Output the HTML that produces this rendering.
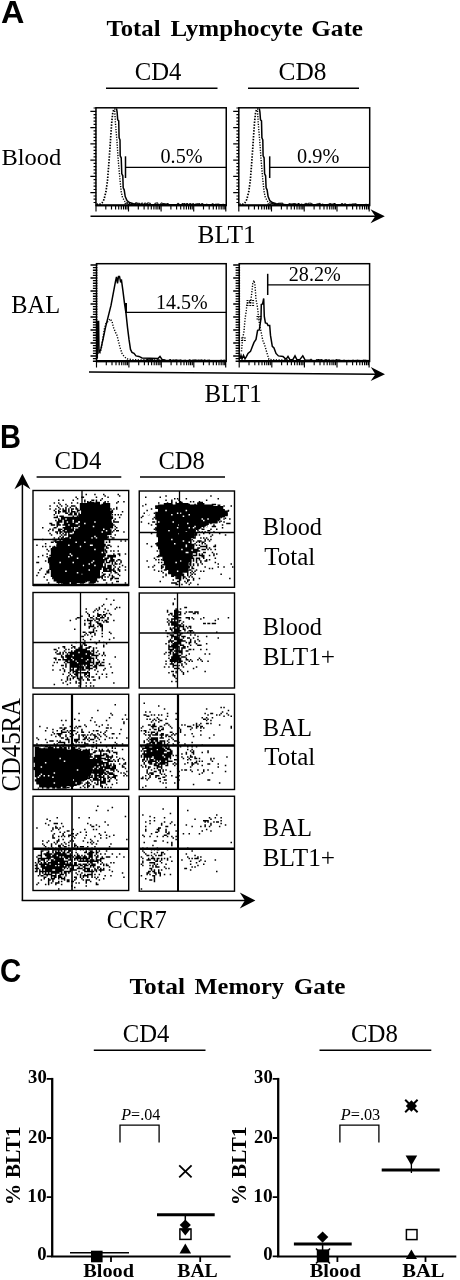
<!DOCTYPE html>
<html lang="en"><head><meta charset="utf-8"><title>Figure</title>
<style>
html,body{margin:0;padding:0;background:#fff}
svg{display:block;font-family:"Liberation Serif", serif}
svg text{fill:#000;stroke:none}
</style></head><body>
<svg width="460" height="1280" viewBox="0 0 460 1280" fill="none" stroke="#000" stroke-linecap="butt" stroke-linejoin="miter">
<rect x="0" y="0" width="460" height="1280" fill="#fff" stroke="none"/>
<path d="M106 88.3L217.5 88.3" stroke-width="1.6"/>
<path d="M248 88.3L359 88.3" stroke-width="1.6"/>
<rect x="95.95" y="107.8" width="130.3" height="97.7" stroke-width="1.5"/>
<path d="M96.25 108.0h-2.7M96.25 111.3h-5.9M96.25 114.6h-2.7M96.25 117.8h-2.7M96.25 121.1h-2.7M96.25 124.3h-2.7M96.25 127.6h-5.9M96.25 130.8h-2.7M96.25 134.1h-2.7M96.25 137.4h-2.7M96.25 140.6h-2.7M96.25 143.9h-5.9M96.25 147.1h-2.7M96.25 150.4h-2.7M96.25 153.6h-2.7M96.25 156.9h-2.7M96.25 160.2h-5.9M96.25 163.4h-2.7M96.25 166.7h-2.7M96.25 169.9h-2.7M96.25 173.2h-2.7M96.25 176.4h-5.9M96.25 179.7h-2.7M96.25 183.0h-2.7M96.25 186.2h-2.7M96.25 189.5h-2.7M96.25 192.7h-5.9M96.25 196.0h-2.7M96.25 199.2h-2.7M96.25 202.5h-2.7" stroke-width="1.2"/>
<path d="M96.0 205.5v6M105.8 205.5v3.9M111.5 205.5v3.9M115.6 205.5v3.9M118.7 205.5v3.9M121.3 205.5v3.9M123.5 205.5v3.9M125.4 205.5v3.9M127.0 205.5v3.9M128.5 205.5v6M138.3 205.5v3.9M144.1 205.5v3.9M148.1 205.5v3.9M151.3 205.5v3.9M153.9 205.5v3.9M156.1 205.5v3.9M157.9 205.5v3.9M159.6 205.5v3.9M161.1 205.5v6M170.9 205.5v3.9M176.6 205.5v3.9M180.7 205.5v3.9M183.9 205.5v3.9M186.4 205.5v3.9M188.6 205.5v3.9M190.5 205.5v3.9M192.2 205.5v3.9M193.7 205.5v6M203.5 205.5v3.9M209.2 205.5v3.9M213.3 205.5v3.9M216.4 205.5v3.9M219.0 205.5v3.9M221.2 205.5v3.9M223.1 205.5v3.9M224.8 205.5v3.9M225.8 205.5v6" stroke-width="1.15"/>
<path d="M95.95 205.2h130.3" stroke-width="2.1"/>
<rect x="238.8" y="107.8" width="130.9" height="97.7" stroke-width="1.5"/>
<path d="M239.10 108.0h-2.7M239.10 111.3h-5.9M239.10 114.6h-2.7M239.10 117.8h-2.7M239.10 121.1h-2.7M239.10 124.3h-2.7M239.10 127.6h-5.9M239.10 130.8h-2.7M239.10 134.1h-2.7M239.10 137.4h-2.7M239.10 140.6h-2.7M239.10 143.9h-5.9M239.10 147.1h-2.7M239.10 150.4h-2.7M239.10 153.6h-2.7M239.10 156.9h-2.7M239.10 160.2h-5.9M239.10 163.4h-2.7M239.10 166.7h-2.7M239.10 169.9h-2.7M239.10 173.2h-2.7M239.10 176.4h-5.9M239.10 179.7h-2.7M239.10 183.0h-2.7M239.10 186.2h-2.7M239.10 189.5h-2.7M239.10 192.7h-5.9M239.10 196.0h-2.7M239.10 199.2h-2.7M239.10 202.5h-2.7" stroke-width="1.2"/>
<path d="M238.8 205.5v6M248.7 205.5v3.9M254.4 205.5v3.9M258.5 205.5v3.9M261.7 205.5v3.9M264.3 205.5v3.9M266.5 205.5v3.9M268.4 205.5v3.9M270.0 205.5v3.9M271.5 205.5v6M281.4 205.5v3.9M287.1 205.5v3.9M291.2 205.5v3.9M294.4 205.5v3.9M297.0 205.5v3.9M299.2 205.5v3.9M301.1 205.5v3.9M302.8 205.5v3.9M304.2 205.5v6M314.1 205.5v3.9M319.9 205.5v3.9M324.0 205.5v3.9M327.1 205.5v3.9M329.7 205.5v3.9M331.9 205.5v3.9M333.8 205.5v3.9M335.5 205.5v3.9M337.0 205.5v6M346.8 205.5v3.9M352.6 205.5v3.9M356.7 205.5v3.9M359.8 205.5v3.9M362.4 205.5v3.9M364.6 205.5v3.9M366.5 205.5v3.9M368.2 205.5v3.9M369.2 205.5v6" stroke-width="1.15"/>
<path d="M238.8 205.2h130.9" stroke-width="2.1"/>
<rect x="96.5" y="263.7" width="129.7" height="97.7" stroke-width="1.5"/>
<path d="M97.40 265.0h-6.9M97.40 267.6h-4.5M97.40 270.2h-4.5M97.40 272.8h-4.5M97.40 275.4h-4.5M97.40 278.0h-6.9M97.40 280.6h-4.5M97.40 283.2h-4.5M97.40 285.8h-4.5M97.40 288.4h-4.5M97.40 291.0h-6.9M97.40 293.6h-4.5M97.40 296.2h-4.5M97.40 298.8h-4.5M97.40 301.4h-4.5M97.40 304.0h-6.9M97.40 306.6h-4.5M97.40 309.2h-4.5M97.40 311.8h-4.5M97.40 314.4h-4.5M97.40 317.0h-6.9M97.40 319.6h-4.5M97.40 322.2h-4.5M97.40 324.8h-4.5M97.40 327.4h-4.5M97.40 330.0h-6.9M97.40 332.6h-4.5M97.40 335.2h-4.5M97.40 337.8h-4.5M97.40 340.4h-4.5M97.40 343.0h-6.9M97.40 345.6h-4.5M97.40 348.2h-4.5M97.40 350.8h-4.5M97.40 353.4h-4.5M97.40 356.0h-6.9M97.40 358.6h-4.5M97.40 361.2h-4.5" stroke-width="1.35"/>
<path d="M96.5 361.4v6M106.3 361.4v3.9M112.0 361.4v3.9M116.0 361.4v3.9M119.2 361.4v3.9M121.7 361.4v3.9M123.9 361.4v3.9M125.8 361.4v3.9M127.4 361.4v3.9M128.9 361.4v6M138.7 361.4v3.9M144.4 361.4v3.9M148.4 361.4v3.9M151.6 361.4v3.9M154.2 361.4v3.9M156.3 361.4v3.9M158.2 361.4v3.9M159.9 361.4v3.9M161.3 361.4v6M171.1 361.4v3.9M176.8 361.4v3.9M180.9 361.4v3.9M184.0 361.4v3.9M186.6 361.4v3.9M188.8 361.4v3.9M190.6 361.4v3.9M192.3 361.4v3.9M193.8 361.4v6M203.5 361.4v3.9M209.2 361.4v3.9M213.3 361.4v3.9M216.4 361.4v3.9M219.0 361.4v3.9M221.2 361.4v3.9M223.1 361.4v3.9M224.7 361.4v3.9M225.7 361.4v6" stroke-width="1.15"/>
<path d="M96.5 361.09999999999997h129.7" stroke-width="2.1"/>
<rect x="239.2" y="263.7" width="130.4" height="97.7" stroke-width="1.5"/>
<path d="M240.10 265.0h-6.9M240.10 267.6h-4.5M240.10 270.2h-4.5M240.10 272.8h-4.5M240.10 275.4h-4.5M240.10 278.0h-6.9M240.10 280.6h-4.5M240.10 283.2h-4.5M240.10 285.8h-4.5M240.10 288.4h-4.5M240.10 291.0h-6.9M240.10 293.6h-4.5M240.10 296.2h-4.5M240.10 298.8h-4.5M240.10 301.4h-4.5M240.10 304.0h-6.9M240.10 306.6h-4.5M240.10 309.2h-4.5M240.10 311.8h-4.5M240.10 314.4h-4.5M240.10 317.0h-6.9M240.10 319.6h-4.5M240.10 322.2h-4.5M240.10 324.8h-4.5M240.10 327.4h-4.5M240.10 330.0h-6.9M240.10 332.6h-4.5M240.10 335.2h-4.5M240.10 337.8h-4.5M240.10 340.4h-4.5M240.10 343.0h-6.9M240.10 345.6h-4.5M240.10 348.2h-4.5M240.10 350.8h-4.5M240.10 353.4h-4.5M240.10 356.0h-6.9M240.10 358.6h-4.5M240.10 361.2h-4.5" stroke-width="1.35"/>
<path d="M239.2 361.4v6M249.0 361.4v3.9M254.8 361.4v3.9M258.8 361.4v3.9M262.0 361.4v3.9M264.6 361.4v3.9M266.8 361.4v3.9M268.6 361.4v3.9M270.3 361.4v3.9M271.8 361.4v6M281.6 361.4v3.9M287.4 361.4v3.9M291.4 361.4v3.9M294.6 361.4v3.9M297.2 361.4v3.9M299.4 361.4v3.9M301.2 361.4v3.9M302.9 361.4v3.9M304.4 361.4v6M314.2 361.4v3.9M320.0 361.4v3.9M324.0 361.4v3.9M327.2 361.4v3.9M329.8 361.4v3.9M332.0 361.4v3.9M333.8 361.4v3.9M335.5 361.4v3.9M337.0 361.4v6M346.8 361.4v3.9M352.6 361.4v3.9M356.6 361.4v3.9M359.8 361.4v3.9M362.4 361.4v3.9M364.6 361.4v3.9M366.4 361.4v3.9M368.1 361.4v3.9M369.1 361.4v6" stroke-width="1.15"/>
<path d="M239.2 361.09999999999997h130.4" stroke-width="2.1"/>
<path d="M90.5 216.3L376.8 216.3" stroke-width="1.5"/>
<path d="M384.8 216.3L370.5 209.3L375.2 216.3L370.5 223.3Z" fill="#000" stroke="none"/>
<g transform="rotate(0.45 89 371.9)"><path d="M89 371.9L377 371.9" stroke-width="1.5"/>
<path d="M385 371.9L370.7 364.9L375.4 371.9L370.7 378.9Z" fill="#000" stroke="none"/></g>
<path d="M96.5 204.0L99.5 204.5L102.0 203.0L104.0 199.5L106.0 191.5L107.5 180.5L108.7 165.5L109.8 150.5L110.8 135.5L111.8 121.5L112.8 112.5L114.0 109.0L115.5 109.0" stroke-width="1.7" stroke-dasharray="1.5 1.4"/>
<path d="M116.5 108.3L117.1 111.8L117.7 119.8L118.7 120.8L119.1 137.8L120.0 139.8L120.2 155.8L121.2 157.8L121.8 173.8L122.8 175.8L123.2 187.8L124.2 189.8L125.2 196.5L127.0 200.5L129.4 202.5L133.4 203.7L141.4 204.5L165.4 204.7L225.6 205.0" stroke-width="1.5"/>
<path d="M114.7 110.8L115.5 123.8L117.0 141.8L118.2 159.8L119.8 177.8L121.2 191.8L122.5 197.5L125.0 201.5L128.4 203.3L135.4 204.3" stroke-width="1.4" stroke-dasharray="1.2 1.4"/>
<path d="M239.3 204.0L242.3 204.5L244.8 203.0L246.8 199.5L248.8 191.5L250.3 180.5L251.5 165.5L252.6 150.5L253.6 135.5L254.6 121.5L255.6 112.5L256.8 109.0L258.3 109.0" stroke-width="1.7" stroke-dasharray="1.5 1.4"/>
<path d="M259.3 108.3L259.9 111.8L260.5 119.8L261.5 120.8L261.9 137.8L262.8 139.8L263.1 155.8L264.1 157.8L264.6 173.8L265.6 175.8L266.1 187.8L267.1 189.8L268.1 196.5L269.8 200.5L272.3 202.5L276.3 203.7L284.3 204.5L308.3 204.7L368.5 205.0" stroke-width="1.5"/>
<path d="M257.5 110.8L258.3 123.8L259.8 141.8L261.1 159.8L262.6 177.8L264.1 191.8L265.3 197.5L267.8 201.5L271.3 203.3L278.3 204.3" stroke-width="1.4" stroke-dasharray="1.2 1.4"/>
<path d="M125.0 204.5V203.3H126.5V203.2H128.0V204.5H129.4V204.5H130.9V204.5H132.4V204.0H133.9V204.5H135.4V202.8H136.9V203.2H138.4V203.3H139.9V204.5H141.4V203.1H142.9V204.5H144.4V203.1H145.9V203.9H147.4V202.9H148.9V203.2H150.4V204.5H151.9V204.5H153.4V204.5H154.9V203.2H156.4V202.9H157.9V204.5H159.4V204.3H160.9V203.0H162.4V203.5H163.9V203.7H165.4V204.0H166.9V203.6H168.4V204.5H169.9V204.5H171.4V204.5H172.9V204.5H174.4V204.5H175.9V204.5H177.4V203.4H178.9V204.5H180.4V204.5H181.9V203.6H183.4V203.5H184.9V204.2H186.4V203.5H187.9V204.5H189.4V203.6H190.9V204.3H192.4V203.7H193.9V204.5H195.4V203.9H196.9V203.8H198.4V203.6H199.9V204.5H201.4V203.6H202.9V204.4H204.4V204.5H205.9V204.2H207.4V204.5H208.9V204.5H210.4V204.5H211.9V203.8H213.4V204.5H214.9V204.2H216.4V204.1H217.9V204.1H219.4V204.5H220.9V204.5H222.4V204.3H223.9V204.5H225.4" stroke-width="1.0"/>
<path d="M267.8 204.5V203.8H269.3V204.5H270.8V203.3H272.3V203.6H273.8V204.5H275.3V204.5H276.8V204.5H278.3V203.2H279.8V203.2H281.3V203.1H282.8V204.5H284.3V204.4H285.8V204.5H287.3V204.5H288.8V203.7H290.3V203.9H291.8V203.9H293.3V203.5H294.8V203.8H296.3V204.5H297.8V203.5H299.3V204.5H300.8V204.1H302.3V204.5H303.8V204.2H305.3V203.4H306.8V204.0H308.3V203.2H309.8V203.2H311.3V204.0H312.8V204.5H314.3V204.5H315.8V204.2H317.3V203.8H318.8V203.4H320.3V204.5H321.8V204.1H323.3V204.5H324.8V204.5H326.3V204.5H327.8V204.3H329.3V203.6H330.8V204.1H332.3V204.0H333.8V203.5H335.3V204.5H336.8V204.5H338.3V204.5H339.8V204.5H341.3V203.6H342.8V204.5H344.3V203.8H345.8V204.5H347.3V204.5H348.8V204.3H350.3V204.3H351.8V204.0H353.3V203.9H354.8V203.8H356.3V204.5H357.8V204.5H359.3V204.5H360.8V204.5H362.3V204.5H363.8V204.5H365.3V204.3H366.8V204.5H368.3V204.3H369.8" stroke-width="1.0"/>
<path d="M140.9 360.4V360.4H142.4V360.4H143.9V360.1H145.4V360.4H146.9V359.5H148.4V360.2H149.9V359.4H151.4V359.5H152.9V360.4H154.4V360.4H155.9V360.4H157.4V359.7H158.9V360.4H160.4V360.1H161.9V359.9H163.4V359.9H164.9V360.4H166.4V360.3H167.9V360.3H169.4V359.5H170.9V360.4H172.4V359.9H173.9V360.1H175.4V359.8H176.9V360.1H178.4V360.1H179.9V359.9H181.4V360.4H182.9V360.3H184.4V360.1H185.9V360.4H187.4V360.4H188.9V359.8H190.4V360.4H191.9V360.1H193.4V359.9H194.9V359.9H196.4V360.2H197.9V360.0H199.4V360.1H200.9V359.9H202.4V360.4H203.9V359.9H205.4V360.4H206.9V360.2H208.4V360.0H209.9V360.4H211.4V360.4H212.9V360.4H214.4V360.4H215.9V360.4H217.4V360.4H218.9V360.4H220.4V360.1H221.9V360.4H223.4V360.1H224.9V360.4H226.4" stroke-width="1.0"/>
<path d="M308.8 360.4V360.4H310.3V359.3H311.8V360.4H313.3V360.4H314.8V360.4H316.3V359.5H317.8V359.5H319.3V359.6H320.8V359.6H322.3V360.4H323.8V360.1H325.3V359.6H326.8V360.2H328.3V359.8H329.8V360.4H331.3V360.1H332.8V360.1H334.3V360.3H335.8V359.6H337.3V359.8H338.8V359.9H340.3V360.4H341.8V360.4H343.3V360.1H344.8V360.4H346.3V360.4H347.8V360.3H349.3V360.4H350.8V360.4H352.3V360.1H353.8V360.4H355.3V360.3H356.8V360.1H358.3V360.3H359.8V360.4H361.3V360.4H362.8V360.1H364.3V360.1H365.8V360.3H367.3V360.4H368.8" stroke-width="1.0"/>
<path d="M125.5 156.3L125.5 178" stroke-width="1.5"/>
<path d="M125.5 167.3L226.25 167.3" stroke-width="1.3"/>
<path d="M269.7 156.3L269.7 178" stroke-width="1.5"/>
<path d="M269.7 167.3L369.70000000000005 167.3" stroke-width="1.3"/>
<path d="M97.3 358.4L97.6 321.4L98.6 321.4L99 352.4L100 351.4L101 348.4L103 339.4L105.5 327.4L108 317.4L110 309.4L111 305.4L112.5 297.4L114 289.4L115.5 281.4L116.5 276.9L117.5 283.4L118.5 276.4L119.5 276.4L120.5 281.4L121.5 280.4L123 291.4L124.5 303.4L126 313.4L127.5 327.4L129 339.4L130.5 349.4L132 352.4L134 353.4L136 355.9L139 356.4L142 357.9L150 358.2L158 358.6L160 356.4L162 359.4L166 360.4L226.2 360.8" stroke-width="1.5"/>
<path d="M100 353.4L101.5 347.4L103 337.4L104.5 328.4L106 323.4L108 321.4L110 318.9L112 321.4L113.5 327.4L115.5 332.4L117 335.4L118.5 341.4L120 347.4L122 353.4L124 356.4L127 358.9L132 359.6L140 359.9L160 359.9" stroke-width="1.4" stroke-dasharray="1.2 1.5"/>
<path d="M126 303L126 313" stroke-width="2"/>
<path d="M126 312.4L226.25 312.4" stroke-width="1.3"/>
<path d="M240 358.9L241 355.4L242 358.9L243.5 355.4L245 358.9L246.5 356.4L248 353.4L250.5 351.4L252 347.4L254 342.4L256 339.4L257.6 330.4L259.3 329.9L261 318.4L261.3 304.4L262.6 303.9L263.7 298.4L264.3 316.4L265.4 322.9L267 323.4L268 325.4L269.7 325.4L270.5 335.4L272.3 346.4L274 347.9L276 353.4L278.4 355.9L283 356.4L286 359.4L288 356.4L290 359.9L293 359.4L295 355.9L297 359.9L300 359.4L302.8 355.9L305 359.9L312 360.4L369.7 360.8" stroke-width="1.5"/>
<path d="M241.5 351.4L242.5 339.4L244 331.4L245 319.4L246.3 310.4L247 303.4L249 301.4L250.5 303.4L251.5 295.4L252.8 283.4L254 280.4L255 285.4L256 299.4L257.2 305.4L258.4 315.4L259.6 325.4L261 331.4L262.8 340.4L264.5 344.4L266.5 351.4L268.9 359.4L275 359.9L290 359.9" stroke-width="1.4" stroke-dasharray="1.2 1.5"/>
<path d="M246.5 300.5h8M246.5 303h8M246.5 305.5h8M256.5 316.5h5M256.5 319h5M241 338h5M241 340.5h5" stroke-width="1.2" stroke-dasharray="2 0.8"/>
<path d="M267.7 273.8L267.7 295" stroke-width="1.5"/>
<path d="M267.7 284.9L369.70000000000005 284.9" stroke-width="1.3"/>
<path d="M36.6 477L121.3 477" stroke-width="1.6"/>
<path d="M140 477L225 477" stroke-width="1.6"/>
<path d="M22.4 900.4L22.4 481.7" stroke-width="1.5"/>
<path d="M22.4 473.7L14.399999999999999 489.3L22.4 484.2L30.4 489.3Z" fill="#000" stroke="none"/>
<path d="M21.65 900.4L247.4 900.4" stroke-width="1.5"/>
<path d="M255.4 900.4L239.8 892.4L244.9 900.4L239.8 908.4Z" fill="#000" stroke="none"/>
<path d="M79.8 503.1H84.1V503.1H85.5V503.1H87.0V501.7H88.5V501.7H91.3V501.7H94.2V503.1H95.7V501.7H100.0V504.6H103.0V503.1H107.3V503.1H108.8V503.1H108.8V503.1H110.2V508.9H110.2V510.4H113.1V511.8H113.1V513.3H111.6V516.2H113.1V519.1H111.6V522.0H111.6V523.4H113.1V527.8H110.2V529.2H111.6V532.1H111.6V533.6H111.6V535.0H107.3V539.4H104.4V540.9H104.4V543.8H105.8V545.2H105.8V546.6H104.4V549.5H104.4V552.4H105.8V555.4H104.4V556.8H103.0V559.7H104.4V562.6H104.4V562.6H103.0V566.9H101.5V568.4H101.5V569.9H100.0V574.2H100.0V574.2H100.0V578.5H97.1V578.5H97.1V581.4H95.7V582.9H92.8V582.9H89.9V584.4H89.9V581.4H85.5V582.9H82.6V582.9H81.2V582.9H76.8V582.9H76.8V582.9H76.8V584.4H72.5V584.4H71.0V581.4H69.6V584.4H66.7V584.4H62.4V582.9H59.4V582.9H56.5V581.4H55.1V581.4H53.6V578.5H52.2V577.1H50.8V575.6H49.3V575.6H50.8V569.9H49.3V568.4H49.3V565.5H50.8V565.5H49.3V562.6H47.9V558.2H49.3V556.8H50.8V553.9H47.9V553.9H50.8V548.1H52.2V546.6H53.6V546.6H56.5V543.8H56.5V540.9H58.0V540.9H62.4V539.4H63.8V537.9H68.1V539.4H71.0V537.9H72.5V536.5H72.5V533.6H74.0V530.7H75.4V529.2H76.8V529.2H79.8V524.9H79.8V524.9H79.8V520.5H78.3V517.6H78.3V514.8H79.8V514.8H81.2V511.8H81.2V510.4H79.8V507.5Z" fill="#000" stroke="none"/>
<path d="M110.2 511.8h1.5M95.7 508.9h1.5M103.0 536.5h1.5M87.0 536.5h1.5M105.8 519.1h1.5M76.8 535.0h1.5M95.7 514.8h1.5M100.0 524.9h1.5M111.6 510.4h1.5M107.3 536.5h1.5M110.2 519.1h1.5M88.5 530.7h1.5M97.1 522.0h1.5M110.2 517.6h1.5M72.5 517.6h1.5M76.8 529.2h1.5M98.6 514.8h1.5M95.7 529.2h1.5M97.1 533.6h1.5M95.7 530.7h1.5M110.2 536.5h1.5M89.9 529.2h1.5M76.8 510.4h1.5M76.8 532.1h1.5M84.1 520.5h1.5M94.2 520.5h1.5M89.9 523.4h1.5M114.5 522.0h1.5M101.5 530.7h1.5M94.2 508.9h1.5M89.9 532.1h1.5M79.8 514.8h1.5M105.8 529.2h1.5M97.1 508.9h1.5M105.8 514.8h1.5M87.0 513.3h1.5M81.2 520.5h1.5M84.1 524.9h1.5M72.5 524.9h1.5M89.9 501.7h1.5M103.0 517.6h1.5M74.0 511.8h1.5M98.6 516.2h1.5M104.4 527.8h1.5M103.0 524.9h1.5M108.8 527.8h1.5M100.0 500.2h1.5M104.4 533.6h1.5M92.8 516.2h1.5M116.0 503.1h1.5M100.0 545.2h1.5M87.0 527.8h1.5M114.5 519.1h1.5M87.0 520.5h1.5M98.6 529.2h1.5M95.7 519.1h1.5M85.5 517.6h1.5M104.4 522.0h1.5M123.2 532.1h1.5M103.0 494.4h1.5M101.5 526.4h1.5M113.1 524.9h1.5M95.7 526.4h1.5M76.8 530.7h1.5M98.6 513.3h1.5M108.8 539.4h1.5M82.6 514.8h1.5M98.6 523.4h1.5M91.3 511.8h1.5M117.5 530.7h1.5M84.1 507.5h1.5M113.1 530.7h1.5M114.5 529.2h1.5M87.0 523.4h1.5M74.0 513.3h1.5M88.5 519.1h1.5M103.0 523.4h1.5M92.8 529.2h1.5M97.1 513.3h1.5M89.9 520.5h1.5M94.2 522.0h1.5M95.7 523.4h1.5M100.0 532.1h1.5M100.0 519.1h1.5M100.0 511.8h1.5M76.8 522.0h1.5M85.5 494.4h1.5M85.5 536.5h1.5M92.8 507.5h1.5M88.5 526.4h1.5M101.5 523.4h1.5M110.2 527.8h1.5M105.8 510.4h1.5M94.2 527.8h1.5M92.8 532.1h1.5M94.2 546.6h1.5M108.8 519.1h1.5M97.1 546.6h1.5M105.8 520.5h1.5M84.1 523.4h1.5M104.4 520.5h1.5M104.4 526.4h1.5M98.6 522.0h1.5M85.5 514.8h1.5M95.7 506.1h1.5M91.3 500.2h1.5M101.5 520.5h1.5M94.2 507.5h1.5M114.5 526.4h1.5M107.3 511.8h1.5M94.2 503.1h1.5M104.4 530.7h1.5M76.8 520.5h1.5M103.0 503.1h1.5M78.3 510.4h1.5M89.9 507.5h1.5M103.0 527.8h1.5M111.6 532.1h1.5M82.6 516.2h1.5M85.5 510.4h1.5M95.7 520.5h1.5M101.5 504.6h1.5M94.2 517.6h1.5M95.7 513.3h1.5M94.2 494.4h1.5M85.5 522.0h1.5M81.2 523.4h1.5M97.1 507.5h1.5M92.8 517.6h1.5M100.0 527.8h1.5M95.7 511.8h1.5M88.5 507.5h1.5M92.8 513.3h1.5M85.5 520.5h1.5M91.3 522.0h1.5M101.5 516.2h1.5M118.9 517.6h1.5M107.3 522.0h1.5M107.3 497.3h1.5M88.5 523.4h1.5M101.5 543.8h1.5M98.6 533.6h1.5M103.0 530.7h1.5M101.5 519.1h1.5M101.5 510.4h1.5M107.3 510.4h1.5M98.6 542.3h1.5M107.3 520.5h1.5M101.5 527.8h1.5M88.5 537.9h1.5M113.1 520.5h1.5M110.2 513.3h1.5M103.0 516.2h1.5M88.5 527.8h1.5M108.8 520.5h1.5M91.3 543.8h1.5M78.3 539.4h1.5M110.2 508.9h1.5M81.2 504.6h1.5M107.3 516.2h1.5M95.7 517.6h1.5M94.2 510.4h1.5M87.0 522.0h1.5M91.3 536.5h1.5M91.3 513.3h1.5M87.0 517.6h1.5M98.6 526.4h1.5M101.5 542.3h1.5M88.5 520.5h1.5M123.2 501.7h1.5M97.1 524.9h1.5M94.2 524.9h1.5M97.1 529.2h1.5M76.8 511.8h1.5M95.7 510.4h1.5M85.5 527.8h1.5M89.9 527.8h1.5M100.0 516.2h1.5M95.7 527.8h1.5M114.5 514.8h1.5M97.1 519.1h1.5M111.6 523.4h1.5M104.4 514.8h1.5M78.3 535.0h1.5M104.4 503.1h1.5M103.0 519.1h1.5M81.2 519.1h1.5M111.6 514.8h1.5M85.5 507.5h1.5M98.6 543.8h1.5M91.3 514.8h1.5M85.5 508.9h1.5M82.6 519.1h1.5M89.9 524.9h1.5M104.4 513.3h1.5M97.1 527.8h1.5M111.6 517.6h1.5M84.1 501.7h1.5M92.8 514.8h1.5M104.4 519.1h1.5M98.6 537.9h1.5M88.5 545.2h1.5M97.1 530.7h1.5M84.1 500.2h1.5M101.5 529.2h1.5M103.0 546.6h1.5M105.8 524.9h1.5M113.1 508.9h1.5M104.4 517.6h1.5M105.8 542.3h1.5M95.7 522.0h1.5M94.2 530.7h1.5M84.1 535.0h1.5M107.3 524.9h1.5M79.8 536.5h1.5M100.0 529.2h1.5M98.6 519.1h1.5M81.2 530.7h1.5M100.0 522.0h1.5M95.7 500.2h1.5M91.3 527.8h1.5M108.8 517.6h1.5M94.2 536.5h1.5M92.8 527.8h1.5M113.1 522.0h1.5M108.8 513.3h1.5M98.6 520.5h1.5M97.1 532.1h1.5M120.3 514.8h1.5M89.9 526.4h1.5M85.5 526.4h1.5M101.5 517.6h1.5M101.5 506.1h1.5M103.0 506.1h1.5M88.5 514.8h1.5M91.3 529.2h1.5M97.1 517.6h1.5M101.5 536.5h1.5M95.7 524.9h1.5M108.8 523.4h1.5M82.6 545.2h1.5M117.5 501.7h1.5M105.8 527.8h1.5M92.8 510.4h1.5M95.7 501.7h1.5M100.0 513.3h1.5M107.3 537.9h1.5M88.5 516.2h1.5M71.0 539.4h1.5M101.5 507.5h1.5M100.0 520.5h1.5M78.3 523.4h1.5M107.3 501.7h1.5M104.4 523.4h1.5M104.4 516.2h1.5M103.0 513.3h1.5M94.2 537.9h1.5M84.1 513.3h1.5M98.6 530.7h1.5M100.0 526.4h1.5M95.7 535.0h1.5M100.0 508.9h1.5M100.0 523.4h1.5M85.5 529.2h1.5M88.5 524.9h1.5M87.0 543.8h1.5M91.3 533.6h1.5M118.9 495.9h1.5M91.3 526.4h1.5M117.5 522.0h1.5M79.8 529.2h1.5M78.3 532.1h1.5M89.9 522.0h1.5M108.8 522.0h1.5M82.6 504.6h1.5M107.3 527.8h1.5M88.5 529.2h1.5M74.0 517.6h1.5M104.4 495.9h1.5M97.1 526.4h1.5M121.8 511.8h1.5M92.8 522.0h1.5M107.3 513.3h1.5M97.1 514.8h1.5M79.8 532.1h1.5M92.8 500.2h1.5M108.8 524.9h1.5M85.5 513.3h1.5M89.9 514.8h1.5M84.1 527.8h1.5M82.6 527.8h1.5M85.5 524.9h1.5M110.2 523.4h1.5M88.5 522.0h1.5M97.1 503.1h1.5M103.0 529.2h1.5M92.8 520.5h1.5M117.5 494.4h1.5M105.8 548.1h1.5M71.0 522.0h1.5M101.5 498.8h1.5M104.4 524.9h1.5M74.0 520.5h1.5M101.5 522.0h1.5M108.8 540.9h1.5M87.0 501.7h1.5M104.4 536.5h1.5M89.9 513.3h1.5M104.4 511.8h1.5M120.3 540.9h1.5M88.5 513.3h1.5M85.5 533.6h1.5M76.8 498.8h1.5M82.6 513.3h1.5M75.4 519.1h1.5M94.2 519.1h1.5M103.0 526.4h1.5M89.9 517.6h1.5M111.6 537.9h1.5M107.3 529.2h1.5M108.8 508.9h1.5M110.2 522.0h1.5M89.9 511.8h1.5M95.7 542.3h1.5M111.6 527.8h1.5M100.0 533.6h1.5M116.0 527.8h1.5M98.6 506.1h1.5M116.0 522.0h1.5M87.0 535.0h1.5M89.9 503.1h1.5M94.2 513.3h1.5M98.6 508.9h1.5M94.2 535.0h1.5M95.7 497.3h1.5M103.0 514.8h1.5M97.1 542.3h1.5M81.2 497.3h1.5M76.8 524.9h1.5M81.2 527.8h1.5M88.5 517.6h1.5M98.6 535.0h1.5M116.0 530.7h1.5M97.1 523.4h1.5M114.5 535.0h1.5M92.8 524.9h1.5M91.3 507.5h1.5M91.3 506.1h1.5M108.8 526.4h1.5M104.4 501.7h1.5M116.0 508.9h1.5M85.5 566.9h1.5M79.8 564.0h1.5M94.2 543.8h1.5M56.5 545.2h1.5M68.1 555.4h1.5M82.6 565.5h1.5M76.8 553.9h1.5M69.6 572.8h1.5M89.9 562.6h1.5M72.5 580.0h1.5M68.1 569.9h1.5M95.7 558.2h1.5M89.9 548.1h1.5M92.8 564.0h1.5M52.2 569.9h1.5M62.4 577.1h1.5M66.7 559.7h1.5M81.2 558.2h1.5M81.2 555.4h1.5M88.5 562.6h1.5M95.7 562.6h1.5M47.9 562.6h1.5M84.1 574.2h1.5M59.4 580.0h1.5M74.0 569.9h1.5M71.0 548.1h1.5M94.2 572.8h1.5M101.5 572.8h1.5M68.1 542.3h1.5M66.7 553.9h1.5M63.8 568.4h1.5M82.6 558.2h1.5M79.8 559.7h1.5M79.8 571.3h1.5M92.8 553.9h1.5M52.2 578.5h1.5M78.3 575.6h1.5M50.8 558.2h1.5M76.8 545.2h1.5M68.1 571.3h1.5M94.2 581.4h1.5M63.8 545.2h1.5M85.5 572.8h1.5M79.8 546.6h1.5M89.9 571.3h1.5M85.5 556.8h1.5M81.2 571.3h1.5M68.1 539.4h1.5M82.6 568.4h1.5M76.8 572.8h1.5M68.1 561.1h1.5M72.5 568.4h1.5M103.0 559.7h1.5M110.2 580.0h1.5M89.9 568.4h1.5M105.8 559.7h1.5M75.4 549.5h1.5M84.1 578.5h1.5M74.0 564.0h1.5M53.6 574.2h1.5M65.2 552.4h1.5M91.3 574.2h1.5M55.1 572.8h1.5M91.3 555.4h1.5M53.6 552.4h1.5M66.7 565.5h1.5M71.0 537.9h1.5M81.2 543.8h1.5M91.3 548.1h1.5M68.1 577.1h1.5M91.3 569.9h1.5M82.6 543.8h1.5M60.9 568.4h1.5M65.2 553.9h1.5M60.9 537.9h1.5M87.0 578.5h1.5M79.8 551.0h1.5M97.1 565.5h1.5M91.3 580.0h1.5M95.7 556.8h1.5M94.2 571.3h1.5M52.2 556.8h1.5M53.6 561.1h1.5M85.5 549.5h1.5M43.5 577.1h1.5M82.6 580.0h1.5M55.1 574.2h1.5M74.0 565.5h1.5M74.0 574.2h1.5M94.2 562.6h1.5M55.1 571.3h1.5M69.6 569.9h1.5M81.2 581.4h1.5M82.6 582.9h1.5M68.1 566.9h1.5M95.7 577.1h1.5M85.5 546.6h1.5M56.5 565.5h1.5M63.8 575.6h1.5M89.9 542.3h1.5M63.8 564.0h1.5M69.6 559.7h1.5M84.1 552.4h1.5M84.1 553.9h1.5M68.1 568.4h1.5M68.1 565.5h1.5M103.0 562.6h1.5M74.0 571.3h1.5M71.0 575.6h1.5M56.5 569.9h1.5M68.1 552.4h1.5M105.8 552.4h1.5M104.4 569.9h1.5M100.0 551.0h1.5M95.7 580.0h1.5M75.4 561.1h1.5M116.0 564.0h1.5M69.6 553.9h1.5M84.1 565.5h1.5M79.8 582.9h1.5M71.0 568.4h1.5M100.0 549.5h1.5M55.1 549.5h1.5M60.9 539.4h1.5M84.1 539.4h1.5M85.5 580.0h1.5M46.4 571.3h1.5M65.2 558.2h1.5M78.3 568.4h1.5M71.0 562.6h1.5M68.1 564.0h1.5M58.0 562.6h1.5M46.4 556.8h1.5M107.3 562.6h1.5M60.9 542.3h1.5M65.2 571.3h1.5M82.6 561.1h1.5M62.4 549.5h1.5M98.6 565.5h1.5M62.4 536.5h1.5M58.0 561.1h1.5M72.5 545.2h1.5M60.9 582.9h1.5M65.2 572.8h1.5M49.3 558.2h1.5M81.2 574.2h1.5M59.4 569.9h1.5M82.6 552.4h1.5M84.1 551.0h1.5M63.8 561.1h1.5M60.9 543.8h1.5M69.6 571.3h1.5M71.0 577.1h1.5M58.0 546.6h1.5M101.5 566.9h1.5M92.8 552.4h1.5M89.9 565.5h1.5M87.0 562.6h1.5M95.7 553.9h1.5M95.7 552.4h1.5M60.9 551.0h1.5M69.6 546.6h1.5M72.5 553.9h1.5M68.1 551.0h1.5M78.3 556.8h1.5M78.3 565.5h1.5M82.6 535.0h1.5M89.9 543.8h1.5M71.0 574.2h1.5M69.6 574.2h1.5M53.6 540.9h1.5M97.1 566.9h1.5M84.1 564.0h1.5M84.1 548.1h1.5M92.8 555.4h1.5M92.8 562.6h1.5M44.9 546.6h1.5M95.7 559.7h1.5M71.0 565.5h1.5M69.6 555.4h1.5M78.3 564.0h1.5M101.5 562.6h1.5M104.4 574.2h1.5M75.4 553.9h1.5M103.0 568.4h1.5M69.6 539.4h1.5M76.8 556.8h1.5M59.4 548.1h1.5M40.6 568.4h1.5M76.8 559.7h1.5M100.0 564.0h1.5M79.8 558.2h1.5M66.7 580.0h1.5M92.8 582.9h1.5M62.4 574.2h1.5M55.1 568.4h1.5M94.2 578.5h1.5M62.4 575.6h1.5M56.5 575.6h1.5M103.0 555.4h1.5M117.5 574.2h1.5M68.1 540.9h1.5M66.7 575.6h1.5M107.3 558.2h1.5M65.2 555.4h1.5M46.4 572.8h1.5M59.4 574.2h1.5M49.3 546.6h1.5M81.2 552.4h1.5M58.0 569.9h1.5M89.9 539.4h1.5M105.8 568.4h1.5M88.5 539.4h1.5M94.2 545.2h1.5M62.4 537.9h1.5M72.5 565.5h1.5M49.3 555.4h1.5M85.5 581.4h1.5M87.0 558.2h1.5M58.0 551.0h1.5M66.7 564.0h1.5M76.8 581.4h1.5M81.2 549.5h1.5M78.3 553.9h1.5M46.4 549.5h1.5M91.3 552.4h1.5M56.5 564.0h1.5M81.2 569.9h1.5M63.8 574.2h1.5M60.9 569.9h1.5M79.8 565.5h1.5M92.8 561.1h1.5M79.8 555.4h1.5M74.0 561.1h1.5M124.7 569.9h1.5M89.9 551.0h1.5M79.8 549.5h1.5M94.2 533.6h1.5M76.8 565.5h1.5M79.8 569.9h1.5M81.2 564.0h1.5M46.4 553.9h1.5M39.1 569.9h1.5M81.2 559.7h1.5M63.8 555.4h1.5M105.8 582.9h1.5M75.4 577.1h1.5M52.2 539.4h1.5M69.6 551.0h1.5M124.7 553.9h1.5M105.8 546.6h1.5M49.3 533.6h1.5M85.5 564.0h1.5M78.3 533.6h1.5M71.0 552.4h1.5M55.1 551.0h1.5M88.5 568.4h1.5M76.8 568.4h1.5M66.7 562.6h1.5M75.4 559.7h1.5M113.1 568.4h1.5M100.0 543.8h1.5M88.5 572.8h1.5M107.3 577.1h1.5M62.4 565.5h1.5M71.0 556.8h1.5M72.5 546.6h1.5M97.1 581.4h1.5M75.4 574.2h1.5M84.1 569.9h1.5M85.5 574.2h1.5M108.8 571.3h1.5M71.0 555.4h1.5M76.8 569.9h1.5M113.1 561.1h1.5M75.4 552.4h1.5M79.8 561.1h1.5M78.3 562.6h1.5M87.0 549.5h1.5M88.5 580.0h1.5M74.0 553.9h1.5M82.6 564.0h1.5M62.4 552.4h1.5M75.4 569.9h1.5M58.0 549.5h1.5M78.3 566.9h1.5M75.4 558.2h1.5M94.2 542.3h1.5M74.0 562.6h1.5M85.5 555.4h1.5M88.5 582.9h1.5M71.0 566.9h1.5M59.4 566.9h1.5M95.7 575.6h1.5M66.7 578.5h1.5M58.0 575.6h1.5M107.3 571.3h1.5M94.2 558.2h1.5M88.5 559.7h1.5M79.8 566.9h1.5M84.1 562.6h1.5M98.6 564.0h1.5M59.4 555.4h1.5M75.4 556.8h1.5M94.2 548.1h1.5M75.4 568.4h1.5M69.6 565.5h1.5M50.8 549.5h1.5M89.9 574.2h1.5M76.8 555.4h1.5M63.8 569.9h1.5M46.4 580.0h1.5M78.3 572.8h1.5M36.2 575.6h1.5M88.5 536.5h1.5M89.9 540.9h1.5M95.7 566.9h1.5M113.1 555.4h1.5M76.8 574.2h1.5M71.0 561.1h1.5M59.4 568.4h1.5M85.5 562.6h1.5M104.4 558.2h1.5M98.6 555.4h1.5M71.0 553.9h1.5M42.0 555.4h1.5M59.4 559.7h1.5M89.9 559.7h1.5M69.6 578.5h1.5M92.8 572.8h1.5M75.4 575.6h1.5M82.6 566.9h1.5M72.5 574.2h1.5M94.2 569.9h1.5M88.5 548.1h1.5M56.5 553.9h1.5M84.1 580.0h1.5M58.0 565.5h1.5M63.8 553.9h1.5M72.5 569.9h1.5M79.8 575.6h1.5M60.9 572.8h1.5M91.3 562.6h1.5M84.1 555.4h1.5M59.4 556.8h1.5M69.6 581.4h1.5M88.5 552.4h1.5M91.3 566.9h1.5M103.0 556.8h1.5M85.5 571.3h1.5M53.6 546.6h1.5M75.4 542.3h1.5M78.3 548.1h1.5M84.1 558.2h1.5M78.3 561.1h1.5M36.2 562.6h1.5M62.4 556.8h1.5M84.1 537.9h1.5M59.4 565.5h1.5M60.9 571.3h1.5M66.7 568.4h1.5M59.4 562.6h1.5M82.6 571.3h1.5M71.0 559.7h1.5M89.9 556.8h1.5M87.0 559.7h1.5M44.9 574.2h1.5M82.6 562.6h1.5M101.5 552.4h1.5M58.0 559.7h1.5M71.0 551.0h1.5M68.1 549.5h1.5M47.9 551.0h1.5M56.5 568.4h1.5M91.3 561.1h1.5M47.9 558.2h1.5M84.1 571.3h1.5M69.6 561.1h1.5M95.7 551.0h1.5M89.9 553.9h1.5M81.2 568.4h1.5M74.0 559.7h1.5M53.6 572.8h1.5M68.1 578.5h1.5M72.5 555.4h1.5M56.5 562.6h1.5M75.4 578.5h1.5M84.1 566.9h1.5M55.1 548.1h1.5M79.8 562.6h1.5M78.3 551.0h1.5M74.0 551.0h1.5M82.6 569.9h1.5M104.4 577.1h1.5M63.8 556.8h1.5M108.8 569.9h1.5M42.0 546.6h1.5M44.9 543.8h1.5M37.7 562.6h1.5M78.3 574.2h1.5M49.3 564.0h1.5M60.9 559.7h1.5M72.5 564.0h1.5M98.6 577.1h1.5M69.6 552.4h1.5M91.3 577.1h1.5M87.0 566.9h1.5M81.2 556.8h1.5M47.9 569.9h1.5M60.9 577.1h1.5M47.9 582.9h1.5M65.2 561.1h1.5M69.6 564.0h1.5M74.0 552.4h1.5M94.2 552.4h1.5M69.6 568.4h1.5M68.1 556.8h1.5M56.5 561.1h1.5M74.0 582.9h1.5M63.8 558.2h1.5M91.3 582.9h1.5M92.8 571.3h1.5M75.4 566.9h1.5M94.2 575.6h1.5M100.0 546.6h1.5M85.5 569.9h1.5M100.0 565.5h1.5M56.5 571.3h1.5M85.5 552.4h1.5M69.6 556.8h1.5M103.0 580.0h1.5M74.0 543.8h1.5M81.2 562.6h1.5M72.5 572.8h1.5M89.9 564.0h1.5M55.1 569.9h1.5M76.8 562.6h1.5M75.4 565.5h1.5M89.9 549.5h1.5M88.5 564.0h1.5M98.6 575.6h1.5M76.8 539.4h1.5M92.8 558.2h1.5M98.6 553.9h1.5M75.4 539.4h1.5M100.0 568.4h1.5M84.1 559.7h1.5M76.8 558.2h1.5M100.0 558.2h1.5M65.2 559.7h1.5M91.3 565.5h1.5M74.0 568.4h1.5M71.0 545.2h1.5M78.3 571.3h1.5M59.4 561.1h1.5M91.3 558.2h1.5M62.4 581.4h1.5M50.8 555.4h1.5M88.5 577.1h1.5M62.4 553.9h1.5M79.8 539.4h1.5M87.0 568.4h1.5M88.5 565.5h1.5M103.0 561.1h1.5M98.6 571.3h1.5M97.1 559.7h1.5M91.3 571.3h1.5M97.1 553.9h1.5M50.8 542.3h1.5M104.4 565.5h1.5M85.5 577.1h1.5M97.1 539.4h1.5M89.9 545.2h1.5M63.8 572.8h1.5M56.5 578.5h1.5M56.5 555.4h1.5M87.0 545.2h1.5M108.8 545.2h1.5M74.0 555.4h1.5M37.7 572.8h1.5M76.8 561.1h1.5M60.9 561.1h1.5M68.1 572.8h1.5M62.4 542.3h1.5M85.5 558.2h1.5M111.6 556.8h1.5M105.8 537.9h1.5M98.6 558.2h1.5M66.7 546.6h1.5M58.0 582.9h1.5M87.0 564.0h1.5M69.6 549.5h1.5M97.1 571.3h1.5M62.4 572.8h1.5M101.5 577.1h1.5M76.8 566.9h1.5M79.8 577.1h1.5M71.0 564.0h1.5M47.9 571.3h1.5M53.6 555.4h1.5M101.5 575.6h1.5M69.6 566.9h1.5M97.1 558.2h1.5M78.3 555.4h1.5M78.3 558.2h1.5M72.5 549.5h1.5M94.2 551.0h1.5M91.3 551.0h1.5M104.4 549.5h1.5M89.9 578.5h1.5M62.4 578.5h1.5M63.8 542.3h1.5M88.5 569.9h1.5M74.0 533.6h1.5M71.0 558.2h1.5M104.4 580.0h1.5M82.6 574.2h1.5M85.5 575.6h1.5M71.0 580.0h1.5M66.7 542.3h1.5M44.9 561.1h1.5M89.9 582.9h1.5M68.1 562.6h1.5M92.8 549.5h1.5M89.9 566.9h1.5M72.5 559.7h1.5M65.2 569.9h1.5M98.6 562.6h1.5M75.4 564.0h1.5M74.0 575.6h1.5M37.7 556.8h1.5M81.2 561.1h1.5M52.2 553.9h1.5M95.7 546.6h1.5M85.5 537.9h1.5M100.0 555.4h1.5M68.1 581.4h1.5M75.4 548.1h1.5M60.9 558.2h1.5M62.4 564.0h1.5M76.8 571.3h1.5M72.5 566.9h1.5M108.8 562.6h1.5M60.9 565.5h1.5M72.5 571.3h1.5M74.0 546.6h1.5M89.9 558.2h1.5M85.5 565.5h1.5M36.2 545.2h1.5M59.4 578.5h1.5M47.9 572.8h1.5M94.2 568.4h1.5M87.0 556.8h1.5M76.8 564.0h1.5M52.2 548.1h1.5M72.5 530.7h1.5M84.1 575.6h1.5M65.2 580.0h1.5M66.7 552.4h1.5M92.8 566.9h1.5M98.6 566.9h1.5M68.1 574.2h1.5M105.8 561.1h1.5M108.8 565.5h1.5M117.5 559.7h1.5M111.6 564.0h1.5M101.5 553.9h1.5M108.8 568.4h1.5M111.6 569.9h1.5M110.2 561.1h1.5M101.5 561.1h1.5M100.0 559.7h1.5M104.4 559.7h1.5M110.2 556.8h1.5M107.3 548.1h1.5M113.1 537.9h1.5M104.4 566.9h1.5M94.2 561.1h1.5M110.2 565.5h1.5M100.0 566.9h1.5M111.6 555.4h1.5M114.5 564.0h1.5M113.1 565.5h1.5M117.5 569.9h1.5M105.8 562.6h1.5M116.0 561.1h1.5M113.1 569.9h1.5M108.8 542.3h1.5M110.2 566.9h1.5M110.2 558.2h1.5M118.9 564.0h1.5M105.8 558.2h1.5M113.1 553.9h1.5M118.9 575.6h1.5M118.9 571.3h1.5M118.9 569.9h1.5M97.1 577.1h1.5M118.9 559.7h1.5M110.2 572.8h1.5M108.8 575.6h1.5M110.2 571.3h1.5M110.2 551.0h1.5M111.6 577.1h1.5M117.5 581.4h1.5M113.1 559.7h1.5M110.2 546.6h1.5M108.8 574.2h1.5M116.0 578.5h1.5M97.1 555.4h1.5M101.5 578.5h1.5M124.7 540.9h1.5M124.7 582.9h1.5M124.7 566.9h1.5M108.8 561.1h1.5M107.3 545.2h1.5M111.6 582.9h1.5M107.3 566.9h1.5M116.0 572.8h1.5M114.5 572.8h1.5M114.5 578.5h1.5M117.5 578.5h1.5M107.3 565.5h1.5M118.9 553.9h1.5M110.2 568.4h1.5M117.5 568.4h1.5M103.0 571.3h1.5M105.8 551.0h1.5M103.0 537.9h1.5M117.5 553.9h1.5M104.4 571.3h1.5M107.3 568.4h1.5M97.1 551.0h1.5M110.2 578.5h1.5M105.8 569.9h1.5M117.5 551.0h1.5M111.6 562.6h1.5M107.3 556.8h1.5M104.4 555.4h1.5M121.8 565.5h1.5M114.5 555.4h1.5M91.3 546.6h1.5M111.6 578.5h1.5M110.2 555.4h1.5M108.8 555.4h1.5M100.0 562.6h1.5M101.5 564.0h1.5M110.2 569.9h1.5M111.6 558.2h1.5M116.0 581.4h1.5M117.5 546.6h1.5M100.0 577.1h1.5M111.6 559.7h1.5M113.1 571.3h1.5M114.5 571.3h1.5M107.3 555.4h1.5M110.2 559.7h1.5M104.4 564.0h1.5M105.8 571.3h1.5M108.8 566.9h1.5M113.1 577.1h1.5M114.5 566.9h1.5M108.8 556.8h1.5M111.6 561.1h1.5M101.5 549.5h1.5M111.6 575.6h1.5M113.1 551.0h1.5M104.4 568.4h1.5M113.1 556.8h1.5M103.0 574.2h1.5M114.5 562.6h1.5M120.3 562.6h1.5M103.0 575.6h1.5M118.9 555.4h1.5M118.9 566.9h1.5M103.0 566.9h1.5M114.5 556.8h1.5M95.7 568.4h1.5M103.0 569.9h1.5M97.1 564.0h1.5M104.4 551.0h1.5M63.8 511.8h1.5M69.6 507.5h1.5M72.5 527.8h1.5M71.0 524.9h1.5M68.1 510.4h1.5M79.8 527.8h1.5M65.2 511.8h1.5M58.0 529.2h1.5M71.0 519.1h1.5M62.4 533.6h1.5M92.8 523.4h1.5M66.7 530.7h1.5M65.2 529.2h1.5M75.4 513.3h1.5M59.4 522.0h1.5M75.4 524.9h1.5M68.1 526.4h1.5M59.4 520.5h1.5M58.0 524.9h1.5M60.9 519.1h1.5M69.6 517.6h1.5M76.8 517.6h1.5M65.2 539.4h1.5M65.2 537.9h1.5M71.0 510.4h1.5M49.3 529.2h1.5M52.2 529.2h1.5M76.8 526.4h1.5M66.7 520.5h1.5M69.6 520.5h1.5M63.8 519.1h1.5M78.3 517.6h1.5M71.0 511.8h1.5M62.4 510.4h1.5M66.7 529.2h1.5M72.5 519.1h1.5M72.5 500.2h1.5M58.0 530.7h1.5M66.7 543.8h1.5M66.7 517.6h1.5M63.8 520.5h1.5M74.0 519.1h1.5M75.4 497.3h1.5M66.7 524.9h1.5M59.4 532.1h1.5M69.6 535.0h1.5M75.4 529.2h1.5M66.7 513.3h1.5M66.7 519.1h1.5M69.6 519.1h1.5M92.8 508.9h1.5M78.3 519.1h1.5M66.7 532.1h1.5M68.1 511.8h1.5M71.0 520.5h1.5M50.8 524.9h1.5M59.4 516.2h1.5M72.5 526.4h1.5M65.2 542.3h1.5M71.0 517.6h1.5M69.6 522.0h1.5M49.3 508.9h1.5M56.5 542.3h1.5M63.8 532.1h1.5M68.1 537.9h1.5M74.0 537.9h1.5M66.7 526.4h1.5M63.8 522.0h1.5M53.6 517.6h1.5M60.9 517.6h1.5M78.3 524.9h1.5M78.3 530.7h1.5M75.4 532.1h1.5M62.4 530.7h1.5M65.2 517.6h1.5M78.3 542.3h1.5M59.4 539.4h1.5M75.4 514.8h1.5M69.6 526.4h1.5M58.0 523.4h1.5M75.4 530.7h1.5M71.0 532.1h1.5M69.6 527.8h1.5M69.6 542.3h1.5M50.8 523.4h1.5M53.6 524.9h1.5M56.5 516.2h1.5M72.5 529.2h1.5M60.9 522.0h1.5M62.4 519.1h1.5M55.1 513.3h1.5M68.1 536.5h1.5M58.0 513.3h1.5M71.0 514.8h1.5M71.0 513.3h1.5M76.8 519.1h1.5M65.2 524.9h1.5M65.2 527.8h1.5M69.6 529.2h1.5M82.6 522.0h1.5M71.0 503.1h1.5M68.1 508.9h1.5M71.0 535.0h1.5M76.8 508.9h1.5M79.8 530.7h1.5M79.8 520.5h1.5M68.1 517.6h1.5M76.8 503.1h1.5M75.4 507.5h1.5M78.3 520.5h1.5M72.5 522.0h1.5M68.1 529.2h1.5M62.4 524.9h1.5M49.3 523.4h1.5M62.4 508.9h1.5M56.5 533.6h1.5M71.0 508.9h1.5M58.0 507.5h1.5M75.4 508.9h1.5M72.5 523.4h1.5M60.9 516.2h1.5M58.0 537.9h1.5M62.4 517.6h1.5M74.0 526.4h1.5M65.2 513.3h1.5M59.4 508.9h1.5M76.8 533.6h1.5M71.0 529.2h1.5M75.4 520.5h1.5M71.0 542.3h1.5M53.6 510.4h1.5M59.4 529.2h1.5M74.0 522.0h1.5M68.1 523.4h1.5M76.8 543.8h1.5M53.6 527.8h1.5M68.1 532.1h1.5M74.0 514.8h1.5M53.6 537.9h1.5M78.3 514.8h1.5M78.3 529.2h1.5M47.9 530.7h1.5M59.4 533.6h1.5M62.4 516.2h1.5M55.1 520.5h1.5M76.8 516.2h1.5M52.2 542.3h1.5M82.6 529.2h1.5M55.1 527.8h1.5M78.3 513.3h1.5M68.1 520.5h1.5M75.4 533.6h1.5M65.2 522.0h1.5M56.5 532.1h1.5M63.8 517.6h1.5M68.1 514.8h1.5M72.5 508.9h1.5M65.2 508.9h1.5M53.6 514.8h1.5M69.6 514.8h1.5M74.0 532.1h1.5M65.2 532.1h1.5M71.0 530.7h1.5M60.9 529.2h1.5M74.0 542.3h1.5M58.0 510.4h1.5M66.7 527.8h1.5M56.5 517.6h1.5M55.1 539.4h1.5M72.5 511.8h1.5M55.1 540.9h1.5M78.3 527.8h1.5M55.1 532.1h1.5M74.0 527.8h1.5M53.6 503.1h1.5M59.4 511.8h1.5M69.6 513.3h1.5M81.2 517.6h1.5M63.8 530.7h1.5M75.4 540.9h1.5M58.0 520.5h1.5M59.4 504.6h1.5M75.4 526.4h1.5M62.4 511.8h1.5M59.4 530.7h1.5M65.2 540.9h1.5M72.5 506.1h1.5M75.4 535.0h1.5M82.6 510.4h1.5M66.7 506.1h1.5M65.2 510.4h1.5M55.1 511.8h1.5M68.1 527.8h1.5M58.0 500.2h1.5M72.5 516.2h1.5M79.8 523.4h1.5M72.5 540.9h1.5M82.6 526.4h1.5M58.0 511.8h1.5M56.5 522.0h1.5M63.8 523.4h1.5M62.4 527.8h1.5M72.5 537.9h1.5M72.5 536.5h1.5M69.6 530.7h1.5M55.1 517.6h1.5M85.5 516.2h1.5M65.2 507.5h1.5M74.0 524.9h1.5M74.0 535.0h1.5M75.4 522.0h1.5M56.5 539.4h1.5M71.0 526.4h1.5M76.8 536.5h1.5M42.0 527.8h1.5M81.2 514.8h1.5M52.2 524.9h1.5M58.0 519.1h1.5M87.0 526.4h1.5M62.4 500.2h1.5M74.0 506.1h1.5M69.6 523.4h1.5M66.7 523.4h1.5M65.2 523.4h1.5M55.1 508.9h1.5M56.5 524.9h1.5M75.4 517.6h1.5M56.5 526.4h1.5M59.4 524.9h1.5M65.2 520.5h1.5M69.6 532.1h1.5M71.0 506.1h1.5M71.0 523.4h1.5M82.6 520.5h1.5M69.6 545.2h1.5M71.0 536.5h1.5M69.6 524.9h1.5M68.1 519.1h1.5M74.0 539.4h1.5M79.8 533.6h1.5M82.6 508.9h1.5M56.5 523.4h1.5M60.9 520.5h1.5M63.8 524.9h1.5M65.2 526.4h1.5M65.2 504.6h1.5M63.8 529.2h1.5M49.3 506.1h1.5M68.1 522.0h1.5M63.8 510.4h1.5M58.0 522.0h1.5M56.5 506.1h1.5M81.2 513.3h1.5M60.9 506.1h1.5M52.2 530.7h1.5M68.1 530.7h1.5M79.8 522.0h1.5M81.2 516.2h1.5M82.6 497.3h1.5M74.0 523.4h1.5M81.2 533.6h1.5M63.8 535.0h1.5M60.9 532.1h1.5M76.8 537.9h1.5M59.4 536.5h1.5M50.8 535.0h1.5M55.1 542.3h1.5M63.8 527.8h1.5M68.1 546.6h1.5M78.3 537.9h1.5M76.8 542.3h1.5M85.5 539.4h1.5M74.0 540.9h1.5M84.1 536.5h1.5M60.9 535.0h1.5M79.8 540.9h1.5M68.1 533.6h1.5M82.6 532.1h1.5M68.1 535.0h1.5M65.2 533.6h1.5M69.6 536.5h1.5M81.2 537.9h1.5M72.5 539.4h1.5M72.5 542.3h1.5M72.5 535.0h1.5M65.2 535.0h1.5M74.0 536.5h1.5M58.0 539.4h1.5M66.7 537.9h1.5M82.6 536.5h1.5M75.4 536.5h1.5M81.2 536.5h1.5M63.8 539.4h1.5M75.4 543.8h1.5M82.6 537.9h1.5M42.0 539.4h1.5M103.0 545.2h1.5M59.4 540.9h1.5M91.3 553.9h1.5M52.2 566.9h1.5M120.3 561.1h1.5M117.5 514.8h1.5M59.4 549.5h1.5M116.0 507.5h1.5M58.0 503.1h1.5" stroke="#000" stroke-width="1.5"/>
<path d="M75.4 542.3h1.5M118.9 532.1h1.5M91.3 545.2h1.5M60.9 527.8h1.5M52.2 532.1h1.5M84.1 523.4h1.5M94.2 522.0h1.5M103.0 529.2h1.5M94.2 565.5h1.5M84.1 542.3h1.5M79.8 546.6h1.5M101.5 532.1h1.5M101.5 552.4h1.5M105.8 530.7h1.5M89.9 545.2h1.5M72.5 522.0h1.5M95.7 537.9h1.5M111.6 553.9h1.5M94.2 536.5h1.5M74.0 527.8h1.5M92.8 526.4h1.5M91.3 537.9h1.5M78.3 522.0h1.5M68.1 545.2h1.5M76.8 506.1h1.5M91.3 562.6h1.5M92.8 561.1h1.5M108.8 572.8h1.5M82.6 565.5h1.5M76.8 572.8h1.5M107.3 561.1h1.5M65.2 571.3h1.5M94.2 549.5h1.5M71.0 555.4h1.5M88.5 569.9h1.5M69.6 553.9h1.5M88.5 564.0h1.5M105.8 574.2h1.5M72.5 562.6h1.5M76.8 558.2h1.5M81.2 574.2h1.5M59.4 562.6h1.5M100.0 572.8h1.5M68.1 556.8h1.5" stroke="#fff" stroke-width="1.5"/>
<rect x="33" y="490.5" width="95.7" height="94.8" stroke-width="1.4"/>
<path d="M82 490.5L82 585.3" stroke-width="1.3"/>
<path d="M33 539.5L128.7 539.5" stroke-width="1.3"/>
<path d="M33 585.0L129 585.0" stroke-width="2.4"/>
<path d="M158.0 506.1H158.0V504.6H162.4V504.6H163.8V503.1H166.8V504.6H166.8V503.1H171.1V501.7H172.5V504.6H175.4V501.7H176.9V503.1H179.8V504.6H179.8V501.7H182.7V503.1H184.2V503.1H187.0V503.1H188.5V504.6H194.3V504.6H194.3V504.6H197.2V503.1H200.1V501.7H203.0V503.1H204.4V504.6H208.8V504.6H210.2V504.6H213.2V506.1H214.6V506.1H217.5V504.6H220.4V506.1H223.3V508.9H224.8V507.5H224.8V510.4H229.1V510.4H229.1V511.8H227.7V516.2H226.2V516.2H224.8V519.1H226.2V517.6H220.4V522.0H221.8V520.5H217.5V523.4H214.6V523.4H213.2V523.4H210.2V523.4H208.8V524.9H207.3V526.4H204.4V527.8H203.0V527.8H200.1V527.8H200.1V529.2H194.3V529.2H195.8V532.1H195.8V533.6H194.3V537.9H191.4V540.9H191.4V543.8H194.3V546.6H191.4V546.6H192.8V549.5H191.4V551.0H192.8V553.9H192.8V556.8H191.4V559.7H191.4V562.6H188.5V564.0H188.5V565.5H189.9V568.4H188.5V571.3H185.6V571.3H187.0V572.8H182.7V575.6H181.2V578.5H179.8V578.5H176.9V575.6H174.0V577.1H171.1V574.2H168.2V569.9H168.2V568.4H168.2V569.9H165.3V565.5H162.4V564.0H163.8V561.1H162.4V559.7H162.4V556.8H159.5V555.4H159.5V552.4H159.5V549.5H158.0V548.1H158.0V546.6H156.6V542.3H159.5V542.3H158.0V536.5H156.6V535.0H156.6V530.7H158.0V530.7H155.2V527.8H156.6V524.9H155.2V523.4H156.6V519.1H155.2V517.6H155.2V516.2H155.2V511.8H158.0V508.9H155.2V506.1Z" fill="#000" stroke="none"/>
<path d="M203.0 522.0h1.5M195.8 511.8h1.5M205.9 524.9h1.5M174.0 517.6h1.5M200.1 519.1h1.5M200.1 514.8h1.5M188.5 526.4h1.5M223.3 506.1h1.5M140.7 517.6h1.5M176.9 511.8h1.5M159.5 517.6h1.5M188.5 511.8h1.5M207.3 530.7h1.5M218.9 522.0h1.5M182.7 519.1h1.5M189.9 522.0h1.5M201.5 514.8h1.5M200.1 510.4h1.5M158.0 520.5h1.5M207.3 508.9h1.5M223.3 516.2h1.5M156.6 506.1h1.5M207.3 513.3h1.5M211.7 504.6h1.5M188.5 520.5h1.5M176.9 519.1h1.5M182.7 517.6h1.5M195.8 529.2h1.5M165.3 520.5h1.5M216.0 507.5h1.5M191.4 529.2h1.5M210.2 495.9h1.5M185.6 504.6h1.5M195.8 510.4h1.5M179.8 510.4h1.5M172.5 513.3h1.5M197.2 508.9h1.5M197.2 511.8h1.5M220.4 510.4h1.5M176.9 506.1h1.5M229.1 519.1h1.5M169.7 513.3h1.5M171.1 524.9h1.5M198.7 501.7h1.5M194.3 520.5h1.5M189.9 517.6h1.5M188.5 516.2h1.5M194.3 510.4h1.5M197.2 516.2h1.5M189.9 510.4h1.5M169.7 516.2h1.5M205.9 500.2h1.5M179.8 523.4h1.5M207.3 510.4h1.5M216.0 508.9h1.5M174.0 527.8h1.5M181.2 513.3h1.5M158.0 508.9h1.5M166.8 514.8h1.5M153.7 522.0h1.5M182.7 511.8h1.5M178.3 519.1h1.5M220.4 511.8h1.5M221.8 524.9h1.5M216.0 516.2h1.5M160.9 519.1h1.5M182.7 516.2h1.5M153.7 513.3h1.5M194.3 508.9h1.5M195.8 524.9h1.5M172.5 517.6h1.5M178.3 500.2h1.5M195.8 520.5h1.5M174.0 524.9h1.5M200.1 522.0h1.5M160.9 514.8h1.5M221.8 527.8h1.5M216.0 514.8h1.5M192.8 510.4h1.5M211.7 510.4h1.5M192.8 501.7h1.5M160.9 526.4h1.5M191.4 516.2h1.5M147.9 514.8h1.5M230.5 506.1h1.5M143.5 513.3h1.5M179.8 513.3h1.5M165.3 506.1h1.5M165.3 519.1h1.5M169.7 519.1h1.5M181.2 516.2h1.5M208.8 514.8h1.5M182.7 504.6h1.5M191.4 520.5h1.5M178.3 514.8h1.5M155.2 506.1h1.5M197.2 523.4h1.5M184.2 504.6h1.5M184.2 527.8h1.5M195.8 514.8h1.5M210.2 513.3h1.5M198.7 506.1h1.5M204.4 520.5h1.5M145.0 497.3h1.5M172.5 524.9h1.5M189.9 519.1h1.5M201.5 520.5h1.5M197.2 519.1h1.5M201.5 517.6h1.5M179.8 522.0h1.5M198.7 522.0h1.5M140.7 522.0h1.5M142.1 516.2h1.5M176.9 516.2h1.5M194.3 517.6h1.5M174.0 498.8h1.5M174.0 519.1h1.5M182.7 508.9h1.5M213.2 524.9h1.5M188.5 514.8h1.5M208.8 506.1h1.5M172.5 522.0h1.5M207.3 511.8h1.5M162.4 511.8h1.5M185.6 498.8h1.5M211.7 506.1h1.5M165.3 510.4h1.5M163.8 527.8h1.5M171.1 513.3h1.5M218.9 507.5h1.5M207.3 516.2h1.5M166.8 516.2h1.5M162.4 524.9h1.5M175.4 522.0h1.5M216.0 510.4h1.5M172.5 516.2h1.5M169.7 520.5h1.5M174.0 513.3h1.5M205.9 523.4h1.5M203.0 516.2h1.5M223.3 519.1h1.5M198.7 519.1h1.5M204.4 516.2h1.5M187.0 504.6h1.5M146.4 510.4h1.5M229.1 523.4h1.5M178.3 516.2h1.5M189.9 501.7h1.5M213.2 507.5h1.5M145.0 504.6h1.5M192.8 516.2h1.5M182.7 506.1h1.5M198.7 517.6h1.5M201.5 523.4h1.5M165.3 500.2h1.5M153.7 529.2h1.5M171.1 517.6h1.5M187.0 510.4h1.5M194.3 519.1h1.5M171.1 523.4h1.5M213.2 517.6h1.5M188.5 513.3h1.5M156.6 519.1h1.5M171.1 511.8h1.5M210.2 508.9h1.5M179.8 520.5h1.5M227.7 510.4h1.5M197.2 517.6h1.5M166.8 522.0h1.5M226.2 514.8h1.5M195.8 507.5h1.5M163.8 520.5h1.5M160.9 510.4h1.5M147.9 523.4h1.5M218.9 508.9h1.5M198.7 503.1h1.5M220.4 514.8h1.5M175.4 524.9h1.5M188.5 523.4h1.5M211.7 526.4h1.5M174.0 514.8h1.5M197.2 513.3h1.5M210.2 523.4h1.5M150.8 508.9h1.5M172.5 511.8h1.5M191.4 511.8h1.5M188.5 517.6h1.5M204.4 510.4h1.5M187.0 506.1h1.5M208.8 519.1h1.5M181.2 510.4h1.5M159.5 524.9h1.5M166.8 519.1h1.5M201.5 504.6h1.5M152.2 519.1h1.5M150.8 524.9h1.5M179.8 516.2h1.5M189.9 511.8h1.5M187.0 513.3h1.5M214.6 514.8h1.5M176.9 510.4h1.5M189.9 526.4h1.5M211.7 516.2h1.5M223.3 522.0h1.5M194.3 513.3h1.5M168.2 516.2h1.5M194.3 511.8h1.5M184.2 517.6h1.5M210.2 511.8h1.5M201.5 513.3h1.5M213.2 510.4h1.5M223.3 513.3h1.5M172.5 508.9h1.5M203.0 508.9h1.5M226.2 523.4h1.5M200.1 506.1h1.5M153.7 517.6h1.5M195.8 517.6h1.5M158.0 511.8h1.5M207.3 522.0h1.5M208.8 513.3h1.5M201.5 519.1h1.5M218.9 511.8h1.5M158.0 527.8h1.5M174.0 508.9h1.5M208.8 507.5h1.5M174.0 530.7h1.5M191.4 532.1h1.5M192.8 514.8h1.5M176.9 513.3h1.5M179.8 514.8h1.5M205.9 506.1h1.5M171.1 501.7h1.5M189.9 514.8h1.5M210.2 517.6h1.5M187.0 514.8h1.5M152.2 522.0h1.5M203.0 514.8h1.5M205.9 526.4h1.5M227.7 523.4h1.5M185.6 527.8h1.5M172.5 514.8h1.5M217.5 498.8h1.5M216.0 522.0h1.5M188.5 519.1h1.5M171.1 522.0h1.5M217.5 514.8h1.5M185.6 507.5h1.5M162.4 526.4h1.5M159.5 508.9h1.5M166.8 511.8h1.5M168.2 519.1h1.5M197.2 514.8h1.5M176.9 517.6h1.5M197.2 510.4h1.5M191.4 510.4h1.5M171.1 504.6h1.5M166.8 517.6h1.5M214.6 510.4h1.5M192.8 517.6h1.5M205.9 517.6h1.5M214.6 520.5h1.5M175.4 517.6h1.5M184.2 520.5h1.5M200.1 516.2h1.5M205.9 507.5h1.5M205.9 522.0h1.5M211.7 517.6h1.5M185.6 517.6h1.5M188.5 504.6h1.5M179.8 508.9h1.5M185.6 513.3h1.5M191.4 514.8h1.5M192.8 522.0h1.5M165.3 495.9h1.5M182.7 510.4h1.5M213.2 519.1h1.5M176.9 514.8h1.5M178.3 508.9h1.5M223.3 510.4h1.5M178.3 506.1h1.5M142.1 506.1h1.5M220.4 517.6h1.5M192.8 511.8h1.5M187.0 517.6h1.5M162.4 510.4h1.5M172.5 523.4h1.5M168.2 522.0h1.5M181.2 532.1h1.5M217.5 520.5h1.5M213.2 526.4h1.5M165.3 524.9h1.5M207.3 514.8h1.5M217.5 513.3h1.5M214.6 511.8h1.5M172.5 520.5h1.5M178.3 513.3h1.5M185.6 522.0h1.5M169.7 514.8h1.5M194.3 504.6h1.5M194.3 507.5h1.5M189.9 529.2h1.5M171.1 514.8h1.5M179.8 503.1h1.5M158.0 516.2h1.5M195.8 522.0h1.5M179.8 519.1h1.5M168.2 523.4h1.5M188.5 510.4h1.5M192.8 526.4h1.5M172.5 507.5h1.5M169.7 507.5h1.5M187.0 516.2h1.5M213.2 513.3h1.5M198.7 504.6h1.5M171.1 516.2h1.5M187.0 522.0h1.5M179.8 501.7h1.5M213.2 504.6h1.5M168.2 530.7h1.5M181.2 529.2h1.5M214.6 504.6h1.5M192.8 508.9h1.5M210.2 516.2h1.5M166.8 523.4h1.5M175.4 523.4h1.5M181.2 511.8h1.5M220.4 516.2h1.5M201.5 527.8h1.5M201.5 511.8h1.5M168.2 510.4h1.5M176.9 523.4h1.5M171.1 510.4h1.5M200.1 517.6h1.5M182.7 520.5h1.5M192.8 527.8h1.5M191.4 523.4h1.5M185.6 516.2h1.5M200.1 503.1h1.5M185.6 526.4h1.5M208.8 517.6h1.5M194.3 523.4h1.5M197.2 503.1h1.5M175.4 520.5h1.5M182.7 507.5h1.5M200.1 527.8h1.5M171.1 508.9h1.5M211.7 520.5h1.5M171.1 526.4h1.5M178.3 520.5h1.5M179.8 517.6h1.5M174.0 507.5h1.5M194.3 526.4h1.5M218.9 513.3h1.5M179.8 507.5h1.5M203.0 523.4h1.5M184.2 510.4h1.5M162.4 516.2h1.5M163.8 507.5h1.5M155.2 519.1h1.5M159.5 510.4h1.5M226.2 513.3h1.5M172.5 537.9h1.5M174.0 542.3h1.5M203.0 526.4h1.5M175.4 532.1h1.5M179.8 536.5h1.5M182.7 526.4h1.5M198.7 548.1h1.5M156.6 556.8h1.5M181.2 536.5h1.5M184.2 536.5h1.5M185.6 548.1h1.5M179.8 548.1h1.5M172.5 539.4h1.5M181.2 556.8h1.5M171.1 582.9h1.5M188.5 543.8h1.5M178.3 532.1h1.5M194.3 530.7h1.5M197.2 565.5h1.5M160.9 537.9h1.5M179.8 537.9h1.5M172.5 526.4h1.5M178.3 526.4h1.5M172.5 572.8h1.5M179.8 533.6h1.5M172.5 529.2h1.5M176.9 556.8h1.5M185.6 540.9h1.5M162.4 543.8h1.5M194.3 549.5h1.5M175.4 510.4h1.5M171.1 553.9h1.5M165.3 566.9h1.5M169.7 530.7h1.5M169.7 543.8h1.5M187.0 535.0h1.5M156.6 543.8h1.5M181.2 571.3h1.5M163.8 569.9h1.5M182.7 552.4h1.5M165.3 561.1h1.5M178.3 562.6h1.5M195.8 545.2h1.5M175.4 577.1h1.5M162.4 537.9h1.5M176.9 530.7h1.5M188.5 522.0h1.5M160.9 555.4h1.5M182.7 542.3h1.5M185.6 555.4h1.5M179.8 578.5h1.5M171.1 551.0h1.5M181.2 565.5h1.5M181.2 562.6h1.5M163.8 540.9h1.5M155.2 543.8h1.5M201.5 549.5h1.5M176.9 549.5h1.5M168.2 542.3h1.5M178.3 530.7h1.5M175.4 533.6h1.5M162.4 533.6h1.5M166.8 559.7h1.5M189.9 555.4h1.5M174.0 536.5h1.5M159.5 536.5h1.5M192.8 564.0h1.5M178.3 540.9h1.5M175.4 552.4h1.5M168.2 545.2h1.5M172.5 562.6h1.5M162.4 566.9h1.5M175.4 536.5h1.5M176.9 546.6h1.5M174.0 552.4h1.5M169.7 517.6h1.5M184.2 545.2h1.5M194.3 551.0h1.5M153.7 565.5h1.5M168.2 553.9h1.5M200.1 562.6h1.5M163.8 543.8h1.5M158.0 556.8h1.5M182.7 527.8h1.5M181.2 561.1h1.5M184.2 533.6h1.5M168.2 526.4h1.5M162.4 551.0h1.5M176.9 566.9h1.5M178.3 539.4h1.5M160.9 571.3h1.5M178.3 545.2h1.5M165.3 527.8h1.5M182.7 529.2h1.5M182.7 555.4h1.5M179.8 568.4h1.5M166.8 524.9h1.5M187.0 548.1h1.5M169.7 565.5h1.5M172.5 552.4h1.5M171.1 532.1h1.5M156.6 536.5h1.5M189.9 562.6h1.5M200.1 561.1h1.5M192.8 549.5h1.5M171.1 552.4h1.5M165.3 556.8h1.5M171.1 549.5h1.5M166.8 542.3h1.5M187.0 542.3h1.5M168.2 549.5h1.5M185.6 542.3h1.5M163.8 519.1h1.5M160.9 562.6h1.5M187.0 549.5h1.5M158.0 555.4h1.5M175.4 555.4h1.5M163.8 542.3h1.5M197.2 530.7h1.5M174.0 546.6h1.5M153.7 558.2h1.5M171.1 566.9h1.5M175.4 539.4h1.5M181.2 540.9h1.5M171.1 569.9h1.5M187.0 546.6h1.5M184.2 558.2h1.5M182.7 546.6h1.5M176.9 552.4h1.5M182.7 551.0h1.5M175.4 558.2h1.5M175.4 537.9h1.5M187.0 539.4h1.5M158.0 524.9h1.5M174.0 532.1h1.5M169.7 545.2h1.5M168.2 551.0h1.5M168.2 537.9h1.5M174.0 568.4h1.5M192.8 561.1h1.5M185.6 558.2h1.5M158.0 543.8h1.5M168.2 556.8h1.5M182.7 536.5h1.5M198.7 540.9h1.5M203.0 542.3h1.5M175.4 575.6h1.5M169.7 537.9h1.5M191.4 545.2h1.5M181.2 524.9h1.5M195.8 561.1h1.5M179.8 556.8h1.5M171.1 537.9h1.5M159.5 551.0h1.5M189.9 559.7h1.5M185.6 556.8h1.5M182.7 548.1h1.5M187.0 540.9h1.5M166.8 552.4h1.5M163.8 536.5h1.5M185.6 582.9h1.5M194.3 537.9h1.5M195.8 533.6h1.5M182.7 535.0h1.5M172.5 559.7h1.5M182.7 513.3h1.5M185.6 523.4h1.5M178.3 553.9h1.5M169.7 540.9h1.5M185.6 566.9h1.5M179.8 577.1h1.5M165.3 574.2h1.5M172.5 558.2h1.5M166.8 551.0h1.5M197.2 548.1h1.5M175.4 545.2h1.5M184.2 542.3h1.5M175.4 548.1h1.5M189.9 561.1h1.5M165.3 535.0h1.5M176.9 558.2h1.5M198.7 542.3h1.5M191.4 568.4h1.5M192.8 548.1h1.5M156.6 535.0h1.5M184.2 562.6h1.5M175.4 562.6h1.5M182.7 569.9h1.5M159.5 532.1h1.5M166.8 539.4h1.5M185.6 537.9h1.5M184.2 553.9h1.5M194.3 533.6h1.5M163.8 551.0h1.5M188.5 559.7h1.5M178.3 533.6h1.5M179.8 551.0h1.5M166.8 545.2h1.5M182.7 543.8h1.5M187.0 553.9h1.5M188.5 546.6h1.5M152.2 566.9h1.5M158.0 562.6h1.5M178.3 523.4h1.5M176.9 559.7h1.5M165.3 545.2h1.5M168.2 529.2h1.5M182.7 545.2h1.5M175.4 546.6h1.5M158.0 559.7h1.5M166.8 503.1h1.5M184.2 526.4h1.5M174.0 543.8h1.5M169.7 553.9h1.5M172.5 540.9h1.5M165.3 540.9h1.5M181.2 523.4h1.5M187.0 559.7h1.5M198.7 508.9h1.5M176.9 539.4h1.5M187.0 527.8h1.5M172.5 582.9h1.5M169.7 555.4h1.5M176.9 522.0h1.5M169.7 564.0h1.5M188.5 535.0h1.5M188.5 533.6h1.5M171.1 500.2h1.5M166.8 532.1h1.5M166.8 529.2h1.5M168.2 506.1h1.5M185.6 546.6h1.5M176.9 540.9h1.5M176.9 561.1h1.5M178.3 571.3h1.5M160.9 540.9h1.5M194.3 536.5h1.5M184.2 540.9h1.5M165.3 543.8h1.5M165.3 569.9h1.5M182.7 564.0h1.5M179.8 506.1h1.5M184.2 546.6h1.5M150.8 546.6h1.5M187.0 572.8h1.5M165.3 558.2h1.5M179.8 542.3h1.5M172.5 553.9h1.5M189.9 565.5h1.5M184.2 516.2h1.5M181.2 584.4h1.5M198.7 545.2h1.5M178.3 537.9h1.5M162.4 520.5h1.5M185.6 543.8h1.5M169.7 568.4h1.5M168.2 539.4h1.5M175.4 566.9h1.5M189.9 569.9h1.5M171.1 520.5h1.5M178.3 536.5h1.5M184.2 555.4h1.5M181.2 537.9h1.5M192.8 558.2h1.5M189.9 558.2h1.5M163.8 514.8h1.5M165.3 555.4h1.5M176.9 575.6h1.5M159.5 539.4h1.5M184.2 556.8h1.5M174.0 558.2h1.5M172.5 556.8h1.5M165.3 546.6h1.5M198.7 526.4h1.5M162.4 552.4h1.5M181.2 535.0h1.5M156.6 545.2h1.5M182.7 559.7h1.5M160.9 566.9h1.5M184.2 535.0h1.5M187.0 562.6h1.5M174.0 506.1h1.5M166.8 543.8h1.5M195.8 526.4h1.5M187.0 536.5h1.5M181.2 542.3h1.5M189.9 533.6h1.5M184.2 532.1h1.5M187.0 519.1h1.5M160.9 568.4h1.5M179.8 572.8h1.5M165.3 548.1h1.5M182.7 574.2h1.5M184.2 543.8h1.5M155.2 527.8h1.5M189.9 536.5h1.5M172.5 551.0h1.5M188.5 553.9h1.5M187.0 543.8h1.5M169.7 559.7h1.5M188.5 580.0h1.5M163.8 533.6h1.5M171.1 562.6h1.5M146.4 561.1h1.5M162.4 539.4h1.5M179.8 546.6h1.5M158.0 571.3h1.5M179.8 532.1h1.5M171.1 535.0h1.5M188.5 551.0h1.5M192.8 551.0h1.5M169.7 535.0h1.5M178.3 555.4h1.5M181.2 527.8h1.5M174.0 529.2h1.5M192.8 540.9h1.5M160.9 539.4h1.5M178.3 577.1h1.5M171.1 571.3h1.5M165.3 568.4h1.5M158.0 530.7h1.5M176.9 545.2h1.5M178.3 542.3h1.5M181.2 574.2h1.5M158.0 536.5h1.5M172.5 545.2h1.5M176.9 533.6h1.5M175.4 569.9h1.5M176.9 520.5h1.5M159.5 555.4h1.5M172.5 535.0h1.5M174.0 523.4h1.5M184.2 569.9h1.5M189.9 564.0h1.5M178.3 551.0h1.5M175.4 565.5h1.5M172.5 580.0h1.5M184.2 539.4h1.5M175.4 519.1h1.5M201.5 532.1h1.5M172.5 555.4h1.5M155.2 559.7h1.5M197.2 549.5h1.5M176.9 553.9h1.5M165.3 536.5h1.5M171.1 564.0h1.5M178.3 517.6h1.5M162.4 577.1h1.5M166.8 546.6h1.5M191.4 571.3h1.5M197.2 529.2h1.5M176.9 565.5h1.5M181.2 530.7h1.5M159.5 545.2h1.5M181.2 566.9h1.5M147.9 566.9h1.5M184.2 548.1h1.5M181.2 551.0h1.5M176.9 537.9h1.5M160.9 522.0h1.5M181.2 553.9h1.5M176.9 526.4h1.5M153.7 569.9h1.5M159.5 581.4h1.5M150.8 533.6h1.5M191.4 566.9h1.5M160.9 559.7h1.5M200.1 555.4h1.5M160.9 565.5h1.5M156.6 551.0h1.5M171.1 565.5h1.5M188.5 548.1h1.5M171.1 529.2h1.5M203.0 537.9h1.5M179.8 543.8h1.5M171.1 519.1h1.5M159.5 527.8h1.5M197.2 551.0h1.5M204.4 543.8h1.5M203.0 549.5h1.5M214.6 546.6h1.5M210.2 536.5h1.5M192.8 545.2h1.5M176.9 564.0h1.5M208.8 548.1h1.5M230.5 564.0h1.5M217.5 566.9h1.5M213.2 553.9h1.5M205.9 559.7h1.5M200.1 540.9h1.5M205.9 537.9h1.5M197.2 558.2h1.5M184.2 552.4h1.5M204.4 546.6h1.5M207.3 549.5h1.5M195.8 553.9h1.5M195.8 549.5h1.5M208.8 540.9h1.5M208.8 533.6h1.5M192.8 568.4h1.5M201.5 564.0h1.5M203.0 558.2h1.5M203.0 546.6h1.5M198.7 553.9h1.5M187.0 529.2h1.5M210.2 539.4h1.5M181.2 549.5h1.5M191.4 558.2h1.5M189.9 553.9h1.5M214.6 549.5h1.5M189.9 556.8h1.5M189.9 540.9h1.5M198.7 551.0h1.5M214.6 526.4h1.5M195.8 562.6h1.5M195.8 552.4h1.5M213.2 532.1h1.5M198.7 558.2h1.5M200.1 571.3h1.5M210.2 529.2h1.5M208.8 559.7h1.5M213.2 546.6h1.5M213.2 555.4h1.5M214.6 558.2h1.5M192.8 535.0h1.5M216.0 529.2h1.5M194.3 543.8h1.5M188.5 540.9h1.5M198.7 578.5h1.5M197.2 540.9h1.5M198.7 559.7h1.5M189.9 542.3h1.5M204.4 566.9h1.5M187.0 575.6h1.5M205.9 545.2h1.5M191.4 539.4h1.5M192.8 565.5h1.5M207.3 539.4h1.5M195.8 569.9h1.5M203.0 556.8h1.5M178.3 558.2h1.5M201.5 555.4h1.5M203.0 555.4h1.5M192.8 559.7h1.5M198.7 535.0h1.5M188.5 549.5h1.5M178.3 561.1h1.5M197.2 584.4h1.5M192.8 555.4h1.5M211.7 568.4h1.5M188.5 564.0h1.5M185.6 552.4h1.5M195.8 535.0h1.5M204.4 552.4h1.5M203.0 571.3h1.5M189.9 543.8h1.5M195.8 559.7h1.5M191.4 522.0h1.5M195.8 542.3h1.5M204.4 549.5h1.5M197.2 564.0h1.5M204.4 532.1h1.5M191.4 552.4h1.5M214.6 545.2h1.5M195.8 551.0h1.5M205.9 546.6h1.5M201.5 542.3h1.5M192.8 537.9h1.5M204.4 540.9h1.5M203.0 552.4h1.5M188.5 532.1h1.5M195.8 558.2h1.5M223.3 566.9h1.5M211.7 552.4h1.5M194.3 555.4h1.5M198.7 555.4h1.5M191.4 548.1h1.5M201.5 543.8h1.5M201.5 556.8h1.5M182.7 540.9h1.5M216.0 553.9h1.5M205.9 561.1h1.5M192.8 572.8h1.5M191.4 526.4h1.5M192.8 552.4h1.5M201.5 553.9h1.5M194.3 552.4h1.5M188.5 558.2h1.5M187.0 574.2h1.5M198.7 532.1h1.5M214.6 562.6h1.5M192.8 546.6h1.5M204.4 522.0h1.5M195.8 555.4h1.5M198.7 527.8h1.5M191.4 556.8h1.5M208.8 568.4h1.5M179.8 553.9h1.5M181.2 546.6h1.5M204.4 539.4h1.5M194.3 535.0h1.5M208.8 530.7h1.5M194.3 574.2h1.5M200.1 537.9h1.5M200.1 546.6h1.5M203.0 533.6h1.5M187.0 556.8h1.5M217.5 564.0h1.5M203.0 529.2h1.5M201.5 546.6h1.5M205.9 548.1h1.5M181.2 543.8h1.5M204.4 561.1h1.5M211.7 535.0h1.5M188.5 556.8h1.5M192.8 580.0h1.5M201.5 529.2h1.5M179.8 549.5h1.5M184.2 568.4h1.5M181.2 539.4h1.5M172.5 542.3h1.5M192.8 578.5h1.5M178.3 572.8h1.5M182.7 575.6h1.5M175.4 584.4h1.5M188.5 577.1h1.5M182.7 578.5h1.5M187.0 581.4h1.5M178.3 581.4h1.5M178.3 578.5h1.5M189.9 572.8h1.5M174.0 575.6h1.5M176.9 584.4h1.5M189.9 575.6h1.5M181.2 575.6h1.5M184.2 581.4h1.5M191.4 577.1h1.5M184.2 577.1h1.5M179.8 580.0h1.5M176.9 572.8h1.5M179.8 569.9h1.5M175.4 578.5h1.5M187.0 580.0h1.5M188.5 569.9h1.5M187.0 571.3h1.5M176.9 578.5h1.5M182.7 577.1h1.5M185.6 578.5h1.5M175.4 582.9h1.5M188.5 584.4h1.5M176.9 581.4h1.5M171.1 572.8h1.5M178.3 564.0h1.5M165.3 575.6h1.5M168.2 572.8h1.5M191.4 574.2h1.5M174.0 582.9h1.5M178.3 575.6h1.5M178.3 574.2h1.5M158.0 503.1h1.5M232.0 566.9h1.5M229.1 578.5h1.5M189.9 582.9h1.5M208.8 555.4h1.5M218.9 533.6h1.5M194.3 571.3h1.5M162.4 572.8h1.5M146.4 543.8h1.5M224.8 535.0h1.5M160.9 533.6h1.5M166.8 568.4h1.5M220.4 574.2h1.5M159.5 497.3h1.5M210.2 549.5h1.5M176.9 498.8h1.5" stroke="#000" stroke-width="1.5"/>
<path d="M172.5 522.0h1.5M142.1 507.5h1.5M187.0 523.4h1.5M182.7 516.2h1.5M188.5 527.8h1.5M201.5 519.1h1.5M176.9 527.8h1.5M194.3 526.4h1.5M179.8 513.3h1.5M188.5 514.8h1.5M205.9 526.4h1.5M146.4 524.9h1.5M208.8 527.8h1.5M176.9 513.3h1.5M201.5 527.8h1.5M185.6 510.4h1.5M158.0 522.0h1.5M171.1 514.8h1.5M192.8 527.8h1.5M147.9 514.8h1.5M207.3 519.1h1.5M178.3 524.9h1.5M165.3 510.4h1.5M185.6 532.1h1.5M203.0 520.5h1.5M185.6 545.2h1.5M168.2 530.7h1.5M179.8 561.1h1.5M181.2 549.5h1.5M175.4 562.6h1.5M178.3 533.6h1.5M188.5 542.3h1.5M185.6 552.4h1.5M187.0 552.4h1.5M174.0 543.8h1.5M182.7 540.9h1.5M185.6 546.6h1.5M171.1 539.4h1.5M176.9 571.3h1.5" stroke="#fff" stroke-width="1.5"/>
<rect x="139.25" y="491" width="95.25" height="96.3" stroke-width="1.4"/>
<path d="M179.5 491L179.5 587.3" stroke-width="1.3"/>
<path d="M139.25 532.5L234.5 532.5" stroke-width="1.3"/>
<path d="M85.5 658.3h1.5M71.0 669.9h1.5M76.8 658.3h1.5M75.4 667.0h1.5M81.2 655.4h1.5M81.2 652.5h1.5M69.6 656.9h1.5M52.2 665.5h1.5M97.1 651.0h1.5M78.3 649.6h1.5M81.2 659.8h1.5M85.5 651.0h1.5M74.0 653.9h1.5M76.8 672.8h1.5M74.0 662.6h1.5M103.0 665.5h1.5M92.8 652.5h1.5M88.5 658.3h1.5M91.3 665.5h1.5M85.5 648.1h1.5M79.8 655.4h1.5M82.6 658.3h1.5M88.5 648.1h1.5M72.5 658.3h1.5M82.6 655.4h1.5M78.3 658.3h1.5M81.2 648.1h1.5M55.1 649.6h1.5M82.6 643.8h1.5M79.8 653.9h1.5M75.4 664.1h1.5M74.0 659.8h1.5M89.9 658.3h1.5M75.4 651.0h1.5M79.8 652.5h1.5M65.2 664.1h1.5M72.5 646.7h1.5M72.5 669.9h1.5M78.3 651.0h1.5M68.1 662.6h1.5M82.6 659.8h1.5M76.8 661.2h1.5M92.8 661.2h1.5M76.8 649.6h1.5M82.6 668.4h1.5M81.2 667.0h1.5M72.5 661.2h1.5M89.9 668.4h1.5M63.8 648.1h1.5M82.6 662.6h1.5M75.4 658.3h1.5M75.4 665.5h1.5M58.0 659.8h1.5M66.7 653.9h1.5M65.2 652.5h1.5M95.7 656.9h1.5M82.6 661.2h1.5M79.8 659.8h1.5M78.3 664.1h1.5M79.8 658.3h1.5M78.3 662.6h1.5M74.0 664.1h1.5M97.1 659.8h1.5M87.0 653.9h1.5M84.1 669.9h1.5M82.6 656.9h1.5M66.7 658.3h1.5M85.5 662.6h1.5M68.1 652.5h1.5M69.6 652.5h1.5M76.8 659.8h1.5M92.8 648.1h1.5M92.8 664.1h1.5M82.6 664.1h1.5M87.0 648.1h1.5M62.4 668.4h1.5M78.3 667.0h1.5M75.4 653.9h1.5M75.4 659.8h1.5M84.1 662.6h1.5M71.0 651.0h1.5M60.9 656.9h1.5M74.0 658.3h1.5M79.8 662.6h1.5M87.0 661.2h1.5M89.9 652.5h1.5M84.1 661.2h1.5M69.6 653.9h1.5M66.7 655.4h1.5M79.8 667.0h1.5M71.0 656.9h1.5M88.5 656.9h1.5M94.2 642.4h1.5M79.8 651.0h1.5M103.0 653.9h1.5M69.6 655.4h1.5M81.2 669.9h1.5M81.2 668.4h1.5M69.6 658.3h1.5M75.4 649.6h1.5M114.5 656.9h1.5M81.2 653.9h1.5M74.0 652.5h1.5M88.5 655.4h1.5M78.3 659.8h1.5M68.1 659.8h1.5M84.1 664.1h1.5M72.5 664.1h1.5M55.1 652.5h1.5M76.8 664.1h1.5M72.5 668.4h1.5M62.4 658.3h1.5M84.1 658.3h1.5M81.2 664.1h1.5M71.0 662.6h1.5M56.5 651.0h1.5M71.0 652.5h1.5M82.6 653.9h1.5M103.0 662.6h1.5M66.7 656.9h1.5M92.8 662.6h1.5M69.6 665.5h1.5M74.0 671.4h1.5M84.1 655.4h1.5M76.8 665.5h1.5M82.6 669.9h1.5M88.5 661.2h1.5M82.6 649.6h1.5M85.5 655.4h1.5M82.6 652.5h1.5M88.5 669.9h1.5M62.4 652.5h1.5M85.5 664.1h1.5M76.8 651.0h1.5M63.8 651.0h1.5M91.3 655.4h1.5M97.1 662.6h1.5M87.0 664.1h1.5M98.6 653.9h1.5M78.3 668.4h1.5M53.6 658.3h1.5M87.0 662.6h1.5M62.4 656.9h1.5M75.4 656.9h1.5M85.5 656.9h1.5M78.3 656.9h1.5M89.9 662.6h1.5M71.0 659.8h1.5M85.5 649.6h1.5M85.5 659.8h1.5M62.4 646.7h1.5M97.1 655.4h1.5M91.3 658.3h1.5M88.5 664.1h1.5M65.2 649.6h1.5M87.0 658.3h1.5M76.8 671.4h1.5M88.5 653.9h1.5M81.2 651.0h1.5M76.8 656.9h1.5M82.6 651.0h1.5M63.8 671.4h1.5M72.5 656.9h1.5M62.4 653.9h1.5M72.5 662.6h1.5M53.6 649.6h1.5M75.4 655.4h1.5M71.0 655.4h1.5M63.8 659.8h1.5M89.9 659.8h1.5M74.0 665.5h1.5M84.1 652.5h1.5M74.0 655.4h1.5M78.3 665.5h1.5M89.9 646.7h1.5M91.3 662.6h1.5M65.2 661.2h1.5M81.2 662.6h1.5M92.8 659.8h1.5M59.4 652.5h1.5M59.4 653.9h1.5M82.6 667.0h1.5M68.1 658.3h1.5M92.8 653.9h1.5M72.5 652.5h1.5M88.5 659.8h1.5M84.1 659.8h1.5M87.0 667.0h1.5M95.7 652.5h1.5M68.1 649.6h1.5M88.5 662.6h1.5M91.3 668.4h1.5M89.9 661.2h1.5M74.0 656.9h1.5M95.7 664.1h1.5M58.0 653.9h1.5M76.8 655.4h1.5M72.5 667.0h1.5M76.8 652.5h1.5M76.8 653.9h1.5M75.4 674.2h1.5M76.8 668.4h1.5M78.3 661.2h1.5M59.4 659.8h1.5M79.8 656.9h1.5M65.2 659.8h1.5M68.1 655.4h1.5M69.6 664.1h1.5M108.8 664.1h1.5M89.9 653.9h1.5M75.4 669.9h1.5M78.3 653.9h1.5M85.5 652.5h1.5M79.8 646.7h1.5M81.2 656.9h1.5M68.1 656.9h1.5M87.0 656.9h1.5M55.1 658.3h1.5M75.4 672.8h1.5M95.7 662.6h1.5M81.2 649.6h1.5M97.1 664.1h1.5M65.2 655.4h1.5M88.5 667.0h1.5M84.1 643.8h1.5M100.0 665.5h1.5M72.5 653.9h1.5M56.5 662.6h1.5M100.0 664.1h1.5M69.6 661.2h1.5M69.6 662.6h1.5M74.0 674.2h1.5M81.2 661.2h1.5M75.4 652.5h1.5M71.0 661.2h1.5M66.7 661.2h1.5M88.5 665.5h1.5M84.1 649.6h1.5M66.7 662.6h1.5M81.2 646.7h1.5M79.8 661.2h1.5M74.0 651.0h1.5M95.7 648.1h1.5M97.1 671.4h1.5M88.5 652.5h1.5M71.0 653.9h1.5M92.8 667.0h1.5M87.0 671.4h1.5M84.1 653.9h1.5M78.3 655.4h1.5M92.8 658.3h1.5M89.9 656.9h1.5M85.5 667.0h1.5M92.8 651.0h1.5M79.8 649.6h1.5M101.5 655.4h1.5M69.6 668.4h1.5M71.0 648.1h1.5M65.2 665.5h1.5M94.2 665.5h1.5M95.7 665.5h1.5M56.5 653.9h1.5M69.6 659.8h1.5M71.0 645.2h1.5M92.8 649.6h1.5M85.5 668.4h1.5M72.5 665.5h1.5M81.2 665.5h1.5M103.0 659.8h1.5M87.0 655.4h1.5M74.0 648.1h1.5M87.0 652.5h1.5M78.3 648.1h1.5M76.8 667.0h1.5M71.0 664.1h1.5M65.2 656.9h1.5M88.5 668.4h1.5M95.7 643.8h1.5M63.8 669.9h1.5M101.5 662.6h1.5M69.6 667.0h1.5M55.1 659.8h1.5M104.4 655.4h1.5M85.5 674.2h1.5M81.2 672.8h1.5M74.0 661.2h1.5M87.0 672.8h1.5M79.8 664.1h1.5M65.2 667.0h1.5M82.6 672.8h1.5M95.7 655.4h1.5M78.3 678.6h1.5M110.2 667.0h1.5M75.4 662.6h1.5M95.7 658.3h1.5M101.5 674.2h1.5M74.0 646.7h1.5M87.0 651.0h1.5M52.2 669.9h1.5M94.2 635.1h1.5M68.1 672.8h1.5M71.0 665.5h1.5M78.3 685.9h1.5M91.3 653.9h1.5M62.4 659.8h1.5M94.2 667.0h1.5M79.8 684.4h1.5M103.0 669.9h1.5M88.5 646.7h1.5M69.6 674.2h1.5M89.9 665.5h1.5M98.6 677.1h1.5M91.3 651.0h1.5M76.8 669.9h1.5M69.6 680.0h1.5M81.2 677.1h1.5M84.1 665.5h1.5M74.0 667.0h1.5M79.8 648.1h1.5M74.0 677.1h1.5M98.6 665.5h1.5M53.6 684.4h1.5M75.4 675.7h1.5M72.5 678.6h1.5M94.2 655.4h1.5M60.9 655.4h1.5M94.2 669.9h1.5M78.3 680.0h1.5M63.8 662.6h1.5M78.3 672.8h1.5M98.6 678.6h1.5M62.4 682.9h1.5M103.0 645.2h1.5M79.8 677.1h1.5M88.5 672.8h1.5M111.6 672.8h1.5M95.7 674.2h1.5M91.3 677.1h1.5M71.0 667.0h1.5M92.8 655.4h1.5M105.8 674.2h1.5M66.7 659.8h1.5M76.8 677.1h1.5M53.6 662.6h1.5M62.4 665.5h1.5M60.9 665.5h1.5M84.1 651.0h1.5M101.5 665.5h1.5M66.7 677.1h1.5M58.0 648.1h1.5M60.9 680.0h1.5M94.2 680.0h1.5M69.6 671.4h1.5M59.4 669.9h1.5M103.0 652.5h1.5M84.1 674.2h1.5M87.0 675.7h1.5M92.8 677.1h1.5M104.4 668.4h1.5M81.2 645.2h1.5M76.8 674.2h1.5M98.6 662.6h1.5M76.8 675.7h1.5M87.0 665.5h1.5M88.5 651.0h1.5M84.1 672.8h1.5M95.7 668.4h1.5M87.0 668.4h1.5M92.8 685.9h1.5M88.5 674.2h1.5M84.1 656.9h1.5M78.3 682.9h1.5M85.5 672.8h1.5M85.5 685.9h1.5M87.0 680.0h1.5M79.8 680.0h1.5M72.5 672.8h1.5M92.8 680.0h1.5M84.1 675.7h1.5M69.6 678.6h1.5M88.5 675.7h1.5M66.7 678.6h1.5M76.8 678.6h1.5M72.5 677.1h1.5M75.4 682.9h1.5M79.8 682.9h1.5M65.2 681.5h1.5M85.5 682.9h1.5M78.3 669.9h1.5M75.4 681.5h1.5M88.5 677.1h1.5M66.7 684.4h1.5M72.5 671.4h1.5M68.1 675.7h1.5M71.0 675.7h1.5M79.8 681.5h1.5M75.4 671.4h1.5M66.7 680.0h1.5M69.6 669.9h1.5M89.9 682.9h1.5M88.5 680.0h1.5M69.6 682.9h1.5M89.9 685.9h1.5M85.5 677.1h1.5M62.4 674.2h1.5M87.0 678.6h1.5M82.6 680.0h1.5M98.6 614.8h1.5M94.2 627.9h1.5M95.7 617.7h1.5M105.8 622.0h1.5M94.2 620.6h1.5M89.9 620.6h1.5M100.0 617.7h1.5M98.6 620.6h1.5M78.3 617.7h1.5M97.1 614.8h1.5M89.9 617.7h1.5M108.8 613.4h1.5M92.8 616.2h1.5M88.5 623.5h1.5M89.9 626.4h1.5M104.4 620.6h1.5M104.4 614.8h1.5M84.1 620.6h1.5M101.5 606.1h1.5M88.5 627.9h1.5M100.0 626.4h1.5M101.5 617.7h1.5M100.0 623.5h1.5M97.1 616.2h1.5M100.0 614.8h1.5M116.0 607.5h1.5M85.5 611.9h1.5M105.8 613.4h1.5M98.6 616.2h1.5M98.6 607.5h1.5M97.1 613.4h1.5M105.8 620.6h1.5M87.0 613.4h1.5M101.5 624.9h1.5M103.0 614.8h1.5M105.8 598.9h1.5M92.8 611.9h1.5M89.9 623.5h1.5M98.6 619.1h1.5M95.7 622.0h1.5M103.0 611.9h1.5M104.4 609.0h1.5M110.2 604.6h1.5M94.2 610.4h1.5M97.1 626.4h1.5M91.3 632.2h1.5M107.3 617.7h1.5M92.8 624.9h1.5M75.4 619.1h1.5M104.4 616.2h1.5M87.0 619.1h1.5M101.5 629.3h1.5M84.1 623.5h1.5M107.3 610.4h1.5M103.0 622.0h1.5M107.3 619.1h1.5M97.1 622.0h1.5M85.5 609.0h1.5M110.2 614.8h1.5M88.5 616.2h1.5M95.7 619.1h1.5M91.3 626.4h1.5M84.1 640.9h1.5M88.5 632.2h1.5M103.0 604.6h1.5M87.0 620.6h1.5M97.1 619.1h1.5M88.5 620.6h1.5M114.5 609.0h1.5M89.9 624.9h1.5M107.3 622.0h1.5M92.8 619.1h1.5M100.0 624.9h1.5M101.5 616.2h1.5M95.7 630.8h1.5M87.0 635.1h1.5M103.0 617.7h1.5M113.1 600.3h1.5M91.3 620.6h1.5M101.5 620.6h1.5M95.7 609.0h1.5M113.1 620.6h1.5M97.1 610.4h1.5M118.9 607.5h1.5M98.6 623.5h1.5M101.5 626.4h1.5M88.5 614.8h1.5M98.6 609.0h1.5M92.8 629.3h1.5M92.8 632.2h1.5M85.5 633.6h1.5M97.1 623.5h1.5M101.5 630.8h1.5M69.6 620.6h1.5M92.8 626.4h1.5M105.8 643.8h1.5M108.8 639.4h1.5M101.5 627.9h1.5M89.9 622.0h1.5M91.3 636.5h1.5M98.6 640.9h1.5M89.9 639.4h1.5M98.6 624.9h1.5M81.2 636.5h1.5M82.6 636.5h1.5M85.5 645.2h1.5M89.9 633.6h1.5M88.5 626.4h1.5M91.3 617.7h1.5M103.0 646.7h1.5M84.1 635.1h1.5M82.6 639.4h1.5M82.6 632.2h1.5M101.5 636.5h1.5M75.4 642.4h1.5M94.2 633.6h1.5M101.5 633.6h1.5M84.1 632.2h1.5M89.9 632.2h1.5M113.1 638.0h1.5M92.8 630.8h1.5M84.1 624.9h1.5M74.0 629.3h1.5M76.8 617.7h1.5M81.2 616.2h1.5M103.0 642.4h1.5M81.2 678.6h1.5M113.1 682.9h1.5M110.2 633.6h1.5M95.7 667.0h1.5M63.8 646.7h1.5M98.6 661.2h1.5M108.8 632.2h1.5M105.8 677.1h1.5M84.1 645.2h1.5" stroke="#000" stroke-width="1.5"/>
<rect x="33" y="592.5" width="95.7" height="95.5" stroke-width="1.4"/>
<path d="M80.5 592.5L80.5 688" stroke-width="1.3"/>
<path d="M33 642.5L128.7 642.5" stroke-width="1.3"/>
<path d="M168.2 648.1h1.5M175.4 655.4h1.5M171.1 656.9h1.5M182.7 674.2h1.5M168.2 645.2h1.5M174.0 646.7h1.5M185.6 664.1h1.5M171.1 638.0h1.5M178.3 646.7h1.5M172.5 661.2h1.5M178.3 658.3h1.5M175.4 661.2h1.5M174.0 630.8h1.5M175.4 626.4h1.5M181.2 653.9h1.5M168.2 646.7h1.5M179.8 640.9h1.5M176.9 638.0h1.5M175.4 643.8h1.5M176.9 632.2h1.5M171.1 649.6h1.5M174.0 651.0h1.5M174.0 627.9h1.5M178.3 648.1h1.5M178.3 640.9h1.5M174.0 661.2h1.5M168.2 667.0h1.5M178.3 643.8h1.5M175.4 652.5h1.5M172.5 648.1h1.5M171.1 620.6h1.5M176.9 646.7h1.5M178.3 652.5h1.5M178.3 655.4h1.5M171.1 661.2h1.5M187.0 638.0h1.5M169.7 653.9h1.5M179.8 658.3h1.5M182.7 626.4h1.5M176.9 651.0h1.5M181.2 633.6h1.5M175.4 639.4h1.5M175.4 622.0h1.5M175.4 645.2h1.5M174.0 598.9h1.5M172.5 636.5h1.5M172.5 665.5h1.5M179.8 642.4h1.5M171.1 651.0h1.5M172.5 664.1h1.5M179.8 643.8h1.5M178.3 635.1h1.5M168.2 655.4h1.5M182.7 640.9h1.5M174.0 622.0h1.5M184.2 629.3h1.5M171.1 642.4h1.5M181.2 645.2h1.5M176.9 643.8h1.5M171.1 662.6h1.5M172.5 627.9h1.5M174.0 645.2h1.5M178.3 626.4h1.5M169.7 646.7h1.5M176.9 630.8h1.5M171.1 646.7h1.5M175.4 623.5h1.5M171.1 664.1h1.5M171.1 658.3h1.5M169.7 664.1h1.5M182.7 636.5h1.5M172.5 652.5h1.5M169.7 652.5h1.5M181.2 648.1h1.5M176.9 642.4h1.5M179.8 633.6h1.5M182.7 645.2h1.5M174.0 623.5h1.5M174.0 648.1h1.5M181.2 623.5h1.5M175.4 636.5h1.5M171.1 645.2h1.5M172.5 656.9h1.5M163.8 653.9h1.5M166.8 619.1h1.5M175.4 632.2h1.5M171.1 635.1h1.5M175.4 633.6h1.5M174.0 633.6h1.5M166.8 610.4h1.5M175.4 646.7h1.5M179.8 635.1h1.5M171.1 624.9h1.5M178.3 636.5h1.5M174.0 620.6h1.5M172.5 655.4h1.5M172.5 653.9h1.5M168.2 658.3h1.5M187.0 659.8h1.5M176.9 629.3h1.5M174.0 636.5h1.5M176.9 619.1h1.5M179.8 630.8h1.5M169.7 651.0h1.5M172.5 658.3h1.5M176.9 659.8h1.5M174.0 653.9h1.5M178.3 630.8h1.5M169.7 635.1h1.5M166.8 636.5h1.5M187.0 646.7h1.5M182.7 629.3h1.5M172.5 635.1h1.5M168.2 633.6h1.5M181.2 664.1h1.5M178.3 642.4h1.5M174.0 656.9h1.5M174.0 638.0h1.5M181.2 649.6h1.5M175.4 638.0h1.5M181.2 651.0h1.5M184.2 656.9h1.5M178.3 651.0h1.5M182.7 624.9h1.5M171.1 636.5h1.5M172.5 632.2h1.5M169.7 659.8h1.5M174.0 658.3h1.5M171.1 614.8h1.5M172.5 649.6h1.5M176.9 658.3h1.5M172.5 645.2h1.5M171.1 629.3h1.5M175.4 653.9h1.5M174.0 655.4h1.5M182.7 627.9h1.5M172.5 646.7h1.5M165.3 652.5h1.5M178.3 668.4h1.5M174.0 659.8h1.5M168.2 642.4h1.5M174.0 642.4h1.5M181.2 636.5h1.5M179.8 652.5h1.5M181.2 656.9h1.5M168.2 649.6h1.5M165.3 664.1h1.5M169.7 640.9h1.5M168.2 652.5h1.5M175.4 659.8h1.5M182.7 646.7h1.5M178.3 632.2h1.5M168.2 624.9h1.5M178.3 649.6h1.5M178.3 661.2h1.5M175.4 648.1h1.5M171.1 640.9h1.5M172.5 643.8h1.5M178.3 656.9h1.5M178.3 662.6h1.5M185.6 659.8h1.5M175.4 630.8h1.5M176.9 640.9h1.5M174.0 617.7h1.5M168.2 672.8h1.5M174.0 632.2h1.5M172.5 675.7h1.5M165.3 661.2h1.5M175.4 649.6h1.5M176.9 627.9h1.5M174.0 668.4h1.5M166.8 633.6h1.5M179.8 639.4h1.5M172.5 624.9h1.5M175.4 642.4h1.5M175.4 651.0h1.5M179.8 651.0h1.5M181.2 661.2h1.5M163.8 667.0h1.5M176.9 656.9h1.5M169.7 629.3h1.5M178.3 638.0h1.5M178.3 622.0h1.5M169.7 627.9h1.5M182.7 667.0h1.5M174.0 639.4h1.5M172.5 674.2h1.5M165.3 643.8h1.5M172.5 671.4h1.5M184.2 636.5h1.5M175.4 629.3h1.5M169.7 661.2h1.5M179.8 626.4h1.5M185.6 642.4h1.5M178.3 665.5h1.5M188.5 619.1h1.5M168.2 614.8h1.5M179.8 617.7h1.5M171.1 659.8h1.5M171.1 630.8h1.5M176.9 662.6h1.5M169.7 639.4h1.5M178.3 629.3h1.5M175.4 656.9h1.5M182.7 656.9h1.5M184.2 607.5h1.5M174.0 643.8h1.5M179.8 659.8h1.5M181.2 665.5h1.5M179.8 645.2h1.5M176.9 624.9h1.5M172.5 659.8h1.5M176.9 645.2h1.5M168.2 640.9h1.5M179.8 655.4h1.5M179.8 662.6h1.5M174.0 629.3h1.5M175.4 613.4h1.5M175.4 665.5h1.5M176.9 635.1h1.5M181.2 640.9h1.5M184.2 640.9h1.5M169.7 649.6h1.5M178.3 639.4h1.5M176.9 653.9h1.5M178.3 624.9h1.5M179.8 609.0h1.5M184.2 613.4h1.5M165.3 630.8h1.5M175.4 611.9h1.5M175.4 614.8h1.5M179.8 611.9h1.5M171.1 613.4h1.5M172.5 623.5h1.5M174.0 610.4h1.5M172.5 604.6h1.5M175.4 619.1h1.5M176.9 616.2h1.5M176.9 611.9h1.5M169.7 622.0h1.5M175.4 617.7h1.5M171.1 622.0h1.5M174.0 611.9h1.5M175.4 624.9h1.5M175.4 609.0h1.5M178.3 620.6h1.5M172.5 616.2h1.5M171.1 623.5h1.5M175.4 616.2h1.5M176.9 613.4h1.5M178.3 611.9h1.5M175.4 610.4h1.5M166.8 611.9h1.5M176.9 623.5h1.5M172.5 603.2h1.5M168.2 620.6h1.5M179.8 624.9h1.5M174.0 619.1h1.5M166.8 622.0h1.5M176.9 610.4h1.5M182.7 622.0h1.5M174.0 624.9h1.5M172.5 619.1h1.5M178.3 627.9h1.5M174.0 616.2h1.5M176.9 617.7h1.5M169.7 613.4h1.5M168.2 623.5h1.5M179.8 620.6h1.5M174.0 614.8h1.5M174.0 626.4h1.5M172.5 622.0h1.5M179.8 613.4h1.5M178.3 617.7h1.5M171.1 619.1h1.5M174.0 613.4h1.5M178.3 614.8h1.5M179.8 614.8h1.5M174.0 662.6h1.5M176.9 655.4h1.5M171.1 681.5h1.5M179.8 661.2h1.5M182.7 672.8h1.5M171.1 671.4h1.5M175.4 678.6h1.5M174.0 677.1h1.5M176.9 668.4h1.5M178.3 659.8h1.5M175.4 668.4h1.5M176.9 667.0h1.5M174.0 675.7h1.5M174.0 665.5h1.5M175.4 671.4h1.5M175.4 672.8h1.5M181.2 671.4h1.5M175.4 681.5h1.5M179.8 669.9h1.5M189.9 645.2h1.5M198.7 658.3h1.5M187.0 632.2h1.5M189.9 649.6h1.5M189.9 639.4h1.5M182.7 638.0h1.5M189.9 640.9h1.5M205.9 643.8h1.5M194.3 640.9h1.5M189.9 635.1h1.5M187.0 627.9h1.5M181.2 652.5h1.5M197.2 639.4h1.5M194.3 642.4h1.5M200.1 659.8h1.5M191.4 661.2h1.5M195.8 667.0h1.5M189.9 627.9h1.5M192.8 649.6h1.5M188.5 643.8h1.5M188.5 630.8h1.5M205.9 636.5h1.5M181.2 626.4h1.5M184.2 646.7h1.5M204.4 653.9h1.5M184.2 630.8h1.5M198.7 640.9h1.5M204.4 671.4h1.5M192.8 619.1h1.5M200.1 645.2h1.5M197.2 659.8h1.5M182.7 648.1h1.5M192.8 638.0h1.5M197.2 645.2h1.5M187.0 671.4h1.5M192.8 668.4h1.5M189.9 659.8h1.5M184.2 648.1h1.5M200.1 619.1h1.5M195.8 643.8h1.5M200.1 649.6h1.5M189.9 630.8h1.5M217.5 638.0h1.5M188.5 638.0h1.5M188.5 649.6h1.5M188.5 653.9h1.5M172.5 640.9h1.5M188.5 642.4h1.5M185.6 651.0h1.5M194.3 635.1h1.5M188.5 661.2h1.5M198.7 645.2h1.5M184.2 662.6h1.5M175.4 658.3h1.5M176.9 639.4h1.5M187.0 651.0h1.5M185.6 655.4h1.5M205.9 649.6h1.5M189.9 642.4h1.5M201.5 661.2h1.5M208.8 653.9h1.5M197.2 636.5h1.5M185.6 658.3h1.5M192.8 632.2h1.5M185.6 607.5h1.5M191.4 630.8h1.5M189.9 632.2h1.5M216.0 632.2h1.5M181.2 639.4h1.5M227.7 617.7h1.5M217.5 619.1h1.5M214.6 620.6h1.5M207.3 661.2h1.5M172.5 667.0h1.5M203.0 617.7h1.5M185.6 611.9h1.5M188.5 611.9h1.5M189.9 611.9h1.5M191.4 611.9h1.5M194.3 611.9h1.5M195.8 611.9h1.5M197.2 611.9h1.5M192.8 613.4h1.5M194.3 613.4h1.5M197.2 613.4h1.5M185.6 617.7h1.5M187.0 617.7h1.5M188.5 617.7h1.5M191.4 617.7h1.5M203.0 623.5h1.5M204.4 623.5h1.5M207.3 623.5h1.5M208.8 623.5h1.5M211.7 623.5h1.5M213.2 623.5h1.5M214.6 623.5h1.5M185.6 626.4h1.5M188.5 626.4h1.5M189.9 626.4h1.5" stroke="#000" stroke-width="1.5"/>
<rect x="139.25" y="593" width="95.25" height="95" stroke-width="1.4"/>
<path d="M177.5 593L177.5 688" stroke-width="1.3"/>
<path d="M139.25 633L234.5 633" stroke-width="1.3"/>
<path d="M34.8 746.8H34.8V746.8H39.1V748.2H42.0V748.2H42.0V748.2H43.5V748.2H47.9V746.8H50.8V746.8H53.6V748.2H56.5V748.2H55.1V748.2H59.4V746.8H62.4V748.2H63.8V746.8H66.7V749.6H68.1V749.6H71.0V746.8H71.0V746.8H74.0V746.8H75.4V749.6H78.3V749.6H81.2V751.1H82.6V749.6H85.5V749.6H89.9V754.0H89.9V756.9H89.9V758.4H89.9V759.8H94.2V764.1H94.2V767.0H91.3V765.6H91.3V769.9H92.8V771.4H92.8V772.9H91.3V775.8H88.5V778.6H87.0V780.1H87.0V780.1H84.1V781.5H81.2V784.4H79.8V784.4H76.8V785.9H74.0V787.4H74.0V785.9H72.5V785.9H68.1V785.9H66.7V788.8H62.4V788.8H62.4V788.8H59.4V788.8H56.5V787.4H56.5V787.4H55.1V788.8H52.2V787.4H49.3V788.8H46.4V787.4H43.5V788.8H42.0V787.4H39.1V788.8H37.7V787.4H39.1V784.4H36.2V781.5H34.8V778.6H36.2V777.2H34.8V774.3H36.2V774.3H34.8V769.9H33.4V767.0H34.8V764.1H34.8V762.7H33.4V758.4H33.4V756.9H34.8V755.4H34.8V754.0H34.8V751.1Z" fill="#000" stroke="none"/>
<path d="M105.8 784.4h1.5M98.6 761.2h1.5M84.1 754.0h1.5M56.5 771.4h1.5M84.1 743.9h1.5M66.7 769.9h1.5M43.5 774.3h1.5M72.5 759.8h1.5M107.3 771.4h1.5M58.0 765.6h1.5M82.6 769.9h1.5M40.6 758.4h1.5M72.5 771.4h1.5M47.9 765.6h1.5M50.8 775.8h1.5M84.1 761.2h1.5M59.4 754.0h1.5M69.6 778.6h1.5M82.6 785.9h1.5M62.4 756.9h1.5M94.2 778.6h1.5M53.6 781.5h1.5M69.6 767.0h1.5M113.1 774.3h1.5M76.8 764.1h1.5M74.0 780.1h1.5M79.8 758.4h1.5M79.8 767.0h1.5M76.8 765.6h1.5M60.9 742.4h1.5M85.5 762.7h1.5M76.8 740.9h1.5M75.4 780.1h1.5M74.0 752.5h1.5M92.8 761.2h1.5M56.5 769.9h1.5M79.8 752.5h1.5M69.6 768.5h1.5M103.0 783.0h1.5M49.3 772.9h1.5M107.3 755.4h1.5M60.9 759.8h1.5M82.6 772.9h1.5M68.1 775.8h1.5M50.8 764.1h1.5M68.1 768.5h1.5M100.0 768.5h1.5M100.0 771.4h1.5M97.1 769.9h1.5M47.9 758.4h1.5M113.1 764.1h1.5M49.3 778.6h1.5M78.3 775.8h1.5M40.6 772.9h1.5M91.3 767.0h1.5M94.2 768.5h1.5M78.3 764.1h1.5M37.7 765.6h1.5M81.2 758.4h1.5M100.0 765.6h1.5M52.2 783.0h1.5M65.2 749.6h1.5M59.4 756.9h1.5M65.2 756.9h1.5M71.0 772.9h1.5M56.5 765.6h1.5M65.2 777.2h1.5M52.2 777.2h1.5M98.6 765.6h1.5M46.4 764.1h1.5M42.0 765.6h1.5M60.9 774.3h1.5M72.5 772.9h1.5M68.1 771.4h1.5M43.5 775.8h1.5M100.0 781.5h1.5M37.7 772.9h1.5M65.2 762.7h1.5M52.2 765.6h1.5M69.6 756.9h1.5M71.0 771.4h1.5M82.6 767.0h1.5M92.8 771.4h1.5M36.2 775.8h1.5M82.6 736.6h1.5M65.2 772.9h1.5M71.0 768.5h1.5M66.7 784.4h1.5M49.3 761.2h1.5M76.8 769.9h1.5M76.8 784.4h1.5M97.1 772.9h1.5M71.0 767.0h1.5M63.8 780.1h1.5M39.1 755.4h1.5M39.1 765.6h1.5M56.5 755.4h1.5M34.8 768.5h1.5M60.9 781.5h1.5M81.2 778.6h1.5M47.9 774.3h1.5M69.6 781.5h1.5M59.4 765.6h1.5M49.3 752.5h1.5M75.4 777.2h1.5M95.7 771.4h1.5M42.0 759.8h1.5M78.3 768.5h1.5M62.4 755.4h1.5M69.6 774.3h1.5M44.9 751.1h1.5M62.4 771.4h1.5M63.8 785.9h1.5M72.5 755.4h1.5M88.5 759.8h1.5M85.5 768.5h1.5M98.6 755.4h1.5M87.0 772.9h1.5M47.9 775.8h1.5M123.2 772.9h1.5M104.4 759.8h1.5M101.5 749.6h1.5M65.2 764.1h1.5M58.0 783.0h1.5M55.1 772.9h1.5M113.1 777.2h1.5M59.4 759.8h1.5M91.3 781.5h1.5M88.5 740.9h1.5M49.3 777.2h1.5M60.9 778.6h1.5M121.8 767.0h1.5M91.3 761.2h1.5M107.3 756.9h1.5M65.2 778.6h1.5M65.2 761.2h1.5M69.6 775.8h1.5M111.6 784.4h1.5M114.5 767.0h1.5M59.4 755.4h1.5M58.0 767.0h1.5M71.0 778.6h1.5M47.9 781.5h1.5M71.0 777.2h1.5M100.0 752.5h1.5M107.3 759.8h1.5M79.8 781.5h1.5M91.3 749.6h1.5M74.0 781.5h1.5M66.7 767.0h1.5M71.0 787.4h1.5M56.5 756.9h1.5M43.5 761.2h1.5M63.8 772.9h1.5M68.1 746.8h1.5M87.0 751.1h1.5M92.8 739.5h1.5M126.1 775.8h1.5M69.6 762.7h1.5M60.9 765.6h1.5M68.1 756.9h1.5M56.5 774.3h1.5M82.6 752.5h1.5M58.0 787.4h1.5M87.0 787.4h1.5M37.7 755.4h1.5M60.9 755.4h1.5M43.5 759.8h1.5M84.1 746.8h1.5M105.8 764.1h1.5M46.4 767.0h1.5M60.9 751.1h1.5M107.3 761.2h1.5M55.1 774.3h1.5M110.2 774.3h1.5M47.9 772.9h1.5M68.1 748.2h1.5M52.2 754.0h1.5M69.6 785.9h1.5M47.9 767.0h1.5M98.6 758.4h1.5M50.8 783.0h1.5M78.3 774.3h1.5M89.9 759.8h1.5M75.4 759.8h1.5M52.2 769.9h1.5M74.0 775.8h1.5M62.4 758.4h1.5M88.5 775.8h1.5M52.2 775.8h1.5M107.3 764.1h1.5M46.4 771.4h1.5M72.5 774.3h1.5M36.2 771.4h1.5M91.3 775.8h1.5M85.5 783.0h1.5M75.4 755.4h1.5M78.3 784.4h1.5M74.0 761.2h1.5M123.2 764.1h1.5M50.8 778.6h1.5M59.4 758.4h1.5M44.9 783.0h1.5M44.9 769.9h1.5M50.8 769.9h1.5M84.1 780.1h1.5M60.9 754.0h1.5M71.0 769.9h1.5M36.2 759.8h1.5M59.4 775.8h1.5M82.6 745.3h1.5M63.8 783.0h1.5M58.0 769.9h1.5M66.7 754.0h1.5M123.2 767.0h1.5M104.4 781.5h1.5M98.6 780.1h1.5M87.0 784.4h1.5M79.8 769.9h1.5M89.9 756.9h1.5M74.0 759.8h1.5M63.8 756.9h1.5M49.3 769.9h1.5M72.5 778.6h1.5M87.0 759.8h1.5M63.8 761.2h1.5M123.2 759.8h1.5M87.0 752.5h1.5M92.8 769.9h1.5M110.2 761.2h1.5M104.4 739.5h1.5M113.1 768.5h1.5M94.2 775.8h1.5M60.9 769.9h1.5M42.0 752.5h1.5M72.5 777.2h1.5M74.0 754.0h1.5M89.9 768.5h1.5M88.5 764.1h1.5M103.0 754.0h1.5M43.5 780.1h1.5M46.4 780.1h1.5M74.0 771.4h1.5M79.8 761.2h1.5M39.1 759.8h1.5M63.8 781.5h1.5M95.7 778.6h1.5M124.7 768.5h1.5M78.3 783.0h1.5M79.8 780.1h1.5M78.3 745.3h1.5M95.7 765.6h1.5M49.3 764.1h1.5M78.3 767.0h1.5M55.1 762.7h1.5M65.2 754.0h1.5M60.9 780.1h1.5M81.2 768.5h1.5M78.3 765.6h1.5M42.0 778.6h1.5M124.7 774.3h1.5M40.6 774.3h1.5M62.4 764.1h1.5M79.8 749.6h1.5M46.4 775.8h1.5M110.2 772.9h1.5M94.2 777.2h1.5M101.5 762.7h1.5M66.7 751.1h1.5M91.3 772.9h1.5M103.0 758.4h1.5M68.1 761.2h1.5M66.7 759.8h1.5M74.0 764.1h1.5M111.6 755.4h1.5M84.1 768.5h1.5M108.8 756.9h1.5M53.6 764.1h1.5M60.9 756.9h1.5M100.0 785.9h1.5M37.7 775.8h1.5M85.5 772.9h1.5M72.5 768.5h1.5M62.4 762.7h1.5M74.0 774.3h1.5M92.8 765.6h1.5M100.0 756.9h1.5M116.0 780.1h1.5M104.4 787.4h1.5M40.6 767.0h1.5M81.2 780.1h1.5M72.5 752.5h1.5M81.2 764.1h1.5M85.5 761.2h1.5M69.6 780.1h1.5M89.9 754.0h1.5M65.2 768.5h1.5M72.5 780.1h1.5M88.5 738.0h1.5M91.3 768.5h1.5M65.2 784.4h1.5M114.5 777.2h1.5M53.6 780.1h1.5M87.0 775.8h1.5M59.4 768.5h1.5M59.4 764.1h1.5M63.8 764.1h1.5M72.5 769.9h1.5M55.1 767.0h1.5M68.1 774.3h1.5M50.8 748.2h1.5M39.1 772.9h1.5M47.9 787.4h1.5M66.7 764.1h1.5M66.7 761.2h1.5M55.1 768.5h1.5M34.8 769.9h1.5M94.2 772.9h1.5M95.7 759.8h1.5M40.6 754.0h1.5M107.3 762.7h1.5M66.7 787.4h1.5M74.0 756.9h1.5M87.0 783.0h1.5M91.3 777.2h1.5M66.7 780.1h1.5M50.8 754.0h1.5M63.8 765.6h1.5M97.1 758.4h1.5M39.1 748.2h1.5M69.6 751.1h1.5M75.4 768.5h1.5M60.9 745.3h1.5M58.0 772.9h1.5M71.0 761.2h1.5M75.4 775.8h1.5M69.6 758.4h1.5M78.3 780.1h1.5M101.5 787.4h1.5M94.2 769.9h1.5M65.2 769.9h1.5M85.5 758.4h1.5M107.3 749.6h1.5M94.2 752.5h1.5M43.5 762.7h1.5M63.8 752.5h1.5M85.5 767.0h1.5M103.0 755.4h1.5M65.2 780.1h1.5M40.6 745.3h1.5M59.4 784.4h1.5M108.8 752.5h1.5M55.1 746.8h1.5M49.3 756.9h1.5M89.9 769.9h1.5M87.0 785.9h1.5M76.8 778.6h1.5M53.6 762.7h1.5M71.0 764.1h1.5M62.4 759.8h1.5M91.3 765.6h1.5M66.7 765.6h1.5M101.5 761.2h1.5M104.4 758.4h1.5M107.3 775.8h1.5M97.1 756.9h1.5M65.2 771.4h1.5M88.5 785.9h1.5M95.7 743.9h1.5M111.6 772.9h1.5M74.0 758.4h1.5M120.3 772.9h1.5M85.5 749.6h1.5M107.3 765.6h1.5M42.0 758.4h1.5M87.0 769.9h1.5M71.0 765.6h1.5M58.0 764.1h1.5M81.2 742.4h1.5M42.0 784.4h1.5M68.1 787.4h1.5M62.4 745.3h1.5M79.8 774.3h1.5M79.8 787.4h1.5M52.2 751.1h1.5M76.8 759.8h1.5M50.8 781.5h1.5M63.8 759.8h1.5M58.0 756.9h1.5M81.2 769.9h1.5M44.9 749.6h1.5M49.3 746.8h1.5M49.3 749.6h1.5M87.0 754.0h1.5M56.5 767.0h1.5M62.4 783.0h1.5M78.3 759.8h1.5M105.8 754.0h1.5M81.2 783.0h1.5M72.5 775.8h1.5M87.0 745.3h1.5M117.5 771.4h1.5M55.1 775.8h1.5M63.8 774.3h1.5M75.4 765.6h1.5M75.4 783.0h1.5M66.7 781.5h1.5M50.8 768.5h1.5M75.4 761.2h1.5M49.3 762.7h1.5M107.3 758.4h1.5M43.5 769.9h1.5M88.5 754.0h1.5M42.0 764.1h1.5M87.0 761.2h1.5M79.8 772.9h1.5M78.3 755.4h1.5M53.6 767.0h1.5M37.7 778.6h1.5M126.1 738.0h1.5M81.2 756.9h1.5M78.3 781.5h1.5M63.8 777.2h1.5M72.5 756.9h1.5M55.1 761.2h1.5M101.5 781.5h1.5M75.4 749.6h1.5M58.0 762.7h1.5M76.8 752.5h1.5M59.4 762.7h1.5M113.1 775.8h1.5M88.5 768.5h1.5M40.6 778.6h1.5M53.6 745.3h1.5M87.0 764.1h1.5M100.0 764.1h1.5M62.4 768.5h1.5M50.8 765.6h1.5M47.9 771.4h1.5M76.8 772.9h1.5M65.2 751.1h1.5M56.5 752.5h1.5M92.8 780.1h1.5M68.1 777.2h1.5M62.4 780.1h1.5M55.1 758.4h1.5M78.3 762.7h1.5M76.8 756.9h1.5M44.9 754.0h1.5M95.7 746.8h1.5M85.5 765.6h1.5M76.8 774.3h1.5M50.8 777.2h1.5M91.3 769.9h1.5M36.2 743.9h1.5M88.5 756.9h1.5M71.0 752.5h1.5M40.6 762.7h1.5M58.0 742.4h1.5M110.2 778.6h1.5M59.4 778.6h1.5M46.4 785.9h1.5M56.5 768.5h1.5M82.6 768.5h1.5M94.2 759.8h1.5M105.8 762.7h1.5M63.8 769.9h1.5M95.7 784.4h1.5M88.5 783.0h1.5M100.0 767.0h1.5M56.5 740.9h1.5M72.5 785.9h1.5M105.8 768.5h1.5M95.7 772.9h1.5M95.7 756.9h1.5M50.8 772.9h1.5M68.1 772.9h1.5M79.8 759.8h1.5M72.5 784.4h1.5M94.2 762.7h1.5M105.8 746.8h1.5M65.2 759.8h1.5M97.1 761.2h1.5M114.5 748.2h1.5M91.3 764.1h1.5M87.0 743.9h1.5M58.0 774.3h1.5M97.1 759.8h1.5M81.2 746.8h1.5M36.2 774.3h1.5M121.8 743.9h1.5M46.4 781.5h1.5M71.0 781.5h1.5M34.8 756.9h1.5M52.2 771.4h1.5M79.8 756.9h1.5M46.4 746.8h1.5M82.6 764.1h1.5M69.6 772.9h1.5M78.3 778.6h1.5M59.4 742.4h1.5M60.9 772.9h1.5M47.9 755.4h1.5M60.9 777.2h1.5M69.6 765.6h1.5M65.2 765.6h1.5M49.3 754.0h1.5M60.9 785.9h1.5M95.7 755.4h1.5M87.0 765.6h1.5M62.4 761.2h1.5M85.5 775.8h1.5M110.2 765.6h1.5M43.5 785.9h1.5M89.9 772.9h1.5M46.4 768.5h1.5M66.7 771.4h1.5M124.7 762.7h1.5M76.8 762.7h1.5M85.5 771.4h1.5M104.4 778.6h1.5M53.6 733.7h1.5M105.8 774.3h1.5M72.5 764.1h1.5M84.1 784.4h1.5M82.6 778.6h1.5M40.6 769.9h1.5M63.8 771.4h1.5M44.9 739.5h1.5M108.8 780.1h1.5M43.5 748.2h1.5M53.6 768.5h1.5M95.7 769.9h1.5M39.1 771.4h1.5M55.1 745.3h1.5M39.1 777.2h1.5M92.8 762.7h1.5M47.9 762.7h1.5M62.4 746.8h1.5M53.6 769.9h1.5M82.6 765.6h1.5M66.7 768.5h1.5M43.5 771.4h1.5M43.5 768.5h1.5M59.4 777.2h1.5M95.7 777.2h1.5M36.2 768.5h1.5M98.6 756.9h1.5M88.5 752.5h1.5M71.0 754.0h1.5M88.5 761.2h1.5M76.8 768.5h1.5M59.4 771.4h1.5M95.7 762.7h1.5M81.2 759.8h1.5M37.7 758.4h1.5M42.0 761.2h1.5M37.7 739.5h1.5M56.5 759.8h1.5M105.8 767.0h1.5M50.8 756.9h1.5M110.2 787.4h1.5M40.6 761.2h1.5M39.1 781.5h1.5M63.8 775.8h1.5M39.1 783.0h1.5M69.6 759.8h1.5M88.5 762.7h1.5M84.1 765.6h1.5M113.1 765.6h1.5M36.2 778.6h1.5M60.9 767.0h1.5M76.8 783.0h1.5M82.6 780.1h1.5M79.8 778.6h1.5M55.1 765.6h1.5M58.0 781.5h1.5M89.9 777.2h1.5M53.6 761.2h1.5M53.6 765.6h1.5M49.3 784.4h1.5M46.4 777.2h1.5M74.0 784.4h1.5M97.1 768.5h1.5M98.6 749.6h1.5M121.8 765.6h1.5M94.2 756.9h1.5M97.1 783.0h1.5M108.8 777.2h1.5M94.2 751.1h1.5M101.5 772.9h1.5M94.2 764.1h1.5M116.0 752.5h1.5M82.6 761.2h1.5M89.9 780.1h1.5M79.8 755.4h1.5M100.0 754.0h1.5M104.4 767.0h1.5M103.0 780.1h1.5M94.2 765.6h1.5M81.2 774.3h1.5M94.2 761.2h1.5M98.6 769.9h1.5M110.2 764.1h1.5M114.5 742.4h1.5M113.1 769.9h1.5M100.0 758.4h1.5M111.6 756.9h1.5M85.5 764.1h1.5M103.0 778.6h1.5M105.8 771.4h1.5M92.8 767.0h1.5M103.0 762.7h1.5M118.9 758.4h1.5M105.8 765.6h1.5M95.7 764.1h1.5M103.0 769.9h1.5M114.5 761.2h1.5M89.9 784.4h1.5M110.2 768.5h1.5M111.6 767.0h1.5M76.8 771.4h1.5M84.1 762.7h1.5M88.5 769.9h1.5M104.4 768.5h1.5M113.1 767.0h1.5M94.2 780.1h1.5M98.6 775.8h1.5M95.7 751.1h1.5M108.8 761.2h1.5M108.8 765.6h1.5M95.7 768.5h1.5M92.8 778.6h1.5M108.8 768.5h1.5M104.4 772.9h1.5M114.5 752.5h1.5M107.3 777.2h1.5M87.0 774.3h1.5M92.8 764.1h1.5M76.8 758.4h1.5M108.8 759.8h1.5M81.2 765.6h1.5M88.5 777.2h1.5M97.1 755.4h1.5M89.9 762.7h1.5M88.5 771.4h1.5M91.3 774.3h1.5M103.0 781.5h1.5M92.8 759.8h1.5M107.3 768.5h1.5M111.6 761.2h1.5M100.0 762.7h1.5M100.0 769.9h1.5M89.9 767.0h1.5M92.8 772.9h1.5M98.6 772.9h1.5M114.5 765.6h1.5M94.2 771.4h1.5M118.9 764.1h1.5M114.5 778.6h1.5M71.0 758.4h1.5M111.6 768.5h1.5M92.8 745.3h1.5M89.9 764.1h1.5M97.1 775.8h1.5M95.7 761.2h1.5M104.4 762.7h1.5M103.0 771.4h1.5M100.0 772.9h1.5M98.6 764.1h1.5M104.4 783.0h1.5M107.3 767.0h1.5M100.0 775.8h1.5M94.2 774.3h1.5M85.5 778.6h1.5M87.0 758.4h1.5M100.0 774.3h1.5M113.1 745.3h1.5M116.0 769.9h1.5M98.6 771.4h1.5M108.8 751.1h1.5M81.2 767.0h1.5M113.1 771.4h1.5M104.4 774.3h1.5M89.9 765.6h1.5M116.0 756.9h1.5M85.5 769.9h1.5M88.5 772.9h1.5M116.0 743.9h1.5M95.7 748.2h1.5M97.1 771.4h1.5M100.0 780.1h1.5M100.0 751.1h1.5M113.1 759.8h1.5M113.1 752.5h1.5M101.5 755.4h1.5M103.0 767.0h1.5M100.0 755.4h1.5M107.3 787.4h1.5M111.6 746.8h1.5M111.6 774.3h1.5M123.2 775.8h1.5M103.0 777.2h1.5M108.8 781.5h1.5M97.1 767.0h1.5M117.5 759.8h1.5M107.3 781.5h1.5M75.4 772.9h1.5M101.5 764.1h1.5M104.4 769.9h1.5M103.0 765.6h1.5M101.5 767.0h1.5M91.3 756.9h1.5M110.2 756.9h1.5M97.1 762.7h1.5M101.5 769.9h1.5M103.0 772.9h1.5M94.2 758.4h1.5M100.0 778.6h1.5M97.1 784.4h1.5M100.0 784.4h1.5M100.0 759.8h1.5M94.2 755.4h1.5M110.2 769.9h1.5M105.8 756.9h1.5M101.5 768.5h1.5M98.6 759.8h1.5M89.9 755.4h1.5M111.6 769.9h1.5M101.5 783.0h1.5M121.8 758.4h1.5M88.5 765.6h1.5M79.8 764.1h1.5M92.8 758.4h1.5M105.8 759.8h1.5M89.9 774.3h1.5M107.3 778.6h1.5M87.0 767.0h1.5M101.5 774.3h1.5M87.0 755.4h1.5M87.0 781.5h1.5M111.6 748.2h1.5M105.8 751.1h1.5M92.8 787.4h1.5M95.7 780.1h1.5M95.7 767.0h1.5M103.0 751.1h1.5M111.6 777.2h1.5M97.1 765.6h1.5M116.0 775.8h1.5M84.1 774.3h1.5M98.6 762.7h1.5M101.5 771.4h1.5M95.7 774.3h1.5M97.1 778.6h1.5M78.3 736.6h1.5M98.6 777.2h1.5M75.4 758.4h1.5M94.2 783.0h1.5M100.0 761.2h1.5M81.2 755.4h1.5M98.6 768.5h1.5M81.2 771.4h1.5M108.8 772.9h1.5M101.5 777.2h1.5M95.7 775.8h1.5M107.3 772.9h1.5M91.3 759.8h1.5M104.4 780.1h1.5M75.4 781.5h1.5M78.3 748.2h1.5M100.0 783.0h1.5M101.5 758.4h1.5M111.6 751.1h1.5M87.0 768.5h1.5M105.8 755.4h1.5M85.5 774.3h1.5M84.1 739.5h1.5M103.0 775.8h1.5M88.5 778.6h1.5M98.6 735.1h1.5M88.5 749.6h1.5M91.3 754.0h1.5M108.8 767.0h1.5M110.2 758.4h1.5M92.8 785.9h1.5M114.5 775.8h1.5M103.0 764.1h1.5M117.5 761.2h1.5M116.0 754.0h1.5M101.5 751.1h1.5M87.0 778.6h1.5M91.3 746.8h1.5M97.1 781.5h1.5M116.0 783.0h1.5M114.5 768.5h1.5M84.1 787.4h1.5M104.4 754.0h1.5M84.1 772.9h1.5M108.8 774.3h1.5M98.6 751.1h1.5M100.0 777.2h1.5M98.6 774.3h1.5M97.1 780.1h1.5M78.3 726.4h1.5M60.9 732.2h1.5M97.1 738.0h1.5M75.4 740.9h1.5M59.4 748.2h1.5M100.0 732.2h1.5M85.5 726.4h1.5M62.4 738.0h1.5M68.1 740.9h1.5M74.0 739.5h1.5M65.2 739.5h1.5M59.4 749.6h1.5M69.6 745.3h1.5M69.6 736.6h1.5M65.2 727.9h1.5M98.6 739.5h1.5M69.6 733.7h1.5M87.0 735.1h1.5M60.9 733.7h1.5M91.3 739.5h1.5M65.2 732.2h1.5M87.0 739.5h1.5M63.8 742.4h1.5M81.2 730.8h1.5M85.5 743.9h1.5M63.8 727.9h1.5M84.1 735.1h1.5M65.2 735.1h1.5M52.2 740.9h1.5M78.3 739.5h1.5M65.2 736.6h1.5M55.1 748.2h1.5M66.7 730.8h1.5M79.8 746.8h1.5M72.5 735.1h1.5M63.8 732.2h1.5M76.8 727.9h1.5M78.3 720.6h1.5M59.4 727.9h1.5M58.0 733.7h1.5M82.6 732.2h1.5M89.9 735.1h1.5M85.5 736.6h1.5M60.9 730.8h1.5M59.4 736.6h1.5M68.1 732.2h1.5M75.4 746.8h1.5M84.1 738.0h1.5M79.8 726.4h1.5M56.5 743.9h1.5M66.7 738.0h1.5M76.8 739.5h1.5M75.4 733.7h1.5M63.8 745.3h1.5M60.9 727.9h1.5M62.4 742.4h1.5M94.2 738.0h1.5M59.4 740.9h1.5M72.5 745.3h1.5M75.4 742.4h1.5M75.4 739.5h1.5M55.1 736.6h1.5M91.3 745.3h1.5M82.6 739.5h1.5M66.7 739.5h1.5M63.8 743.9h1.5M44.9 746.8h1.5M56.5 730.8h1.5M74.0 749.6h1.5M78.3 735.1h1.5M76.8 732.2h1.5M68.1 742.4h1.5M76.8 749.6h1.5M81.2 735.1h1.5M72.5 730.8h1.5M59.4 735.1h1.5M44.9 730.8h1.5M50.8 735.1h1.5M63.8 729.4h1.5M56.5 733.7h1.5M74.0 740.9h1.5M78.3 738.0h1.5M52.2 732.2h1.5M100.0 736.6h1.5M92.8 742.4h1.5M92.8 735.1h1.5M82.6 735.1h1.5M52.2 729.4h1.5M75.4 726.4h1.5M74.0 730.8h1.5M74.0 727.9h1.5M46.4 727.9h1.5M69.6 726.4h1.5M59.4 746.8h1.5M89.9 739.5h1.5M65.2 745.3h1.5M60.9 720.6h1.5M68.1 739.5h1.5M81.2 729.4h1.5M88.5 732.2h1.5M78.3 742.4h1.5M71.0 743.9h1.5M105.8 736.6h1.5M91.3 733.7h1.5M53.6 743.9h1.5M69.6 730.8h1.5M60.9 738.0h1.5M82.6 746.8h1.5M46.4 742.4h1.5M62.4 732.2h1.5M72.5 743.9h1.5M36.2 738.0h1.5M62.4 729.4h1.5M49.3 740.9h1.5M39.1 726.4h1.5M59.4 733.7h1.5M94.2 735.1h1.5M62.4 725.0h1.5M58.0 735.1h1.5M85.5 738.0h1.5M50.8 740.9h1.5M104.4 735.1h1.5M123.2 722.1h1.5M111.6 738.0h1.5M97.1 730.8h1.5M100.0 742.4h1.5M105.8 727.9h1.5M108.8 738.0h1.5M95.7 736.6h1.5M74.0 719.2h1.5M84.1 742.4h1.5M95.7 730.8h1.5M94.2 736.6h1.5M91.3 717.8h1.5M105.8 730.8h1.5M110.2 713.4h1.5M101.5 725.0h1.5M98.6 726.4h1.5M95.7 725.0h1.5M111.6 714.9h1.5M81.2 732.2h1.5M123.2 723.5h1.5M89.9 720.6h1.5M104.4 732.2h1.5M94.2 722.1h1.5M107.3 751.1h1.5M95.7 740.9h1.5M92.8 730.8h1.5M120.3 729.4h1.5M107.3 725.0h1.5M121.8 719.2h1.5M107.3 727.9h1.5M103.0 733.7h1.5M116.0 738.0h1.5M113.1 733.7h1.5M118.9 733.7h1.5M110.2 727.9h1.5M92.8 746.8h1.5M126.1 719.2h1.5M78.3 713.4h1.5M124.7 764.1h1.5M126.1 771.4h1.5M111.6 733.7h1.5M97.1 710.5h1.5M68.1 781.5h1.5M124.7 714.9h1.5M92.8 752.5h1.5M101.5 785.9h1.5M82.6 751.1h1.5M105.8 720.6h1.5M40.6 771.4h1.5M108.8 717.8h1.5M121.8 749.6h1.5M114.5 704.7h1.5M97.1 733.7h1.5M56.5 762.7h1.5M65.2 720.6h1.5M84.1 725.0h1.5" stroke="#000" stroke-width="1.5"/>
<path d="M40.6 767.0h1.5M75.4 783.0h1.5M43.5 775.8h1.5M47.9 745.3h1.5M34.8 784.4h1.5M53.6 772.9h1.5M76.8 769.9h1.5M44.9 762.7h1.5M39.1 775.8h1.5M47.9 775.8h1.5M91.3 774.3h1.5M53.6 783.0h1.5M60.9 787.4h1.5M34.8 778.6h1.5M37.7 777.2h1.5M98.6 787.4h1.5M40.6 774.3h1.5M63.8 761.2h1.5M59.4 758.4h1.5M72.5 780.1h1.5M52.2 777.2h1.5M97.1 768.5h1.5" stroke="#fff" stroke-width="1.5"/>
<rect x="33" y="694.25" width="95.7" height="95.25" stroke-width="1.4"/>
<path d="M72 694.25L72 789.5" stroke-width="2.2"/>
<path d="M33 745.5L128.7 745.5" stroke-width="2.4"/>
<path d="M145.0 755.4h1.5M153.7 748.2h1.5M162.4 759.8h1.5M159.5 764.1h1.5M152.2 749.6h1.5M159.5 735.1h1.5M155.2 754.0h1.5M150.8 754.0h1.5M162.4 748.2h1.5M159.5 752.5h1.5M165.3 756.9h1.5M160.9 754.0h1.5M142.1 759.8h1.5M156.6 754.0h1.5M152.2 742.4h1.5M165.3 765.6h1.5M166.8 740.9h1.5M159.5 745.3h1.5M155.2 749.6h1.5M152.2 748.2h1.5M153.7 758.4h1.5M166.8 759.8h1.5M156.6 752.5h1.5M155.2 752.5h1.5M152.2 751.1h1.5M160.9 751.1h1.5M150.8 752.5h1.5M155.2 758.4h1.5M155.2 746.8h1.5M159.5 748.2h1.5M160.9 758.4h1.5M159.5 755.4h1.5M147.9 751.1h1.5M156.6 756.9h1.5M149.3 752.5h1.5M146.4 754.0h1.5M166.8 758.4h1.5M162.4 749.6h1.5M152.2 746.8h1.5M163.8 743.9h1.5M145.0 732.2h1.5M169.7 749.6h1.5M160.9 756.9h1.5M160.9 761.2h1.5M153.7 752.5h1.5M162.4 756.9h1.5M150.8 748.2h1.5M146.4 755.4h1.5M152.2 755.4h1.5M156.6 751.1h1.5M147.9 748.2h1.5M162.4 758.4h1.5M146.4 748.2h1.5M165.3 758.4h1.5M155.2 759.8h1.5M165.3 762.7h1.5M147.9 743.9h1.5M152.2 752.5h1.5M153.7 754.0h1.5M165.3 759.8h1.5M162.4 752.5h1.5M166.8 755.4h1.5M158.0 752.5h1.5M145.0 767.0h1.5M156.6 758.4h1.5M171.1 751.1h1.5M149.3 759.8h1.5M158.0 746.8h1.5M149.3 736.6h1.5M149.3 755.4h1.5M169.7 755.4h1.5M160.9 752.5h1.5M162.4 762.7h1.5M160.9 746.8h1.5M158.0 759.8h1.5M152.2 754.0h1.5M165.3 746.8h1.5M149.3 742.4h1.5M162.4 751.1h1.5M153.7 739.5h1.5M149.3 754.0h1.5M158.0 743.9h1.5M163.8 751.1h1.5M162.4 745.3h1.5M143.5 748.2h1.5M160.9 755.4h1.5M143.5 754.0h1.5M160.9 764.1h1.5M143.5 751.1h1.5M153.7 746.8h1.5M158.0 758.4h1.5M156.6 765.6h1.5M143.5 759.8h1.5M150.8 738.0h1.5M158.0 756.9h1.5M168.2 748.2h1.5M156.6 759.8h1.5M159.5 767.0h1.5M149.3 756.9h1.5M163.8 745.3h1.5M160.9 740.9h1.5M142.1 749.6h1.5M160.9 742.4h1.5M158.0 761.2h1.5M146.4 756.9h1.5M150.8 756.9h1.5M156.6 742.4h1.5M149.3 761.2h1.5M155.2 761.2h1.5M152.2 759.8h1.5M166.8 745.3h1.5M155.2 756.9h1.5M168.2 761.2h1.5M156.6 740.9h1.5M160.9 749.6h1.5M158.0 755.4h1.5M146.4 759.8h1.5M146.4 749.6h1.5M156.6 755.4h1.5M149.3 751.1h1.5M150.8 733.7h1.5M156.6 748.2h1.5M150.8 755.4h1.5M168.2 739.5h1.5M150.8 764.1h1.5M147.9 754.0h1.5M166.8 752.5h1.5M166.8 764.1h1.5M153.7 745.3h1.5M159.5 762.7h1.5M159.5 758.4h1.5M165.3 751.1h1.5M146.4 752.5h1.5M150.8 745.3h1.5M143.5 742.4h1.5M153.7 761.2h1.5M163.8 755.4h1.5M147.9 761.2h1.5M147.9 752.5h1.5M150.8 742.4h1.5M158.0 751.1h1.5M156.6 745.3h1.5M155.2 755.4h1.5M165.3 745.3h1.5M159.5 754.0h1.5M143.5 752.5h1.5M155.2 745.3h1.5M146.4 743.9h1.5M155.2 748.2h1.5M149.3 748.2h1.5M168.2 754.0h1.5M150.8 769.9h1.5M153.7 756.9h1.5M155.2 762.7h1.5M152.2 743.9h1.5M143.5 755.4h1.5M159.5 756.9h1.5M169.7 754.0h1.5M160.9 748.2h1.5M160.9 745.3h1.5M168.2 746.8h1.5M142.1 761.2h1.5M162.4 754.0h1.5M159.5 738.0h1.5M165.3 748.2h1.5M166.8 748.2h1.5M149.3 743.9h1.5M158.0 745.3h1.5M152.2 761.2h1.5M153.7 743.9h1.5M159.5 742.4h1.5M153.7 755.4h1.5M158.0 749.6h1.5M162.4 761.2h1.5M147.9 756.9h1.5M160.9 735.1h1.5M152.2 740.9h1.5M150.8 739.5h1.5M158.0 748.2h1.5M162.4 764.1h1.5M140.7 746.8h1.5M166.8 762.7h1.5M146.4 751.1h1.5M158.0 742.4h1.5M149.3 767.0h1.5M145.0 754.0h1.5M153.7 742.4h1.5M168.2 755.4h1.5M143.5 762.7h1.5M149.3 764.1h1.5M146.4 746.8h1.5M143.5 733.7h1.5M156.6 739.5h1.5M160.9 762.7h1.5M149.3 762.7h1.5M150.8 740.9h1.5M160.9 765.6h1.5M159.5 749.6h1.5M163.8 759.8h1.5M162.4 738.0h1.5M153.7 751.1h1.5M159.5 759.8h1.5M147.9 740.9h1.5M163.8 762.7h1.5M156.6 768.5h1.5M149.3 758.4h1.5M145.0 756.9h1.5M150.8 759.8h1.5M153.7 764.1h1.5M156.6 743.9h1.5M145.0 748.2h1.5M158.0 754.0h1.5M150.8 761.2h1.5M150.8 749.6h1.5M163.8 749.6h1.5M155.2 751.1h1.5M174.0 759.8h1.5M166.8 754.0h1.5M140.7 755.4h1.5M166.8 749.6h1.5M163.8 758.4h1.5M156.6 746.8h1.5M145.0 746.8h1.5M163.8 774.3h1.5M158.0 767.0h1.5M166.8 761.2h1.5M158.0 764.1h1.5M147.9 749.6h1.5M152.2 739.5h1.5M155.2 765.6h1.5M163.8 754.0h1.5M165.3 755.4h1.5M165.3 754.0h1.5M159.5 778.6h1.5M146.4 771.4h1.5M181.2 769.9h1.5M160.9 733.7h1.5M147.9 732.2h1.5M162.4 769.9h1.5M165.3 787.4h1.5M156.6 775.8h1.5M156.6 762.7h1.5M147.9 746.8h1.5M160.9 768.5h1.5M159.5 769.9h1.5M175.4 755.4h1.5M162.4 783.0h1.5M149.3 739.5h1.5M169.7 751.1h1.5M155.2 740.9h1.5M179.8 730.8h1.5M156.6 767.0h1.5M160.9 759.8h1.5M153.7 771.4h1.5M162.4 777.2h1.5M158.0 730.8h1.5M162.4 735.1h1.5M150.8 774.3h1.5M175.4 777.2h1.5M142.1 787.4h1.5M155.2 738.0h1.5M163.8 725.0h1.5M160.9 767.0h1.5M147.9 768.5h1.5M142.1 748.2h1.5M188.5 758.4h1.5M153.7 725.0h1.5M147.9 778.6h1.5M147.9 767.0h1.5M171.1 761.2h1.5M159.5 746.8h1.5M143.5 740.9h1.5M156.6 733.7h1.5M155.2 764.1h1.5M145.0 775.8h1.5M179.8 746.8h1.5M163.8 777.2h1.5M172.5 764.1h1.5M158.0 765.6h1.5M159.5 743.9h1.5M168.2 756.9h1.5M149.3 775.8h1.5M146.4 739.5h1.5M159.5 751.1h1.5M162.4 771.4h1.5M152.2 738.0h1.5M145.0 778.6h1.5M169.7 761.2h1.5M165.3 769.9h1.5M168.2 736.6h1.5M162.4 740.9h1.5M158.0 775.8h1.5M159.5 740.9h1.5M150.8 772.9h1.5M145.0 765.6h1.5M169.7 758.4h1.5M140.7 778.6h1.5M149.3 749.6h1.5M169.7 756.9h1.5M150.8 732.2h1.5M143.5 764.1h1.5M158.0 729.4h1.5M166.8 765.6h1.5M163.8 780.1h1.5M153.7 749.6h1.5M146.4 769.9h1.5M172.5 733.7h1.5M168.2 752.5h1.5M155.2 775.8h1.5M150.8 762.7h1.5M166.8 735.1h1.5M145.0 761.2h1.5M171.1 775.8h1.5M145.0 730.8h1.5M156.6 738.0h1.5M149.3 777.2h1.5M169.7 771.4h1.5M163.8 746.8h1.5M158.0 769.9h1.5M165.3 736.6h1.5M165.3 780.1h1.5M160.9 736.6h1.5M181.2 756.9h1.5M146.4 780.1h1.5M171.1 735.1h1.5M155.2 735.1h1.5M169.7 726.4h1.5M178.3 742.4h1.5M145.0 785.9h1.5M163.8 761.2h1.5M166.8 743.9h1.5M172.5 739.5h1.5M140.7 765.6h1.5M184.2 764.1h1.5M143.5 758.4h1.5M172.5 743.9h1.5M153.7 732.2h1.5M147.9 762.7h1.5M165.3 775.8h1.5M150.8 726.4h1.5M153.7 765.6h1.5M155.2 733.7h1.5M171.1 754.0h1.5M146.4 745.3h1.5M146.4 758.4h1.5M153.7 768.5h1.5M143.5 756.9h1.5M140.7 751.1h1.5M172.5 755.4h1.5M166.8 756.9h1.5M145.0 745.3h1.5M176.9 768.5h1.5M149.3 772.9h1.5M142.1 767.0h1.5M147.9 755.4h1.5M147.9 774.3h1.5M171.1 752.5h1.5M174.0 762.7h1.5M146.4 772.9h1.5M158.0 778.6h1.5M140.7 756.9h1.5M155.2 777.2h1.5M152.2 772.9h1.5M159.5 771.4h1.5M175.4 740.9h1.5M159.5 781.5h1.5M162.4 729.4h1.5M165.3 735.1h1.5M142.1 754.0h1.5M152.2 774.3h1.5M175.4 764.1h1.5M169.7 752.5h1.5M159.5 772.9h1.5M149.3 735.1h1.5M147.9 738.0h1.5M142.1 778.6h1.5M165.3 719.2h1.5M187.0 759.8h1.5M160.9 774.3h1.5M156.6 735.1h1.5M163.8 740.9h1.5M162.4 733.7h1.5M178.3 775.8h1.5M155.2 771.4h1.5M168.2 749.6h1.5M174.0 765.6h1.5M163.8 764.1h1.5M178.3 771.4h1.5M174.0 740.9h1.5M152.2 727.9h1.5M158.0 727.9h1.5M187.0 726.4h1.5M155.2 726.4h1.5M153.7 714.9h1.5M171.1 727.9h1.5M162.4 727.9h1.5M149.3 711.9h1.5M149.3 725.0h1.5M159.5 726.4h1.5M153.7 729.4h1.5M160.9 720.6h1.5M146.4 716.3h1.5M155.2 729.4h1.5M152.2 726.4h1.5M159.5 730.8h1.5M179.8 732.2h1.5M165.3 723.5h1.5M152.2 735.1h1.5M150.8 722.1h1.5M140.7 730.8h1.5M147.9 716.3h1.5M166.8 716.3h1.5M143.5 703.2h1.5M160.9 738.0h1.5M174.0 745.3h1.5M152.2 720.6h1.5M155.2 720.6h1.5M140.7 727.9h1.5M159.5 720.6h1.5M158.0 714.9h1.5M143.5 714.9h1.5M147.9 735.1h1.5M146.4 719.2h1.5M181.2 725.0h1.5M153.7 719.2h1.5M175.4 733.7h1.5M160.9 743.9h1.5M145.0 711.9h1.5M171.1 732.2h1.5M143.5 730.8h1.5M169.7 736.6h1.5M153.7 723.5h1.5M153.7 735.1h1.5M153.7 726.4h1.5M160.9 726.4h1.5M158.0 706.1h1.5M149.3 719.2h1.5M158.0 719.2h1.5M153.7 738.0h1.5M169.7 732.2h1.5M171.1 738.0h1.5M145.0 751.1h1.5M152.2 725.0h1.5M178.3 727.9h1.5M175.4 719.2h1.5M160.9 714.9h1.5M163.8 742.4h1.5M166.8 723.5h1.5M175.4 713.4h1.5M156.6 717.8h1.5M156.6 732.2h1.5M166.8 713.4h1.5M142.1 726.4h1.5M145.0 735.1h1.5M147.9 725.0h1.5M152.2 732.2h1.5M160.9 729.4h1.5M158.0 722.1h1.5M155.2 739.5h1.5M149.3 729.4h1.5M150.8 714.9h1.5M168.2 725.0h1.5M200.1 727.9h1.5M210.2 720.6h1.5M207.3 719.2h1.5M195.8 723.5h1.5M192.8 725.0h1.5M203.0 727.9h1.5M200.1 735.1h1.5M198.7 725.0h1.5M204.4 719.2h1.5M204.4 713.4h1.5M218.9 714.9h1.5M211.7 713.4h1.5M221.8 711.9h1.5M195.8 727.9h1.5M220.4 707.6h1.5M184.2 735.1h1.5M210.2 713.4h1.5M200.1 726.4h1.5M200.1 730.8h1.5M195.8 725.0h1.5M218.9 725.0h1.5M207.3 723.5h1.5M200.1 723.5h1.5M197.2 726.4h1.5M216.0 714.9h1.5M189.9 726.4h1.5M230.5 716.3h1.5M205.9 720.6h1.5M184.2 725.0h1.5M223.3 707.6h1.5M227.7 710.5h1.5M230.5 727.9h1.5M223.3 716.3h1.5M211.7 717.8h1.5M201.5 717.8h1.5M201.5 726.4h1.5M195.8 726.4h1.5M188.5 726.4h1.5M189.9 729.4h1.5M191.4 727.9h1.5M179.8 729.4h1.5M205.9 717.8h1.5M210.2 723.5h1.5M220.4 713.4h1.5M205.9 723.5h1.5M207.3 714.9h1.5M230.5 726.4h1.5M205.9 709.0h1.5M227.7 714.9h1.5M194.3 762.7h1.5M181.2 754.0h1.5M192.8 736.6h1.5M175.4 759.8h1.5M201.5 745.3h1.5M192.8 764.1h1.5M184.2 743.9h1.5M192.8 754.0h1.5M189.9 755.4h1.5M189.9 759.8h1.5M187.0 756.9h1.5M187.0 749.6h1.5M192.8 751.1h1.5M194.3 756.9h1.5M198.7 761.2h1.5M176.9 756.9h1.5M195.8 758.4h1.5M191.4 765.6h1.5M195.8 746.8h1.5M191.4 746.8h1.5M195.8 761.2h1.5M198.7 758.4h1.5M191.4 764.1h1.5M184.2 769.9h1.5M194.3 758.4h1.5M195.8 762.7h1.5M189.9 751.1h1.5M197.2 764.1h1.5M192.8 752.5h1.5M191.4 749.6h1.5M207.3 751.1h1.5M197.2 769.9h1.5M185.6 752.5h1.5M182.7 758.4h1.5M189.9 756.9h1.5M191.4 752.5h1.5M191.4 756.9h1.5M185.6 754.0h1.5M187.0 746.8h1.5M191.4 742.4h1.5M207.3 780.1h1.5M217.5 764.1h1.5M208.8 780.1h1.5M203.0 771.4h1.5M210.2 758.4h1.5M208.8 764.1h1.5M201.5 772.9h1.5M213.2 758.4h1.5M201.5 765.6h1.5M191.4 771.4h1.5M201.5 761.2h1.5M217.5 767.0h1.5M189.9 767.0h1.5M224.8 765.6h1.5M211.7 772.9h1.5M203.0 769.9h1.5M198.7 774.3h1.5M192.8 784.4h1.5M207.3 752.5h1.5M210.2 759.8h1.5M207.3 764.1h1.5M201.5 752.5h1.5M187.0 762.7h1.5M189.9 769.9h1.5M185.6 769.9h1.5M211.7 761.2h1.5M191.4 733.7h1.5M142.1 777.2h1.5M145.0 714.9h1.5M208.8 738.0h1.5M168.2 742.4h1.5M226.2 756.9h1.5M174.0 783.0h1.5M163.8 709.0h1.5M207.3 769.9h1.5M213.2 735.1h1.5M203.0 719.2h1.5M165.3 783.0h1.5M218.9 783.0h1.5M191.4 762.7h1.5M174.0 735.1h1.5M226.2 713.4h1.5M178.3 780.1h1.5M224.8 771.4h1.5" stroke="#000" stroke-width="1.5"/>
<rect x="139.25" y="694.25" width="95.25" height="95.25" stroke-width="1.4"/>
<path d="M178 694.25L178 789.5" stroke-width="2.2"/>
<path d="M139.25 745.5L234.5 745.5" stroke-width="2.6"/>
<path d="M59.4 858.4h1.5M53.6 858.4h1.5M52.2 862.8h1.5M47.9 865.6h1.5M42.0 870.0h1.5M44.9 846.8h1.5M62.4 859.9h1.5M49.3 870.0h1.5M53.6 878.7h1.5M58.0 851.1h1.5M49.3 856.9h1.5M50.8 877.2h1.5M79.8 877.2h1.5M58.0 867.1h1.5M55.1 843.9h1.5M66.7 880.1h1.5M49.3 862.8h1.5M46.4 861.3h1.5M44.9 854.0h1.5M65.2 846.8h1.5M63.8 852.6h1.5M50.8 845.4h1.5M59.4 854.0h1.5M78.3 855.5h1.5M56.5 868.5h1.5M44.9 855.5h1.5M43.5 867.1h1.5M56.5 871.4h1.5M40.6 855.5h1.5M52.2 859.9h1.5M56.5 872.9h1.5M55.1 856.9h1.5M53.6 856.9h1.5M47.9 878.7h1.5M60.9 878.7h1.5M42.0 865.6h1.5M60.9 868.5h1.5M42.0 864.2h1.5M62.4 858.4h1.5M60.9 858.4h1.5M39.1 855.5h1.5M55.1 859.9h1.5M62.4 861.3h1.5M58.0 858.4h1.5M66.7 862.8h1.5M58.0 881.6h1.5M58.0 849.7h1.5M40.6 851.1h1.5M52.2 849.7h1.5M63.8 867.1h1.5M50.8 872.9h1.5M47.9 852.6h1.5M62.4 862.8h1.5M52.2 871.4h1.5M52.2 868.5h1.5M68.1 859.9h1.5M71.0 852.6h1.5M59.4 874.4h1.5M50.8 867.1h1.5M52.2 875.8h1.5M56.5 865.6h1.5M63.8 849.7h1.5M60.9 864.2h1.5M59.4 862.8h1.5M44.9 858.4h1.5M52.2 851.1h1.5M71.0 861.3h1.5M55.1 864.2h1.5M60.9 849.7h1.5M37.7 875.8h1.5M46.4 855.5h1.5M65.2 865.6h1.5M46.4 868.5h1.5M43.5 877.2h1.5M50.8 865.6h1.5M44.9 862.8h1.5M74.0 845.4h1.5M49.3 865.6h1.5M52.2 867.1h1.5M65.2 854.0h1.5M47.9 874.4h1.5M72.5 841.0h1.5M59.4 871.4h1.5M47.9 855.5h1.5M43.5 861.3h1.5M43.5 868.5h1.5M47.9 867.1h1.5M39.1 870.0h1.5M60.9 871.4h1.5M56.5 883.0h1.5M63.8 862.8h1.5M69.6 859.9h1.5M55.1 877.2h1.5M56.5 864.2h1.5M74.0 859.9h1.5M40.6 858.4h1.5M40.6 852.6h1.5M43.5 871.4h1.5M55.1 868.5h1.5M53.6 871.4h1.5M50.8 874.4h1.5M62.4 864.2h1.5M40.6 854.0h1.5M56.5 854.0h1.5M52.2 861.3h1.5M66.7 856.9h1.5M55.1 858.4h1.5M46.4 867.1h1.5M63.8 851.1h1.5M68.1 881.6h1.5M55.1 867.1h1.5M43.5 859.9h1.5M56.5 862.8h1.5M66.7 855.5h1.5M53.6 861.3h1.5M36.2 884.5h1.5M60.9 854.0h1.5M58.0 846.8h1.5M76.8 858.4h1.5M40.6 880.1h1.5M53.6 867.1h1.5M74.0 846.8h1.5M56.5 856.9h1.5M50.8 862.8h1.5M36.2 868.5h1.5M56.5 867.1h1.5M47.9 868.5h1.5M66.7 868.5h1.5M40.6 864.2h1.5M43.5 878.7h1.5M56.5 852.6h1.5M39.1 874.4h1.5M44.9 867.1h1.5M50.8 861.3h1.5M69.6 855.5h1.5M59.4 867.1h1.5M47.9 854.0h1.5M44.9 868.5h1.5M55.1 871.4h1.5M58.0 864.2h1.5M53.6 865.6h1.5M46.4 871.4h1.5M69.6 862.8h1.5M59.4 852.6h1.5M55.1 851.1h1.5M63.8 872.9h1.5M46.4 870.0h1.5M59.4 875.8h1.5M52.2 864.2h1.5M59.4 861.3h1.5M74.0 843.9h1.5M37.7 858.4h1.5M60.9 862.8h1.5M69.6 870.0h1.5M47.9 856.9h1.5M43.5 858.4h1.5M53.6 872.9h1.5M69.6 864.2h1.5M42.0 867.1h1.5M46.4 849.7h1.5M46.4 875.8h1.5M43.5 874.4h1.5M40.6 862.8h1.5M59.4 859.9h1.5M69.6 868.5h1.5M65.2 874.4h1.5M52.2 855.5h1.5M44.9 864.2h1.5M47.9 884.5h1.5M46.4 856.9h1.5M43.5 854.0h1.5M37.7 855.5h1.5M36.2 867.1h1.5M53.6 862.8h1.5M60.9 872.9h1.5M55.1 855.5h1.5M36.2 865.6h1.5M42.0 858.4h1.5M53.6 855.5h1.5M79.8 865.6h1.5M46.4 858.4h1.5M63.8 880.1h1.5M55.1 852.6h1.5M50.8 864.2h1.5M43.5 864.2h1.5M58.0 872.9h1.5M74.0 858.4h1.5M58.0 856.9h1.5M55.1 872.9h1.5M60.9 861.3h1.5M71.0 870.0h1.5M65.2 864.2h1.5M66.7 861.3h1.5M53.6 849.7h1.5M63.8 868.5h1.5M47.9 864.2h1.5M59.4 868.5h1.5M50.8 875.8h1.5M47.9 858.4h1.5M68.1 871.4h1.5M50.8 859.9h1.5M62.4 855.5h1.5M50.8 843.9h1.5M74.0 855.5h1.5M62.4 854.0h1.5M63.8 864.2h1.5M47.9 859.9h1.5M69.6 849.7h1.5M58.0 875.8h1.5M47.9 848.2h1.5M34.8 862.8h1.5M47.9 880.1h1.5M52.2 872.9h1.5M44.9 849.7h1.5M40.6 871.4h1.5M59.4 848.2h1.5M52.2 880.1h1.5M46.4 874.4h1.5M49.3 871.4h1.5M49.3 858.4h1.5M65.2 858.4h1.5M75.4 852.6h1.5M46.4 842.4h1.5M60.9 874.4h1.5M65.2 861.3h1.5M36.2 827.9h1.5M50.8 846.8h1.5M60.9 856.9h1.5M59.4 855.5h1.5M58.0 878.7h1.5M46.4 864.2h1.5M62.4 852.6h1.5M71.0 865.6h1.5M58.0 859.9h1.5M72.5 868.5h1.5M68.1 851.1h1.5M37.7 868.5h1.5M65.2 875.8h1.5M59.4 849.7h1.5M43.5 849.7h1.5M39.1 864.2h1.5M40.6 865.6h1.5M50.8 870.0h1.5M47.9 871.4h1.5M47.9 870.0h1.5M53.6 842.4h1.5M43.5 845.4h1.5M40.6 859.9h1.5M60.9 867.1h1.5M40.6 867.1h1.5M42.0 872.9h1.5M47.9 872.9h1.5M56.5 858.4h1.5M47.9 862.8h1.5M56.5 849.7h1.5M58.0 888.9h1.5M58.0 877.2h1.5M50.8 878.7h1.5M62.4 865.6h1.5M58.0 854.0h1.5M53.6 854.0h1.5M56.5 870.0h1.5M36.2 864.2h1.5M72.5 867.1h1.5M65.2 855.5h1.5M65.2 867.1h1.5M58.0 871.4h1.5M49.3 854.0h1.5M68.1 835.2h1.5M58.0 883.0h1.5M56.5 841.0h1.5M44.9 870.0h1.5M53.6 875.8h1.5M56.5 861.3h1.5M58.0 870.0h1.5M60.9 865.6h1.5M72.5 870.0h1.5M66.7 858.4h1.5M52.2 852.6h1.5M50.8 854.0h1.5M39.1 861.3h1.5M60.9 843.9h1.5M42.0 851.1h1.5M58.0 868.5h1.5M58.0 861.3h1.5M65.2 843.9h1.5M39.1 871.4h1.5M52.2 865.6h1.5M62.4 878.7h1.5M43.5 862.8h1.5M63.8 871.4h1.5M63.8 855.5h1.5M50.8 871.4h1.5M55.1 854.0h1.5M47.9 883.0h1.5M42.0 859.9h1.5M37.7 862.8h1.5M44.9 872.9h1.5M53.6 877.2h1.5M58.0 852.6h1.5M53.6 864.2h1.5M56.5 859.9h1.5M82.6 861.3h1.5M52.2 881.6h1.5M69.6 871.4h1.5M63.8 878.7h1.5M49.3 855.5h1.5M55.1 884.5h1.5M44.9 874.4h1.5M63.8 861.3h1.5M53.6 868.5h1.5M68.1 856.9h1.5M49.3 868.5h1.5M50.8 868.5h1.5M52.2 878.7h1.5M50.8 856.9h1.5M47.9 851.1h1.5M65.2 849.7h1.5M59.4 865.6h1.5M68.1 849.7h1.5M40.6 856.9h1.5M76.8 874.4h1.5M59.4 864.2h1.5M46.4 854.0h1.5M58.0 855.5h1.5M66.7 864.2h1.5M42.0 868.5h1.5M79.8 874.4h1.5M39.1 872.9h1.5M42.0 843.9h1.5M60.9 859.9h1.5M60.9 881.6h1.5M69.6 865.6h1.5M37.7 861.3h1.5M34.8 871.4h1.5M69.6 856.9h1.5M49.3 867.1h1.5M55.1 875.8h1.5M55.1 883.0h1.5M63.8 856.9h1.5M69.6 858.4h1.5M68.1 845.4h1.5M36.2 871.4h1.5M55.1 848.2h1.5M49.3 880.1h1.5M49.3 874.4h1.5M68.1 852.6h1.5M76.8 868.5h1.5M63.8 854.0h1.5M66.7 865.6h1.5M36.2 870.0h1.5M42.0 871.4h1.5M52.2 848.2h1.5M62.4 874.4h1.5M34.8 868.5h1.5M65.2 856.9h1.5M40.6 875.8h1.5M71.0 885.9h1.5M46.4 865.6h1.5M66.7 871.4h1.5M71.0 855.5h1.5M55.1 861.3h1.5M55.1 870.0h1.5M42.0 841.0h1.5M75.4 864.2h1.5M60.9 851.1h1.5M59.4 845.4h1.5M43.5 865.6h1.5M55.1 874.4h1.5M66.7 852.6h1.5M52.2 856.9h1.5M46.4 852.6h1.5M58.0 841.0h1.5M72.5 856.9h1.5M82.6 859.9h1.5M79.8 868.5h1.5M91.3 851.1h1.5M74.0 880.1h1.5M92.8 864.2h1.5M72.5 881.6h1.5M78.3 864.2h1.5M91.3 856.9h1.5M88.5 858.4h1.5M69.6 851.1h1.5M82.6 858.4h1.5M91.3 877.2h1.5M85.5 881.6h1.5M84.1 864.2h1.5M85.5 848.2h1.5M87.0 861.3h1.5M91.3 859.9h1.5M81.2 855.5h1.5M84.1 871.4h1.5M85.5 861.3h1.5M85.5 868.5h1.5M87.0 870.0h1.5M85.5 856.9h1.5M91.3 861.3h1.5M84.1 875.8h1.5M84.1 855.5h1.5M85.5 875.8h1.5M75.4 872.9h1.5M92.8 859.9h1.5M84.1 856.9h1.5M69.6 854.0h1.5M75.4 849.7h1.5M84.1 868.5h1.5M79.8 859.9h1.5M81.2 861.3h1.5M91.3 872.9h1.5M92.8 865.6h1.5M100.0 868.5h1.5M92.8 867.1h1.5M95.7 854.0h1.5M79.8 864.2h1.5M71.0 859.9h1.5M84.1 865.6h1.5M94.2 874.4h1.5M91.3 875.8h1.5M82.6 867.1h1.5M87.0 854.0h1.5M89.9 871.4h1.5M97.1 861.3h1.5M91.3 865.6h1.5M98.6 867.1h1.5M76.8 848.2h1.5M87.0 877.2h1.5M89.9 867.1h1.5M98.6 851.1h1.5M94.2 864.2h1.5M95.7 871.4h1.5M91.3 855.5h1.5M87.0 871.4h1.5M74.0 870.0h1.5M94.2 877.2h1.5M79.8 856.9h1.5M97.1 859.9h1.5M91.3 841.0h1.5M108.8 846.8h1.5M68.1 867.1h1.5M89.9 855.5h1.5M78.3 868.5h1.5M87.0 862.8h1.5M76.8 856.9h1.5M89.9 862.8h1.5M91.3 871.4h1.5M78.3 871.4h1.5M95.7 870.0h1.5M82.6 864.2h1.5M105.8 851.1h1.5M95.7 859.9h1.5M103.0 864.2h1.5M95.7 856.9h1.5M82.6 877.2h1.5M75.4 858.4h1.5M85.5 852.6h1.5M92.8 852.6h1.5M88.5 861.3h1.5M68.1 864.2h1.5M74.0 862.8h1.5M94.2 865.6h1.5M97.1 877.2h1.5M94.2 861.3h1.5M87.0 868.5h1.5M76.8 854.0h1.5M76.8 865.6h1.5M81.2 868.5h1.5M91.3 862.8h1.5M95.7 861.3h1.5M87.0 865.6h1.5M94.2 855.5h1.5M82.6 856.9h1.5M89.9 851.1h1.5M79.8 849.7h1.5M75.4 856.9h1.5M71.0 868.5h1.5M95.7 849.7h1.5M91.3 864.2h1.5M89.9 856.9h1.5M100.0 864.2h1.5M82.6 846.8h1.5M85.5 851.1h1.5M74.0 877.2h1.5M97.1 868.5h1.5M84.1 852.6h1.5M85.5 864.2h1.5M85.5 859.9h1.5M88.5 849.7h1.5M97.1 852.6h1.5M88.5 855.5h1.5M100.0 858.4h1.5M95.7 852.6h1.5M94.2 836.6h1.5M95.7 883.0h1.5M85.5 871.4h1.5M87.0 846.8h1.5M76.8 859.9h1.5M81.2 865.6h1.5M110.2 862.8h1.5M75.4 877.2h1.5M84.1 858.4h1.5M91.3 870.0h1.5M89.9 865.6h1.5M88.5 852.6h1.5M94.2 870.0h1.5M79.8 846.8h1.5M88.5 864.2h1.5M88.5 868.5h1.5M81.2 858.4h1.5M84.1 867.1h1.5M105.8 864.2h1.5M88.5 854.0h1.5M75.4 878.7h1.5M87.0 875.8h1.5M95.7 858.4h1.5M89.9 854.0h1.5M92.8 861.3h1.5M82.6 870.0h1.5M91.3 858.4h1.5M89.9 874.4h1.5M88.5 871.4h1.5M91.3 874.4h1.5M87.0 859.9h1.5M92.8 842.4h1.5M82.6 875.8h1.5M81.2 878.7h1.5M103.0 858.4h1.5M95.7 878.7h1.5M101.5 856.9h1.5M97.1 867.1h1.5M100.0 861.3h1.5M95.7 851.1h1.5M78.3 867.1h1.5M88.5 870.0h1.5M108.8 856.9h1.5M81.2 872.9h1.5M75.4 870.0h1.5M89.9 881.6h1.5M88.5 856.9h1.5M91.3 854.0h1.5M87.0 858.4h1.5M78.3 861.3h1.5M94.2 868.5h1.5M89.9 861.3h1.5M94.2 846.8h1.5M76.8 855.5h1.5M98.6 859.9h1.5M91.3 852.6h1.5M74.0 887.4h1.5M103.0 878.7h1.5M89.9 859.9h1.5M82.6 841.0h1.5M89.9 842.4h1.5M82.6 849.7h1.5M75.4 865.6h1.5M97.1 855.5h1.5M79.8 875.8h1.5M78.3 856.9h1.5M72.5 848.2h1.5M88.5 874.4h1.5M113.1 862.8h1.5M78.3 858.4h1.5M116.0 856.9h1.5M101.5 858.4h1.5M75.4 845.4h1.5M79.8 858.4h1.5M97.1 856.9h1.5M107.3 865.6h1.5M87.0 874.4h1.5M104.4 875.8h1.5M58.0 845.4h1.5M101.5 870.0h1.5M100.0 838.1h1.5M100.0 854.0h1.5M98.6 870.0h1.5M100.0 870.0h1.5M111.6 854.0h1.5M103.0 865.6h1.5M84.1 861.3h1.5M105.8 856.9h1.5M85.5 835.2h1.5M92.8 871.4h1.5M107.3 856.9h1.5M85.5 858.4h1.5M75.4 862.8h1.5M84.1 870.0h1.5M104.4 854.0h1.5M111.6 871.4h1.5M78.3 883.0h1.5M44.9 877.2h1.5M98.6 880.1h1.5M121.8 872.9h1.5M44.9 871.4h1.5M88.5 880.1h1.5M42.0 875.8h1.5M34.8 865.6h1.5M71.0 881.6h1.5M60.9 870.0h1.5M39.1 858.4h1.5M85.5 883.0h1.5M74.0 865.6h1.5M85.5 865.6h1.5M60.9 855.5h1.5M68.1 880.1h1.5M68.1 872.9h1.5M123.2 877.2h1.5M59.4 870.0h1.5M98.6 874.4h1.5M65.2 871.4h1.5M62.4 867.1h1.5M103.0 870.0h1.5M37.7 883.0h1.5M97.1 884.5h1.5M75.4 883.0h1.5M60.9 877.2h1.5M59.4 877.2h1.5M44.9 884.5h1.5M108.8 867.1h1.5M68.1 855.5h1.5M71.0 864.2h1.5M97.1 862.8h1.5M108.8 870.0h1.5M101.5 862.8h1.5M63.8 877.2h1.5M55.1 862.8h1.5M37.7 859.9h1.5M50.8 883.0h1.5M82.6 880.1h1.5M36.2 856.9h1.5M85.5 885.9h1.5M87.0 880.1h1.5M60.9 884.5h1.5M60.9 848.2h1.5M62.4 870.0h1.5M66.7 881.6h1.5M95.7 843.9h1.5M103.0 868.5h1.5M79.8 861.3h1.5M84.1 874.4h1.5M100.0 859.9h1.5M110.2 875.8h1.5M68.1 865.6h1.5M95.7 884.5h1.5M87.0 842.4h1.5M74.0 864.2h1.5M100.0 871.4h1.5M85.5 880.1h1.5M72.5 865.6h1.5M65.2 872.9h1.5M74.0 838.1h1.5M55.1 826.5h1.5M68.1 842.4h1.5M63.8 842.4h1.5M62.4 845.4h1.5M72.5 829.4h1.5M60.9 836.6h1.5M62.4 826.5h1.5M46.4 819.2h1.5M58.0 839.5h1.5M62.4 835.2h1.5M72.5 836.6h1.5M62.4 833.8h1.5M72.5 833.8h1.5M66.7 830.9h1.5M53.6 833.8h1.5M63.8 836.6h1.5M68.1 836.6h1.5M68.1 848.2h1.5M55.1 823.6h1.5M71.0 839.5h1.5M84.1 838.1h1.5M71.0 833.8h1.5M56.5 827.9h1.5M53.6 823.6h1.5M59.4 832.3h1.5M62.4 839.5h1.5M52.2 829.4h1.5M52.2 836.6h1.5M52.2 827.9h1.5M53.6 838.1h1.5M49.3 820.7h1.5M58.0 829.4h1.5M52.2 838.1h1.5M56.5 817.8h1.5M60.9 823.6h1.5M55.1 827.9h1.5M58.0 836.6h1.5M89.9 839.5h1.5M81.2 846.8h1.5M59.4 846.8h1.5M56.5 823.6h1.5M76.8 833.8h1.5M50.8 830.9h1.5M52.2 835.2h1.5M63.8 832.3h1.5M56.5 842.4h1.5M76.8 846.8h1.5M47.9 841.0h1.5M63.8 846.8h1.5M68.1 830.9h1.5M44.9 823.6h1.5M75.4 835.2h1.5M79.8 832.3h1.5M69.6 835.2h1.5M85.5 832.3h1.5M95.7 825.0h1.5M78.3 817.8h1.5M92.8 826.5h1.5M91.3 848.2h1.5M95.7 829.4h1.5M97.1 841.0h1.5M105.8 838.1h1.5M84.1 829.4h1.5M98.6 833.8h1.5M92.8 829.4h1.5M89.9 825.0h1.5M104.4 822.1h1.5M91.3 826.5h1.5M104.4 832.3h1.5M87.0 823.6h1.5M88.5 817.8h1.5M126.1 839.5h1.5M107.3 825.0h1.5M110.2 843.9h1.5M113.1 835.2h1.5M89.9 852.6h1.5M108.8 836.6h1.5M95.7 810.5h1.5M118.9 854.0h1.5M105.8 835.2h1.5M100.0 835.2h1.5M98.6 826.5h1.5M107.3 810.5h1.5M123.2 856.9h1.5M47.9 825.0h1.5M47.9 881.6h1.5M105.8 865.6h1.5M124.7 816.4h1.5M69.6 841.0h1.5M91.3 843.9h1.5M59.4 827.9h1.5M97.1 806.2h1.5M111.6 807.6h1.5" stroke="#000" stroke-width="1.5"/>
<rect x="33" y="796.25" width="95.7" height="94.25" stroke-width="1.4"/>
<path d="M72 796.25L72 890.5" stroke-width="1.6"/>
<path d="M33 848.75L128.7 848.75" stroke-width="2.4"/>
<path d="M159.5 861.3h1.5M156.6 859.9h1.5M142.1 851.1h1.5M149.3 862.8h1.5M158.0 855.5h1.5M153.7 854.0h1.5M150.8 858.4h1.5M160.9 854.0h1.5M142.1 862.8h1.5M146.4 859.9h1.5M143.5 852.6h1.5M158.0 871.4h1.5M169.7 856.9h1.5M156.6 858.4h1.5M156.6 852.6h1.5M152.2 865.6h1.5M150.8 855.5h1.5M145.0 854.0h1.5M163.8 858.4h1.5M147.9 855.5h1.5M147.9 859.9h1.5M155.2 861.3h1.5M150.8 868.5h1.5M159.5 855.5h1.5M156.6 848.2h1.5M146.4 848.2h1.5M152.2 867.1h1.5M158.0 849.7h1.5M142.1 858.4h1.5M166.8 858.4h1.5M171.1 861.3h1.5M171.1 845.4h1.5M160.9 859.9h1.5M166.8 859.9h1.5M158.0 858.4h1.5M166.8 849.7h1.5M150.8 849.7h1.5M160.9 858.4h1.5M152.2 856.9h1.5M146.4 855.5h1.5M153.7 858.4h1.5M142.1 861.3h1.5M153.7 849.7h1.5M153.7 859.9h1.5M155.2 855.5h1.5M147.9 858.4h1.5M152.2 862.8h1.5M140.7 856.9h1.5M142.1 848.2h1.5M156.6 861.3h1.5M152.2 858.4h1.5M153.7 862.8h1.5M149.3 859.9h1.5M156.6 849.7h1.5M163.8 854.0h1.5M160.9 855.5h1.5M160.9 852.6h1.5M140.7 864.2h1.5M150.8 852.6h1.5M153.7 870.0h1.5M147.9 871.4h1.5M149.3 868.5h1.5M159.5 872.9h1.5M155.2 874.4h1.5M169.7 874.4h1.5M159.5 875.8h1.5M163.8 874.4h1.5M152.2 871.4h1.5M150.8 880.1h1.5M150.8 862.8h1.5M155.2 867.1h1.5M158.0 872.9h1.5M153.7 864.2h1.5M155.2 872.9h1.5M153.7 872.9h1.5M153.7 881.6h1.5M142.1 865.6h1.5M165.3 864.2h1.5M160.9 870.0h1.5M156.6 864.2h1.5M153.7 871.4h1.5M158.0 870.0h1.5M145.0 878.7h1.5M155.2 865.6h1.5M149.3 874.4h1.5M152.2 875.8h1.5M146.4 872.9h1.5M159.5 874.4h1.5M149.3 865.6h1.5M147.9 872.9h1.5M140.7 888.9h1.5M153.7 878.7h1.5M153.7 880.1h1.5M153.7 877.2h1.5M146.4 874.4h1.5M153.7 875.8h1.5M140.7 875.8h1.5M168.2 868.5h1.5M165.3 868.5h1.5M156.6 867.1h1.5M150.8 870.0h1.5M149.3 871.4h1.5M163.8 867.1h1.5M158.0 867.1h1.5M155.2 841.0h1.5M166.8 833.8h1.5M152.2 845.4h1.5M145.0 826.5h1.5M166.8 836.6h1.5M165.3 830.9h1.5M166.8 842.4h1.5M169.7 823.6h1.5M149.3 836.6h1.5M165.3 832.3h1.5M142.1 835.2h1.5M158.0 829.4h1.5M169.7 813.4h1.5M159.5 827.9h1.5M165.3 829.4h1.5M176.9 833.8h1.5M153.7 817.8h1.5M156.6 832.3h1.5M175.4 836.6h1.5M160.9 825.0h1.5M160.9 823.6h1.5M143.5 836.6h1.5M153.7 820.7h1.5M171.1 843.9h1.5M163.8 817.8h1.5M149.3 823.6h1.5M160.9 862.8h1.5M168.2 832.3h1.5M149.3 820.7h1.5M150.8 833.8h1.5M156.6 836.6h1.5M163.8 822.1h1.5M175.4 830.9h1.5M155.2 832.3h1.5M171.1 836.6h1.5M171.1 842.4h1.5M162.4 852.6h1.5M158.0 830.9h1.5M171.1 822.1h1.5M162.4 841.0h1.5M149.3 816.4h1.5M143.5 842.4h1.5M185.6 825.0h1.5M145.0 822.1h1.5M175.4 839.5h1.5M166.8 826.5h1.5M165.3 826.5h1.5M145.0 829.4h1.5M163.8 835.2h1.5M153.7 841.0h1.5M142.1 814.9h1.5M158.0 827.9h1.5M165.3 835.2h1.5M174.0 825.0h1.5M145.0 830.9h1.5M156.6 829.4h1.5M176.9 835.2h1.5M172.5 838.1h1.5M162.4 836.6h1.5M213.2 822.1h1.5M200.1 826.5h1.5M204.4 826.5h1.5M188.5 833.8h1.5M218.9 826.5h1.5M210.2 819.2h1.5M204.4 820.7h1.5M210.2 823.6h1.5M208.8 817.8h1.5M194.3 819.2h1.5M220.4 823.6h1.5M207.3 822.1h1.5M191.4 826.5h1.5M204.4 822.1h1.5M216.0 814.9h1.5M208.8 826.5h1.5M214.6 817.8h1.5M182.7 833.8h1.5M220.4 820.7h1.5M204.4 825.0h1.5M217.5 822.1h1.5M210.2 830.9h1.5M207.3 820.7h1.5M224.8 825.0h1.5M220.4 817.8h1.5M203.0 820.7h1.5M205.9 829.4h1.5M216.0 822.1h1.5M210.2 825.0h1.5M205.9 820.7h1.5M201.5 830.9h1.5M185.6 854.0h1.5M195.8 858.4h1.5M189.9 861.3h1.5M191.4 851.1h1.5M198.7 861.3h1.5M203.0 864.2h1.5M188.5 858.4h1.5M187.0 848.2h1.5M197.2 856.9h1.5M191.4 867.1h1.5M185.6 868.5h1.5M189.9 870.0h1.5M200.1 856.9h1.5M204.4 861.3h1.5M194.3 858.4h1.5M191.4 858.4h1.5M189.9 864.2h1.5M197.2 865.6h1.5M200.1 859.9h1.5M197.2 858.4h1.5M195.8 862.8h1.5M194.3 855.5h1.5M184.2 868.5h1.5M187.0 856.9h1.5M194.3 867.1h1.5M181.2 859.9h1.5M214.6 859.9h1.5M162.4 809.1h1.5M168.2 833.8h1.5M187.0 810.5h1.5M198.7 833.8h1.5M230.5 842.4h1.5M216.0 871.4h1.5M149.3 880.1h1.5" stroke="#000" stroke-width="1.5"/>
<rect x="139.25" y="796.25" width="95.25" height="94.95" stroke-width="1.4"/>
<path d="M178 796.25L178 891.2" stroke-width="2.0"/>
<path d="M139.25 848.75L234.5 848.75" stroke-width="2.6"/>
<path d="M93.8 1050.3L205.5 1050.3" stroke-width="1.6"/>
<path d="M319.5 1050.3L431.3 1050.3" stroke-width="1.6"/>
<path d="M52.2 1077.8999999999999V1256.4" stroke-width="2.3"/>
<path d="M51.1 1256.4H230.6" stroke-width="2"/>
<path d="M52.2 1256.4h-5.5M52.2 1197.2h-5.5M52.2 1138.0h-5.5M52.2 1078.8h-5.5" stroke-width="1.8"/>
<path d="M278.2 1077.8999999999999V1256.4" stroke-width="2.3"/>
<path d="M277.09999999999997 1256.4H456.3" stroke-width="2"/>
<path d="M278.2 1256.4h-5.5M278.2 1197.2h-5.5M278.2 1138.0h-5.5M278.2 1078.8h-5.5" stroke-width="1.8"/>
<path d="M111 1256v6M200.2 1256v6M337.4 1256v6M425.5 1256v6" stroke-width="1.8"/>
<path d="M120 1142.6V1125.2H159.1V1142.6" stroke-width="1.3"/>
<path d="M339.9 1142.6V1125.2H378.9V1142.6" stroke-width="1.3"/>
<path d="M70 1252.7L129 1252.7" stroke-width="1.5"/>
<rect x="91" y="1250.7" width="11.6" height="11.6" fill="#000" stroke="none"/>
<path d="M157 1214.7L214.7 1214.7" stroke-width="3"/>
<path d="M185.3 1214.7L185.3 1221" stroke-width="1.5"/>
<path d="M179.2 1165.3L191.6 1177.4M191.6 1165.3L179.2 1177.4" stroke-width="1.8"/>
<path d="M185.3 1219.4L190.9 1225L185.3 1230.6L179.70000000000002 1225Z" fill="#000" stroke="none"/>
<path d="M179.70000000000002 1228.6H190.9L185.3 1235.4Z" fill="#000" stroke="none"/>
<rect x="179.9" y="1229" width="11.1" height="10.4" stroke-width="1.5"/>
<path d="M185.3 1243.6L191.10000000000002 1253.6H179.5Z" fill="#000" stroke="none"/>
<path d="M293.9 1244L351.7 1244" stroke-width="3"/>
<path d="M322.6 1244L322.6 1251" stroke-width="1.5"/>
<path d="M322.6 1231.4L328.3 1237.1L322.6 1242.8L316.9 1237.1Z" fill="#000" stroke="none"/>
<rect x="316.8" y="1249.4" width="12.4" height="13" fill="#000" stroke="none"/>
<path d="M316 1248.6L330 1263.4M330 1248.6L316 1263.4" stroke-width="1.5"/>
<path d="M381.7 1169.9L439.7 1169.9" stroke-width="3"/>
<path d="M411.4 1164L411.4 1173" stroke-width="1.3"/>
<path d="M405.59999999999997 1155.6H417.2L411.4 1165.4Z" fill="#000" stroke="none"/>
<path d="M411.4 1100.2L417.0 1106L411.4 1111.8L405.79999999999995 1106Z" fill="#000" stroke="none"/>
<path d="M405.2 1099.8L417.59999999999997 1112.2M417.59999999999997 1099.8L405.2 1112.2" stroke-width="2"/>
<rect x="406.4" y="1229.6" width="10.6" height="10" stroke-width="1.5"/>
<path d="M411.4 1249.4L417.0 1259H405.79999999999995Z" fill="#000" stroke="none"/>
<text x="1.00" y="23.00" font-size="31.97" font-weight="bold" font-family='"Liberation Sans", sans-serif' textLength="23.38" lengthAdjust="spacingAndGlyphs">A</text>
<text x="106.50" y="35.50" font-size="23.85" font-weight="bold" textLength="54.02" lengthAdjust="spacingAndGlyphs">Total</text>
<text x="170.50" y="35.50" font-size="23.85" font-weight="bold" textLength="132.26" lengthAdjust="spacingAndGlyphs">Lymphocyte</text>
<text x="311.25" y="35.50" font-size="23.85" font-weight="bold" textLength="51.82" lengthAdjust="spacingAndGlyphs">Gate</text>
<text x="134.75" y="80.00" font-size="25.40" textLength="46.54" lengthAdjust="spacingAndGlyphs">CD4</text>
<text x="278.50" y="80.00" font-size="25.01" textLength="47.86" lengthAdjust="spacingAndGlyphs">CD8</text>
<text x="1.50" y="165.00" font-size="23.91" textLength="59.77" lengthAdjust="spacingAndGlyphs">Blood</text>
<text x="11.25" y="313.25" font-size="25.62" textLength="48.84" lengthAdjust="spacingAndGlyphs">BAL</text>
<text x="197.50" y="242.50" font-size="24.54" textLength="58.33" lengthAdjust="spacingAndGlyphs">BLT1</text>
<text x="204.50" y="402.25" font-size="24.88" textLength="57.34" lengthAdjust="spacingAndGlyphs">BLT1</text>
<text x="160.50" y="163.25" font-size="20.54" textLength="42.05" lengthAdjust="spacingAndGlyphs">0.5%</text>
<text x="297.00" y="163.25" font-size="20.54" textLength="42.30" lengthAdjust="spacingAndGlyphs">0.9%</text>
<text x="156.00" y="308.50" font-size="20.95" textLength="51.62" lengthAdjust="spacingAndGlyphs">14.5%</text>
<text x="288.75" y="281.25" font-size="20.95" textLength="52.05" lengthAdjust="spacingAndGlyphs">28.2%</text>
<text x="-0.00" y="448.00" font-size="32.30" font-weight="bold" font-family='"Liberation Sans", sans-serif' textLength="20.96" lengthAdjust="spacingAndGlyphs">B</text>
<text x="54.50" y="468.75" font-size="24.99" textLength="46.79" lengthAdjust="spacingAndGlyphs">CD4</text>
<text x="158.50" y="468.75" font-size="24.69" textLength="46.33" lengthAdjust="spacingAndGlyphs">CD8</text>
<text transform="translate(19.90 791.50) rotate(-90)" font-size="26.65" textLength="93.27" lengthAdjust="spacingAndGlyphs">CD45RA</text>
<text x="106.75" y="927.75" font-size="25.01" textLength="60.05" lengthAdjust="spacingAndGlyphs">CCR7</text>
<text x="262.75" y="535.25" font-size="24.23">Blood</text>
<text x="264.25" y="565.00" font-size="25.00">Total</text>
<text x="262.75" y="635.25" font-size="24.23">Blood</text>
<text x="262.75" y="665.25" font-size="25.28">BLT1+</text>
<text x="262.75" y="736.00" font-size="24.58">BAL</text>
<text x="264.25" y="765.00" font-size="25.00">Total</text>
<text x="262.75" y="836.00" font-size="24.58">BAL</text>
<text x="262.75" y="865.50" font-size="25.28">BLT1+</text>
<text x="0.00" y="981.75" font-size="32.59" font-weight="bold" font-family='"Liberation Sans", sans-serif' textLength="21.24" lengthAdjust="spacingAndGlyphs">C</text>
<text x="129.50" y="993.75" font-size="23.85" font-weight="bold" textLength="55.52" lengthAdjust="spacingAndGlyphs">Total</text>
<text x="194.50" y="993.75" font-size="23.85" font-weight="bold" textLength="89.51" lengthAdjust="spacingAndGlyphs">Memory</text>
<text x="293.75" y="993.75" font-size="23.85" font-weight="bold" textLength="51.82" lengthAdjust="spacingAndGlyphs">Gate</text>
<text x="122.75" y="1042.00" font-size="25.34" textLength="46.54" lengthAdjust="spacingAndGlyphs">CD4</text>
<text x="351.00" y="1042.00" font-size="25.04" textLength="46.83" lengthAdjust="spacingAndGlyphs">CD8</text>
<text transform="translate(20.00 1205.25) rotate(-90)" font-size="21.71" font-weight="bold" textLength="78.90" lengthAdjust="spacingAndGlyphs">% BLT1</text>
<text transform="translate(246.25 1205.25) rotate(-90)" font-size="21.71" font-weight="bold" textLength="78.90" lengthAdjust="spacingAndGlyphs">% BLT1</text>
<text x="83.25" y="1276.75" font-size="19.33" font-weight="bold" textLength="50.75" lengthAdjust="spacingAndGlyphs">Blood</text>
<text x="177.25" y="1276.75" font-size="18.94" font-weight="bold" textLength="40.53" lengthAdjust="spacingAndGlyphs">BAL</text>
<text x="309.75" y="1276.75" font-size="19.33" font-weight="bold" textLength="51.01" lengthAdjust="spacingAndGlyphs">Blood</text>
<text x="402.25" y="1276.75" font-size="18.94" font-weight="bold" textLength="42.29" lengthAdjust="spacingAndGlyphs">BAL</text>
<text x="121.25" y="1119.75" font-size="16.10" textLength="39.00" lengthAdjust="spacingAndGlyphs"><tspan font-style="italic">P</tspan>=.04</text>
<text x="340.75" y="1119.75" font-size="16.10" textLength="39.52" lengthAdjust="spacingAndGlyphs"><tspan font-style="italic">P</tspan>=.03</text>
<text x="28.10" y="1083.40" font-size="17.79" font-weight="bold" textLength="18.67" lengthAdjust="spacingAndGlyphs">30</text>
<text x="28.10" y="1142.60" font-size="17.79" font-weight="bold" textLength="18.67" lengthAdjust="spacingAndGlyphs">20</text>
<text x="27.35" y="1201.90" font-size="17.79" font-weight="bold" textLength="19.34" lengthAdjust="spacingAndGlyphs">10</text>
<text x="37.25" y="1260.45" font-size="17.79" font-weight="bold" textLength="9.37" lengthAdjust="spacingAndGlyphs">0</text>
<text x="254.10" y="1083.40" font-size="17.79" font-weight="bold" textLength="18.67" lengthAdjust="spacingAndGlyphs">30</text>
<text x="254.10" y="1142.60" font-size="17.79" font-weight="bold" textLength="18.67" lengthAdjust="spacingAndGlyphs">20</text>
<text x="253.35" y="1201.90" font-size="17.79" font-weight="bold" textLength="19.34" lengthAdjust="spacingAndGlyphs">10</text>
<text x="263.25" y="1260.45" font-size="17.79" font-weight="bold" textLength="9.37" lengthAdjust="spacingAndGlyphs">0</text>
</svg>
</body></html>
